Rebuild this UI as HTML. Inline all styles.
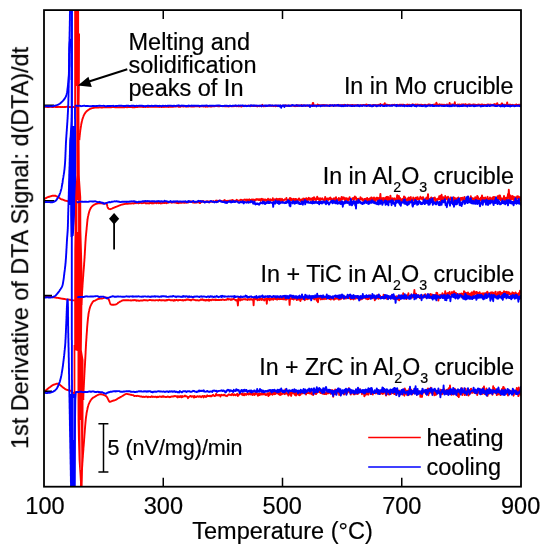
<!DOCTYPE html>
<html><head><meta charset="utf-8"><style>
html,body{margin:0;padding:0;background:#fff;}
svg{display:block;font-family:"Liberation Sans",sans-serif;}
</style></head><body>
<svg width="547" height="550" viewBox="0 0 547 550">
<rect width="547" height="550" fill="#fff"/>
<defs><clipPath id="c"><rect x="44" y="10" width="477" height="476.7"/></clipPath></defs>
<g clip-path="url(#c)" stroke-linejoin="round" stroke-linecap="butt"><path d="M43.0,107.1 L43.6,107.0 L44.2,107.0 L44.8,106.9 L45.4,106.9 L46.0,106.8 L46.6,106.9 L47.2,107.1 L47.8,107.0 L48.4,107.0 L49.0,107.0 L49.6,106.9 L50.2,106.9 L50.8,106.8 L51.4,106.9 L52.0,107.0 L52.6,107.0 L53.2,107.1 L53.8,106.9 L54.4,106.9 L55.0,106.9 L55.6,107.0 L56.2,107.0 L56.8,107.0 L57.4,107.0 L58.0,107.0 L58.6,106.8 L59.2,106.9 L59.8,107.0 L60.4,107.0 L61.0,107.0 L61.6,107.1 L62.2,107.0 L62.8,107.0 L63.4,107.1 L64.0,107.0 L64.6,107.0 L65.2,107.1 L65.8,106.9 L66.4,106.9 L67.0,106.8 L67.6,106.8 L68.2,106.8 L68.8,106.9 L69.4,107.1 L70.0,107.0 L70.6,107.1 L71.2,107.0 L71.8,107.0 L72.4,107.1 L73.0,107.1 L73.6,107.0 L74.2,107.0 L74.8,107.0" stroke="#ff0000" stroke-width="1.9" fill="none"/>
<path d="M43.0,199.4 L43.6,199.1 L44.2,198.9 L44.8,198.6 L45.4,198.4 L46.0,198.0 L46.6,197.8 L47.2,197.4 L47.8,197.2 L48.4,197.0 L49.0,196.7 L49.6,196.7 L50.2,196.4 L50.8,196.3 L51.4,196.0 L52.0,195.9 L52.6,195.7 L53.2,195.6 L53.8,195.7 L54.4,195.7 L55.0,195.6 L55.6,195.7 L56.2,196.1 L56.8,196.4 L57.4,196.8 L58.0,197.1 L58.6,197.5 L59.2,197.9 L59.8,198.3 L60.4,198.7 L61.0,199.1 L61.6,199.3 L62.2,199.5 L62.8,199.7 L63.4,199.9 L64.0,200.2 L64.6,200.5 L65.2,200.6 L65.8,200.7 L66.4,200.9 L67.0,201.0 L67.6,201.2 L68.2,201.4 L68.8,201.4 L69.4,201.3 L70.0,201.4 L70.6,201.4 L71.2,201.3 L71.8,201.4 L72.4,201.4 L73.0,201.4 L73.6,201.5 L74.2,201.4 L74.8,201.4" stroke="#ff0000" stroke-width="1.9" fill="none"/>
<path d="M43.0,295.8 L43.6,295.9 L44.2,296.0 L44.8,296.0 L45.4,296.1 L46.0,296.2 L46.6,296.2 L47.2,296.2 L47.8,296.4 L48.4,296.6 L49.0,296.7 L49.6,296.8 L50.2,296.8 L50.8,296.9 L51.4,297.0 L52.0,297.1 L52.6,297.2 L53.2,297.2 L53.8,297.2 L54.4,297.4 L55.0,297.6 L55.6,297.6 L56.2,297.7 L56.8,297.8 L57.4,297.9 L58.0,297.9 L58.6,298.0 L59.2,298.1 L59.8,298.2 L60.4,298.4 L61.0,298.5 L61.6,298.6 L62.2,298.7 L62.8,298.8 L63.4,298.8 L64.0,299.0 L64.6,299.0 L65.2,299.1 L65.8,299.3 L66.4,299.4 L67.0,299.5 L67.6,299.6 L68.2,299.5 L68.8,299.6 L69.4,299.7 L70.0,299.7 L70.6,300.0 L71.2,300.1 L71.8,300.3 L72.4,300.3 L73.0,300.4 L73.6,300.4 L74.2,300.4 L74.8,300.3" stroke="#ff0000" stroke-width="1.9" fill="none"/>
<path d="M43.0,392.9 L43.6,392.3 L44.2,391.8 L44.8,391.3 L45.4,390.8 L46.0,390.3 L46.6,389.8 L47.2,389.2 L47.8,388.7 L48.4,388.2 L49.0,387.8 L49.6,387.4 L50.2,387.0 L50.8,386.5 L51.4,386.0 L52.0,385.6 L52.6,385.2 L53.2,385.0 L53.8,384.7 L54.4,384.5 L55.0,384.3 L55.6,384.1 L56.2,383.9 L56.8,383.7 L57.4,383.7 L58.0,383.6 L58.6,383.7 L59.2,384.3 L59.8,384.7 L60.4,385.2 L61.0,385.8 L61.6,386.3 L62.2,386.8 L62.8,387.2 L63.4,387.7 L64.0,388.1 L64.6,388.6 L65.2,389.0 L65.8,389.4 L66.4,389.6 L67.0,389.9 L67.6,390.0 L68.2,390.2 L68.8,390.4 L69.4,390.5 L70.0,390.6 L70.6,390.7 L71.2,391.0 L71.8,392.0 L72.4,393.1 L73.0,393.2 L73.6,392.9 L74.2,392.6 L74.8,392.4" stroke="#ff0000" stroke-width="1.9" fill="none"/>
<path d="M44,105.3 L54,105.3 M44,200.9 L54.3,200.9 M44,295.6 L52,295.6 M44,391.3 L52,391.3" stroke="#000" stroke-width="1.6" fill="none"/>
<path d="M43.0,106.5 L43.6,106.3 L44.2,106.4 L44.8,106.4 L45.4,106.4 L46.0,106.3 L46.6,106.1 L47.2,106.1 L47.8,106.3 L48.4,106.3 L49.0,106.4 L49.6,106.2 L50.0,106.4 L50.7,106.4 L51.5,106.4 L52.2,106.3 L52.9,106.2 L53.5,106.0 L54.2,105.8 L54.8,105.6 L55.5,105.5 L56.1,105.3 L56.8,105.1 L57.4,104.9 L58.0,104.7 L58.6,104.4 L59.3,104.0 L59.8,103.7 L60.3,103.3 L60.8,102.8 L61.4,102.4 L61.9,101.9 L62.4,101.4 L62.9,100.9 L63.3,100.4 L63.8,99.9 L64.1,99.4 L64.5,98.8 L64.9,98.3 L65.2,97.7 L65.5,97.2 L65.8,96.6 L66.1,96.0 L66.3,95.3 L66.5,94.7 L66.7,94.0 L66.9,93.3 L67.0,92.7 L67.1,92.2 L67.2,91.6 L67.3,91.0 L67.4,90.3 L67.4,89.7 L67.5,89.0 L67.6,88.2 L67.7,87.7 L67.7,87.2 L67.8,86.6 L67.9,86.1 L67.9,85.5 L68.0,84.9 L68.1,84.3 L68.1,83.7 L68.2,83.0 L68.3,82.4 L68.3,81.6 L68.4,80.9 L68.4,80.4 L68.5,79.9 L68.5,79.4 L68.6,78.9 L68.6,78.4 L68.7,77.9 L68.7,77.3 L68.7,76.8 L68.8,76.2 L68.8,75.7 L68.9,75.1 L68.9,74.4 L68.9,73.8 L69.0,73.1 L69.0,72.4 L69.0,71.6 L69.1,70.8 L69.1,70.0 L69.1,69.5 L69.1,69.0 L69.1,68.5 L69.1,67.9 L69.2,67.3 L69.2,66.8 L69.2,66.1 L69.2,65.5 L69.2,64.9 L69.2,64.2 L69.2,63.6 L69.2,62.9 L69.2,62.2 L69.2,61.5 L69.2,60.8 L69.2,60.2 L69.2,59.5 L69.2,58.8 L69.2,58.1 L69.2,57.4 L69.2,56.8 L69.2,56.1 L69.2,55.5 L69.2,54.8 L69.2,54.2 L69.2,53.6 L69.3,53.0 L69.3,52.5 L69.3,51.9 L69.3,51.4 L69.3,50.9 L69.3,50.4 L69.3,50.0 L69.3,49.0 L69.4,48.0 L69.4,47.2 L69.4,46.5 L69.5,45.8 L69.5,45.2 L69.5,44.6 L69.6,44.1 L69.6,43.6 L69.7,43.2 L69.7,42.8 L69.8,42.4 L69.8,42.0 L70.0,40.5 L70.3,39.7 L70.6,40.0 L70.7,40.2 L70.7,40.4 L70.8,40.7 L70.9,40.9 L70.9,41.3 L71.0,41.6 L71.1,42.1 L71.1,42.7 L71.2,43.4 L71.3,44.3 L71.3,45.3 L71.4,46.6 L71.4,48.0 L71.4,48.4 L71.4,48.8 L71.4,49.2 L71.4,49.6 L71.4,50.1 L71.4,50.6 L71.5,51.0 L71.5,51.5 L71.5,52.0 L71.5,52.5 L71.5,53.1 L71.5,53.6 L71.5,54.2 L71.5,54.7 L71.5,55.3 L71.5,55.9 L71.5,56.5 L71.5,57.1 L71.5,57.7 L71.5,58.3 L71.5,58.9 L71.5,59.6 L71.5,60.2 L71.5,60.9 L71.5,61.5 L71.5,62.2 L71.5,62.8 L71.5,63.5 L71.5,64.2 L71.5,64.8 L71.5,65.5 L71.5,66.2 L71.6,66.9 L71.6,67.5 L71.6,68.2 L71.6,68.9 L71.6,69.6 L71.6,70.3 L71.6,70.9 L71.6,71.6 L71.6,72.3 L71.6,72.9 L71.6,73.6 L71.6,74.3 L71.6,74.9 L71.6,75.6 L71.6,76.2 L71.6,76.9 L71.6,77.5 L71.6,78.2 L71.6,78.8 L71.6,79.4 L71.6,80.0" stroke="#0000ff" stroke-width="1.9" fill="none"/>
<path d="M43.0,202.3 L43.6,202.3 L44.2,202.5 L44.8,202.2 L45.4,202.1 L46.0,202.0 L46.6,202.0 L47.2,202.1 L47.8,202.1 L48.4,202.1 L49.0,202.1 L49.6,202.1 L50.2,202.2 L50.8,202.1 L51.0,202.2 L51.7,202.2 L52.4,202.2 L53.0,202.1 L53.8,201.9 L54.6,201.5 L55.0,201.2 L55.5,200.9 L56.0,200.5 L56.5,199.9 L56.9,199.4 L57.2,198.8 L57.6,198.1 L58.0,197.5 L58.3,196.9 L58.6,196.4 L59.0,195.9 L59.4,195.0 L59.5,194.6 L59.7,194.1 L59.9,193.6 L60.1,193.1 L60.3,192.5 L60.5,191.8 L60.7,191.2 L60.9,190.4 L61.1,189.7 L61.3,189.0 L61.5,188.2 L61.6,187.7 L61.7,187.1 L61.8,186.6 L61.9,186.0 L62.0,185.4 L62.1,184.8 L62.3,184.1 L62.4,183.5 L62.5,182.9 L62.6,182.2 L62.7,181.6 L62.7,180.9 L62.8,180.3 L62.9,179.7 L63.0,179.1 L63.1,178.5 L63.2,178.0 L63.3,177.3 L63.4,176.7 L63.5,176.0 L63.6,175.4 L63.7,174.9 L63.8,174.3 L63.9,173.7 L64.0,173.1 L64.1,172.5 L64.2,171.9 L64.2,171.3 L64.3,170.7 L64.4,170.0 L64.5,169.4 L64.5,168.9 L64.6,168.4 L64.6,167.8 L64.7,167.3 L64.7,166.7 L64.8,166.2 L64.8,165.6 L64.9,165.0 L64.9,164.4 L65.0,163.8 L65.0,163.1 L65.1,162.4 L65.1,161.6 L65.2,160.8 L65.2,160.0 L65.2,159.5 L65.3,159.0 L65.3,158.5 L65.3,158.0 L65.3,157.4 L65.4,156.8 L65.4,156.2 L65.4,155.6 L65.4,155.0 L65.5,154.4 L65.5,153.7 L65.5,153.1 L65.5,152.4 L65.6,151.8 L65.6,151.1 L65.6,150.5 L65.7,149.8 L65.7,149.2 L65.7,148.5 L65.7,147.9 L65.8,147.2 L65.8,146.6 L65.8,146.0 L65.8,145.3 L65.9,144.7 L65.9,144.2 L65.9,143.6 L65.9,143.0 L66.0,142.5 L66.0,142.0 L66.0,141.3 L66.1,140.6 L66.1,139.9 L66.2,139.2 L66.2,138.6 L66.2,138.0 L66.3,137.4 L66.3,136.8 L66.4,136.2 L66.4,135.6 L66.4,135.1 L66.5,134.5 L66.5,134.0 L66.6,133.4 L66.6,132.9 L66.6,132.3 L66.7,131.7 L66.7,131.2 L66.8,130.6 L66.8,130.0 L66.8,129.4 L66.9,128.8 L66.9,128.2 L67.0,127.6 L67.0,127.1 L67.0,126.5 L67.1,125.9 L67.1,125.3 L67.2,124.8 L67.2,124.2 L67.2,123.6 L67.3,123.0 L67.3,122.4 L67.4,121.8 L67.4,121.2 L67.4,120.6 L67.5,120.0 L67.5,119.3 L67.6,118.7 L67.6,118.0 L67.6,117.5 L67.7,116.9 L67.7,116.4 L67.7,115.9 L67.7,115.3 L67.8,114.8 L67.8,114.2 L67.8,113.7 L67.9,113.2 L67.9,112.6 L67.9,112.0 L68.0,111.5 L68.0,110.9 L68.0,110.3 L68.0,109.7 L68.1,109.1 L68.1,108.5 L68.1,107.9 L68.1,107.2 L68.2,106.6 L68.2,105.9 L68.2,105.2 L68.3,104.5 L68.3,103.7 L68.3,103.0 L68.3,102.5 L68.3,102.0 L68.3,101.5 L68.4,101.0 L68.4,100.4 L68.4,99.9 L68.4,99.4 L68.4,98.8 L68.4,98.3 L68.4,97.7 L68.5,97.1 L68.5,96.6 L68.5,96.0 L68.5,95.4 L68.5,94.8 L68.5,94.2 L68.5,93.6 L68.5,93.0 L68.6,92.4 L68.6,91.8 L68.6,91.2 L68.6,90.6 L68.6,90.0 L68.6,89.3 L68.6,88.7 L68.6,88.1 L68.7,87.4 L68.7,86.8 L68.7,86.1 L68.7,85.4 L68.7,84.8 L68.7,84.1 L68.7,83.4 L68.7,82.8 L68.8,82.1 L68.8,81.4 L68.8,80.7 L68.8,80.0 L68.8,79.5 L68.8,78.9 L68.8,78.4 L68.8,77.9 L68.8,77.3 L68.9,76.8 L68.9,76.2 L68.9,75.7 L68.9,75.2 L68.9,74.6 L68.9,74.1 L68.9,73.5 L68.9,72.9 L68.9,72.4 L68.9,71.8 L69.0,71.3 L69.0,70.7 L69.0,70.1 L69.0,69.6 L69.0,69.0 L69.0,68.4 L69.0,67.8 L69.0,67.2 L69.0,66.7 L69.0,66.1 L69.0,65.5 L69.1,64.9 L69.1,64.3 L69.1,63.7 L69.1,63.1 L69.1,62.4 L69.1,61.8 L69.1,61.2 L69.1,60.6 L69.1,60.0 L69.1,59.3 L69.2,58.7 L69.2,58.0 L69.2,57.4 L69.2,56.8 L69.2,56.1 L69.2,55.4 L69.2,54.8 L69.2,54.1 L69.2,53.4 L69.3,52.8 L69.3,52.1 L69.3,51.4 L69.3,50.7 L69.3,50.0 L69.3,49.5 L69.3,48.9 L69.3,48.4 L69.3,47.8 L69.3,47.3 L69.4,46.7 L69.4,46.1 L69.4,45.6 L69.4,45.0 L69.4,44.4 L69.4,43.8 L69.4,43.2 L69.4,42.6 L69.4,42.0 L69.5,41.4 L69.5,40.8 L69.5,40.2 L69.5,39.5 L69.5,38.9 L69.5,38.3 L69.5,37.7 L69.5,37.0 L69.6,36.4 L69.6,35.8 L69.6,35.1 L69.6,34.5 L69.6,33.9 L69.6,33.2 L69.6,32.6 L69.6,31.9 L69.7,31.3 L69.7,30.6 L69.7,30.0 L69.7,29.4 L69.7,28.7 L69.7,28.1 L69.7,27.4 L69.7,26.8 L69.8,26.1 L69.8,25.5 L69.8,24.9 L69.8,24.2 L69.8,23.6 L69.8,23.0 L69.8,22.3 L69.8,21.7 L69.8,21.1 L69.9,20.5 L69.9,19.8 L69.9,19.2 L69.9,18.6 L69.9,18.0 L69.9,17.4 L69.9,16.8 L69.9,16.2 L69.9,15.6 L69.9,15.0 L69.9,14.4 L70.0,13.9 L70.0,13.3 L70.0,12.7 L70.0,12.2 L70.0,11.6 L70.0,11.1 L70.0,10.5 L70.0,10.0 L70.0,9.3 L70.0,8.6 L70.0,7.9 L70.0,7.3 L70.0,6.6 L70.0,5.9 L70.0,5.3 L70.0,4.6 L70.0,4.0 L70.0,3.4 L70.0,2.7 L70.0,2.1 L70.0,1.5 L70.1,0.9 L70.1,0.3 L70.1,-0.3 L70.1,-0.9 L70.1,-1.5 L70.1,-2.1 L70.1,-2.7 L70.0,-3.3 L70.0,-3.9 L70.0,-4.5 L70.0,-5.0 L70.0,-5.6 L70.0,-6.2 L70.0,-6.8 L70.0,-7.3 L70.0,-7.9 L70.0,-8.5 L70.0,-9.0 L70.0,-9.6 L70.0,-10.2 L70.0,-10.7 L70.0,-11.3 L70.0,-11.9 L70.0,-12.5 L70.0,-13.0 L70.0,-13.6 L70.0,-14.2 L70.0,-14.7 L70.0,-15.3 L70.0,-15.9 L70.0,-16.5 L70.0,-17.0 L70.0,-17.6 L70.0,-18.2 L70.0,-18.8 L70.0,-19.4 L70.0,-20.0" stroke="#0000ff" stroke-width="1.9" fill="none"/>
<path d="M43.0,297.4 L43.6,297.4 L44.2,297.3 L44.8,297.5 L45.4,297.4 L46.0,297.5 L46.6,297.4 L47.2,297.3 L47.8,297.4 L48.4,297.5 L49.0,297.5 L49.5,297.5 L50.2,297.5 L50.9,297.5 L51.5,297.4 L52.4,297.2 L53.2,296.9 L53.8,296.7 L54.3,296.4 L55.0,296.0 L55.4,295.7 L55.8,295.3 L56.2,294.9 L56.6,294.4 L57.1,293.9 L57.5,293.4 L57.9,292.9 L58.3,292.4 L58.7,291.8 L59.1,291.3 L59.5,290.7 L59.9,290.0 L60.2,289.6 L60.5,289.2 L60.8,288.7 L61.1,288.3 L61.4,287.9 L61.7,287.3 L62.0,286.7 L62.3,285.9 L62.6,285.0 L62.7,284.6 L62.8,284.1 L62.9,283.6 L63.0,283.0 L63.1,282.4 L63.2,281.8 L63.3,281.2 L63.4,280.6 L63.5,279.9 L63.6,279.3 L63.7,278.6 L63.8,277.9 L63.9,277.2 L63.9,276.6 L64.0,275.9 L64.1,275.2 L64.2,274.5 L64.3,273.9 L64.3,273.2 L64.4,272.6 L64.5,272.0 L64.6,271.4 L64.7,270.8 L64.7,270.2 L64.8,269.7 L64.9,269.1 L64.9,268.6 L65.0,268.0 L65.1,267.5 L65.1,267.0 L65.2,266.4 L65.3,265.9 L65.3,265.3 L65.4,264.8 L65.4,264.2 L65.5,263.5 L65.6,262.9 L65.6,262.2 L65.7,261.5 L65.7,260.8 L65.8,260.0 L65.8,259.5 L65.9,259.0 L65.9,258.5 L66.0,257.9 L66.0,257.3 L66.0,256.7 L66.1,256.1 L66.1,255.5 L66.1,254.9 L66.2,254.3 L66.2,253.6 L66.3,253.0 L66.3,252.3 L66.3,251.7 L66.4,251.0 L66.4,250.3 L66.4,249.7 L66.5,249.0 L66.5,248.3 L66.6,247.7 L66.6,247.0 L66.6,246.4 L66.7,245.7 L66.7,245.1 L66.7,244.5 L66.8,243.9 L66.8,243.3 L66.8,242.7 L66.9,242.1 L66.9,241.5 L66.9,241.0 L67.0,240.5 L67.0,240.0 L67.0,239.2 L67.1,238.5 L67.1,237.8 L67.2,237.2 L67.2,236.6 L67.3,236.0 L67.3,235.4 L67.4,234.9 L67.4,234.4 L67.4,233.9 L67.5,233.4 L67.5,232.8 L67.6,232.3 L67.6,231.8 L67.6,231.2 L67.7,230.7 L67.7,230.0 L67.7,229.4 L67.8,228.7 L67.8,228.0 L67.8,227.5 L67.8,227.0 L67.9,226.5 L67.9,226.0 L67.9,225.5 L67.9,225.0 L67.9,224.5 L67.9,223.9 L68.0,223.4 L68.0,222.9 L68.0,222.4 L68.0,221.8 L68.0,221.3 L68.0,220.7 L68.0,220.1 L68.1,219.5 L68.1,219.0 L68.1,218.4 L68.1,217.7 L68.1,217.1 L68.1,216.5 L68.1,215.8 L68.2,215.1 L68.2,214.5 L68.2,213.8 L68.2,213.0 L68.2,212.3 L68.3,211.6 L68.3,210.8 L68.3,210.0 L68.3,209.5 L68.3,209.0 L68.3,208.5 L68.4,208.0 L68.4,207.5 L68.4,207.0 L68.4,206.4 L68.4,205.9 L68.4,205.3 L68.5,204.8 L68.5,204.2 L68.5,203.6 L68.5,203.1 L68.5,202.5 L68.5,201.9 L68.6,201.3 L68.6,200.7 L68.6,200.1 L68.6,199.5 L68.6,198.9 L68.7,198.2 L68.7,197.6 L68.7,197.0 L68.7,196.4 L68.7,195.8 L68.8,195.1 L68.8,194.5 L68.8,193.9 L68.8,193.2 L68.8,192.6 L68.8,191.9 L68.9,191.3 L68.9,190.7 L68.9,190.0 L68.9,189.4 L68.9,188.7 L69.0,188.1 L69.0,187.5 L69.0,186.8 L69.0,186.2 L69.0,185.6 L69.1,184.9 L69.1,184.3 L69.1,183.7 L69.1,183.1 L69.1,182.4 L69.1,181.8 L69.2,181.2 L69.2,180.6 L69.2,180.0 L69.2,179.4 L69.2,178.8 L69.3,178.2 L69.3,177.6 L69.3,176.9 L69.3,176.3 L69.3,175.7 L69.3,175.1 L69.3,174.4 L69.4,173.8 L69.4,173.2 L69.4,172.5 L69.4,171.9 L69.4,171.3 L69.4,170.6 L69.5,170.0 L69.5,169.3 L69.5,168.7 L69.5,168.1 L69.5,167.4 L69.5,166.8 L69.6,166.1 L69.6,165.5 L69.6,164.9 L69.6,164.2 L69.6,163.6 L69.6,163.0 L69.6,162.4 L69.7,161.8 L69.7,161.1 L69.7,160.5 L69.7,159.9 L69.7,159.3 L69.7,158.7 L69.8,158.1 L69.8,157.5 L69.8,156.9 L69.8,156.4 L69.8,155.8 L69.8,155.2 L69.9,154.7 L69.9,154.1 L69.9,153.6 L69.9,153.0 L69.9,152.5 L69.9,152.0 L69.9,151.5 L70.0,151.0 L70.0,150.5 L70.0,150.0 L70.0,149.2 L70.1,148.4 L70.1,147.7 L70.1,147.0 L70.1,146.2 L70.2,145.5 L70.2,144.9 L70.2,144.2 L70.3,143.5 L70.3,142.9 L70.3,142.3 L70.4,141.6 L70.4,141.0 L70.4,140.5 L70.5,139.9 L70.5,139.3 L70.5,138.7 L70.5,138.2 L70.6,137.6 L70.6,137.1 L70.6,136.6 L70.7,136.1 L70.7,135.5 L70.7,135.0 L70.8,134.5 L70.8,134.0 L70.8,133.5 L70.8,133.0 L70.9,132.5 L70.9,132.0 L70.9,131.3 L71.0,130.6 L71.0,130.0 L71.1,129.3 L71.1,128.8 L71.1,128.2 L71.2,127.7 L71.2,127.2 L71.3,126.6 L71.3,126.1 L71.3,125.6 L71.4,125.1 L71.4,124.6 L71.4,124.0 L71.5,123.4 L71.5,122.8 L71.5,122.2 L71.6,121.5 L71.6,120.8 L71.6,120.0 L71.6,119.5 L71.6,119.1 L71.6,118.7 L71.6,118.4 L71.7,118.1 L71.7,117.8 L71.7,117.5 L71.7,117.3 L71.7,117.0 L71.7,116.8 L71.7,116.5 L71.7,116.3 L71.7,116.0 L71.7,115.7 L71.7,115.4 L71.7,115.1 L71.7,114.7 L71.8,114.3 L71.8,113.8 L71.8,113.3 L71.8,112.8 L71.8,112.1 L71.8,111.5 L71.8,110.7 L71.8,109.9 L71.8,109.0 L71.8,108.0 L71.8,106.9 L71.8,105.8 L71.8,104.5 L71.8,103.1 L71.8,101.6 L71.8,100.0 L71.8,99.6 L71.8,99.2 L71.8,98.9 L71.8,98.5 L71.8,98.1 L71.8,97.6 L71.8,97.2 L71.8,96.8 L71.8,96.4 L71.8,95.9 L71.8,95.5 L71.8,95.0 L71.8,94.5 L71.8,94.0 L71.8,93.6 L71.8,93.1 L71.8,92.6 L71.8,92.1 L71.8,91.6 L71.8,91.0 L71.8,90.5 L71.8,90.0 L71.8,89.4 L71.8,88.9 L71.8,88.4 L71.8,87.8 L71.8,87.2 L71.8,86.7 L71.8,86.1 L71.8,85.5 L71.8,84.9 L71.8,84.3 L71.8,83.8 L71.8,83.2 L71.8,82.5 L71.8,81.9 L71.8,81.3 L71.8,80.7 L71.8,80.1 L71.8,79.5 L71.8,78.8 L71.8,78.2 L71.8,77.5 L71.8,76.9 L71.8,76.3 L71.8,75.6 L71.8,74.9 L71.8,74.3 L71.8,73.6 L71.8,73.0 L71.8,72.3 L71.8,71.6 L71.8,70.9 L71.8,70.3 L71.8,69.6 L71.8,68.9 L71.8,68.2 L71.8,67.5 L71.8,66.9 L71.8,66.2 L71.8,65.5 L71.8,64.8 L71.8,64.1 L71.8,63.4 L71.8,62.7 L71.8,62.0 L71.8,61.3 L71.8,60.6 L71.8,59.9 L71.8,59.2 L71.8,58.5 L71.8,57.7 L71.8,57.0 L71.8,56.3 L71.8,55.6 L71.8,54.9 L71.8,54.2 L71.8,53.5 L71.8,52.8 L71.8,52.1 L71.8,51.4 L71.8,50.7 L71.8,50.0 L71.8,49.3 L71.8,48.5 L71.8,47.8 L71.8,47.1 L71.8,46.4 L71.8,45.7 L71.8,45.0 L71.8,44.3 L71.8,43.6 L71.8,43.0 L71.8,42.3 L71.8,41.6 L71.8,40.9 L71.8,40.2 L71.8,39.5 L71.8,38.8 L71.8,38.1 L71.8,37.5 L71.8,36.8 L71.8,36.1 L71.8,35.5 L71.8,34.8 L71.8,34.1 L71.8,33.5 L71.8,32.8 L71.8,32.2 L71.8,31.5 L71.8,30.9 L71.8,30.2 L71.8,29.6 L71.8,29.0 L71.8,28.3 L71.8,27.7 L71.8,27.1 L71.8,26.5 L71.8,25.9 L71.8,25.3 L71.8,24.7 L71.8,24.1 L71.8,23.5 L71.8,22.9 L71.8,22.3 L71.8,21.8 L71.8,21.2 L71.8,20.6 L71.8,20.1 L71.8,19.5 L71.8,19.0 L71.8,18.5 L71.8,17.9 L71.8,17.4 L71.8,16.9 L71.8,16.4 L71.8,15.9 L71.8,15.4 L71.8,14.9 L71.8,14.4 L71.8,13.9 L71.8,13.5 L71.8,13.0 L71.8,12.5 L71.8,12.1 L71.8,11.7 L71.8,11.2 L71.8,10.8 L71.8,10.4 L71.8,10.0 L71.8,8.8 L71.8,7.7 L71.8,6.6 L71.8,5.6 L71.8,4.6 L71.8,3.6 L71.8,2.7 L71.8,1.8 L71.8,1.0 L71.8,0.2 L71.8,-0.6 L71.8,-1.4 L71.8,-2.1 L71.8,-2.8 L71.8,-3.4 L71.8,-4.0 L71.8,-4.6 L71.8,-5.2 L71.8,-5.8 L71.8,-6.3 L71.8,-6.8 L71.8,-7.3 L71.8,-7.8 L71.8,-8.3 L71.8,-8.8 L71.8,-9.2 L71.8,-9.6 L71.8,-10.1 L71.8,-10.5 L71.8,-10.9 L71.8,-11.3 L71.8,-11.7 L71.8,-12.1 L71.8,-12.5 L71.8,-12.9 L71.8,-13.3 L71.8,-13.7 L71.8,-14.1 L71.8,-14.5 L71.8,-15.0 L71.8,-15.4 L71.8,-15.8 L71.8,-16.3 L71.8,-16.8 L71.8,-17.3 L71.8,-17.8 L71.8,-18.3 L71.8,-18.8 L71.8,-19.4 L71.8,-20.0" stroke="#0000ff" stroke-width="1.9" fill="none"/>
<path d="M43.0,392.6 L43.6,392.6 L44.2,392.7 L44.8,392.7 L45.4,392.9 L46.0,393.0 L46.6,393.1 L47.2,393.0 L47.8,392.8 L48.0,392.8 L48.6,392.8 L49.2,392.8 L49.9,392.7 L50.5,392.6 L51.2,392.4 L51.9,392.2 L52.5,391.9 L53.2,391.6 L53.8,391.2 L54.4,390.9 L55.0,390.4 L55.5,389.9 L55.9,389.5 L56.3,389.1 L56.7,388.6 L57.1,388.0 L57.5,387.3 L57.7,386.8 L58.0,386.3 L58.2,385.8 L58.5,385.2 L58.7,384.6 L59.0,384.0 L59.2,383.3 L59.5,382.7 L59.7,382.0 L59.9,381.5 L60.0,381.0 L60.2,380.4 L60.3,379.9 L60.4,379.4 L60.6,378.8 L60.7,378.2 L60.9,377.6 L61.0,377.0 L61.1,376.4 L61.3,375.7 L61.4,375.0 L61.5,374.5 L61.6,373.9 L61.7,373.4 L61.8,372.8 L61.9,372.3 L62.0,371.7 L62.1,371.1 L62.2,370.5 L62.3,369.9 L62.4,369.2 L62.5,368.6 L62.6,367.9 L62.7,367.2 L62.8,366.5 L62.9,365.8 L63.0,365.0 L63.1,364.5 L63.1,364.0 L63.2,363.4 L63.3,362.8 L63.3,362.2 L63.4,361.6 L63.5,361.0 L63.6,360.4 L63.6,359.8 L63.7,359.1 L63.8,358.5 L63.9,357.8 L63.9,357.2 L64.0,356.5 L64.1,355.9 L64.2,355.2 L64.2,354.6 L64.3,354.0 L64.4,353.4 L64.4,352.8 L64.5,352.2 L64.5,351.6 L64.6,351.0 L64.6,350.5 L64.7,350.0 L64.8,349.3 L64.8,348.6 L64.9,348.0 L65.0,347.4 L65.0,346.8 L65.1,346.3 L65.1,345.8 L65.2,345.3 L65.2,344.8 L65.2,344.3 L65.3,343.7 L65.3,343.1 L65.4,342.4 L65.4,341.7 L65.4,340.9 L65.5,340.0 L65.5,339.5 L65.6,339.0 L65.6,338.5 L65.6,338.0 L65.6,337.5 L65.7,336.9 L65.7,336.3 L65.7,335.7 L65.7,335.1 L65.8,334.5 L65.8,333.9 L65.8,333.3 L65.9,332.6 L65.9,332.0 L65.9,331.3 L65.9,330.6 L66.0,330.0 L66.0,329.3 L66.0,328.7 L66.1,328.0 L66.1,327.3 L66.1,326.7 L66.1,326.0 L66.2,325.4 L66.2,324.7 L66.2,324.1 L66.3,323.5 L66.3,322.9 L66.3,322.3 L66.3,321.7 L66.4,321.1 L66.4,320.5 L66.4,320.0 L66.4,319.3 L66.5,318.6 L66.5,317.9 L66.5,317.2 L66.5,316.5 L66.6,315.8 L66.6,315.2 L66.6,314.5 L66.6,313.8 L66.7,313.2 L66.7,312.5 L66.7,311.9 L66.7,311.3 L66.8,310.7 L66.8,310.1 L66.8,309.5 L66.8,308.9 L66.8,308.4 L66.9,307.8 L66.9,307.3 L66.9,306.8 L66.9,306.3 L67.0,305.9 L67.0,305.4 L67.0,305.0 L67.1,303.9 L67.1,302.9 L67.2,302.1 L67.2,301.4 L67.3,300.7 L67.3,300.2 L67.4,299.9 L67.4,299.6 L67.5,299.5 L67.6,299.4 L67.6,299.4 L67.7,299.6 L67.7,300.0 L67.8,300.9 L67.8,302.1 L67.9,304.0 L67.9,304.4 L67.9,304.8 L67.9,305.2 L67.9,305.6 L67.9,306.0 L67.9,306.5 L68.0,307.0 L68.0,307.5 L68.0,308.0 L68.0,308.5 L68.0,309.0 L68.0,309.6 L68.0,310.2 L68.0,310.7 L68.0,311.3 L68.0,311.9 L68.0,312.5 L68.0,313.2 L68.0,313.8 L68.0,314.4 L68.0,315.1 L68.0,315.7 L68.0,316.4 L68.1,317.1 L68.1,317.7 L68.1,318.4 L68.1,319.1 L68.1,319.8 L68.1,320.5 L68.1,321.2 L68.1,321.9 L68.1,322.5 L68.1,323.2 L68.1,323.9 L68.1,324.6 L68.1,325.3 L68.1,326.0 L68.2,326.7 L68.2,327.3 L68.2,328.0 L68.2,328.7 L68.2,329.3 L68.2,330.0 L68.2,330.6 L68.2,331.1 L68.2,331.7 L68.2,332.2 L68.2,332.8 L68.3,333.4 L68.3,333.9 L68.3,334.5 L68.3,335.0 L68.3,335.6 L68.3,336.1 L68.3,336.7 L68.3,337.3 L68.3,337.8 L68.4,338.4 L68.4,339.0 L68.4,339.5 L68.4,340.1 L68.4,340.7 L68.4,341.2 L68.4,341.8 L68.4,342.4 L68.5,343.0 L68.5,343.5 L68.5,344.1 L68.5,344.7 L68.5,345.3 L68.5,345.9 L68.5,346.5 L68.5,347.1 L68.6,347.7 L68.6,348.3 L68.6,348.9 L68.6,349.5 L68.6,350.1 L68.6,350.8 L68.6,351.4 L68.6,352.0 L68.7,352.7 L68.7,353.3 L68.7,353.9 L68.7,354.6 L68.7,355.2 L68.7,355.9 L68.7,356.6 L68.7,357.2 L68.8,357.9 L68.8,358.6 L68.8,359.3 L68.8,360.0 L68.8,360.5 L68.8,361.1 L68.8,361.6 L68.8,362.2 L68.8,362.7 L68.9,363.3 L68.9,363.8 L68.9,364.4 L68.9,364.9 L68.9,365.5 L68.9,366.1 L68.9,366.7 L68.9,367.2 L68.9,367.8 L69.0,368.4 L69.0,369.0 L69.0,369.6 L69.0,370.2 L69.0,370.8 L69.0,371.4 L69.0,372.0 L69.0,372.6 L69.0,373.2 L69.0,373.8 L69.1,374.4 L69.1,375.0 L69.1,375.6 L69.1,376.3 L69.1,376.9 L69.1,377.5 L69.1,378.1 L69.1,378.8 L69.1,379.4 L69.2,380.0 L69.2,380.6 L69.2,381.3 L69.2,381.9 L69.2,382.5 L69.2,383.1 L69.2,383.8 L69.2,384.4 L69.2,385.0 L69.3,385.7 L69.3,386.3 L69.3,386.9 L69.3,387.6 L69.3,388.2 L69.3,388.8 L69.3,389.5 L69.3,390.1 L69.3,390.7 L69.3,391.3 L69.4,392.0 L69.4,392.6 L69.4,393.2 L69.4,393.8 L69.4,394.5 L69.4,395.1 L69.4,395.7 L69.4,396.3 L69.4,396.9 L69.5,397.6 L69.5,398.2 L69.5,398.8 L69.5,399.4 L69.5,400.0 L69.5,400.6 L69.5,401.2 L69.5,401.8 L69.5,402.4 L69.6,403.0 L69.6,403.6 L69.6,404.2 L69.6,404.8 L69.6,405.4 L69.6,406.0 L69.6,406.6 L69.6,407.2 L69.6,407.8 L69.6,408.4 L69.7,409.0 L69.7,409.6 L69.7,410.2 L69.7,410.7 L69.7,411.3 L69.7,411.9 L69.7,412.5 L69.7,413.1 L69.7,413.7 L69.8,414.3 L69.8,414.9 L69.8,415.5 L69.8,416.1 L69.8,416.7 L69.8,417.3 L69.8,417.8 L69.8,418.4 L69.8,419.0 L69.8,419.6 L69.9,420.2 L69.9,420.8 L69.9,421.4 L69.9,422.0 L69.9,422.6 L69.9,423.2 L69.9,423.8 L69.9,424.4 L69.9,425.0 L69.9,425.6 L70.0,426.2 L70.0,426.8 L70.0,427.4 L70.0,428.0 L70.0,428.7 L70.0,429.3 L70.0,429.9 L70.0,430.5 L70.0,431.1 L70.1,431.7 L70.1,432.4 L70.1,433.0 L70.1,433.6 L70.1,434.2 L70.1,434.9 L70.1,435.5 L70.1,436.1 L70.1,436.8 L70.2,437.4 L70.2,438.1 L70.2,438.7 L70.2,439.3 L70.2,440.0 L70.2,440.6 L70.2,441.1 L70.2,441.7 L70.2,442.3 L70.3,442.9 L70.3,443.5 L70.3,444.1 L70.3,444.6 L70.3,445.2 L70.3,445.8 L70.3,446.4 L70.3,447.1 L70.3,447.7 L70.3,448.3 L70.4,448.9 L70.4,449.5 L70.4,450.1 L70.4,450.7 L70.4,451.4 L70.4,452.0 L70.4,452.6 L70.4,453.2 L70.5,453.9 L70.5,454.5 L70.5,455.1 L70.5,455.8 L70.5,456.4 L70.5,457.0 L70.5,457.7 L70.5,458.3 L70.5,458.9 L70.6,459.6 L70.6,460.2 L70.6,460.8 L70.6,461.5 L70.6,462.1 L70.6,462.7 L70.6,463.4 L70.6,464.0 L70.7,464.6 L70.7,465.3 L70.7,465.9 L70.7,466.5 L70.7,467.2 L70.7,467.8 L70.7,468.4 L70.7,469.1 L70.7,469.7 L70.8,470.3 L70.8,470.9 L70.8,471.5 L70.8,472.2 L70.8,472.8 L70.8,473.4 L70.8,474.0 L70.8,474.6 L70.8,475.2 L70.8,475.8 L70.9,476.4 L70.9,477.0 L70.9,477.6 L70.9,478.2 L70.9,478.8 L70.9,479.3 L70.9,479.9 L70.9,480.5 L70.9,481.1 L70.9,481.6 L70.9,482.2 L71.0,482.8 L71.0,483.3 L71.0,483.9 L71.0,484.4 L71.0,484.9 L71.0,485.5 L71.0,486.0 L71.0,486.7 L71.0,487.4 L71.0,488.1 L71.0,488.8 L71.0,489.5 L71.0,490.2 L71.1,490.8 L71.1,491.5 L71.1,492.1 L71.1,492.8 L71.1,493.4 L71.1,494.1 L71.1,494.7 L71.1,495.3 L71.1,496.0 L71.1,496.6 L71.1,497.2 L71.1,497.8 L71.1,498.4 L71.1,499.0 L71.1,499.6 L71.1,500.2 L71.1,500.8 L71.1,501.4 L71.1,502.0 L71.1,502.6 L71.1,503.2 L71.1,503.8 L71.1,504.3 L71.1,504.9 L71.1,505.5 L71.1,506.1 L71.1,506.6 L71.1,507.2 L71.2,507.8 L71.2,508.3 L71.2,508.9 L71.2,509.5 L71.2,510.1 L71.2,510.6 L71.2,511.2 L71.2,511.8 L71.2,512.4 L71.2,512.9 L71.2,513.5 L71.2,514.1 L71.2,514.7 L71.2,515.2 L71.2,515.8 L71.2,516.4 L71.2,517.0 L71.2,517.6 L71.2,518.2 L71.2,518.8 L71.2,519.4 L71.2,520.0" stroke="#0000ff" stroke-width="1.9" fill="none"/>
<path d="M71.8,-20.0 L71.8,-19.4 L71.8,-18.8 L71.8,-18.2 L71.8,-17.6 L71.8,-17.0 L71.8,-16.4 L71.8,-15.8 L71.8,-15.3 L71.8,-14.7 L71.8,-14.1 L71.8,-13.5 L71.8,-12.9 L71.8,-12.4 L71.8,-11.8 L71.8,-11.2 L71.8,-10.6 L71.8,-10.1 L71.8,-9.5 L71.8,-8.9 L71.8,-8.4 L71.8,-7.8 L71.8,-7.2 L71.8,-6.7 L71.8,-6.1 L71.8,-5.5 L71.8,-5.0 L71.8,-4.4 L71.8,-3.9 L71.8,-3.3 L71.8,-2.8 L71.8,-2.2 L71.8,-1.7 L71.8,-1.1 L71.8,-0.6 L71.8,-0.0 L71.8,0.5 L71.8,1.1 L71.8,1.6 L71.8,2.2 L71.8,2.7 L71.8,3.3 L71.8,3.8 L71.8,4.3 L71.8,4.9 L71.8,5.4 L71.8,6.0 L71.8,6.5 L71.8,7.0 L71.8,7.6 L71.8,8.1 L71.8,8.7 L71.8,9.2 L71.8,9.7 L71.8,10.3 L71.8,10.8 L71.8,11.3 L71.8,11.9 L71.8,12.4 L71.8,12.9 L71.8,13.5 L71.8,14.0 L71.8,14.5 L71.8,15.1 L71.8,15.6 L71.8,16.1 L71.8,16.7 L71.8,17.2 L71.8,17.7 L71.8,18.3 L71.8,18.8 L71.8,19.3 L71.8,19.9 L71.8,20.4 L71.8,21.0 L71.8,21.5 L71.8,22.0 L71.8,22.6 L71.8,23.1 L71.8,23.6 L71.8,24.2 L71.8,24.7 L71.8,25.2 L71.8,25.8 L71.8,26.3 L71.8,26.8 L71.8,27.4 L71.8,27.9 L71.8,28.5 L71.8,29.0 L71.8,29.5 L71.8,30.1 L71.8,30.6 L71.8,31.2 L71.8,31.7 L71.8,32.3 L71.8,32.8 L71.8,33.4 L71.8,33.9 L71.8,34.5 L71.8,35.0 L71.8,35.6 L71.8,36.1 L71.8,36.7 L71.8,37.2 L71.8,37.8 L71.8,38.3 L71.8,38.9 L71.8,39.4 L71.8,40.0 L71.8,40.6 L71.8,41.1 L71.8,41.7 L71.8,42.2 L71.8,42.8 L71.8,43.4 L71.8,43.9 L71.8,44.5 L71.8,45.1 L71.8,45.7 L71.8,46.2 L71.8,46.8 L71.8,47.4 L71.8,48.0 L71.8,48.6 L71.8,49.1 L71.8,49.7 L71.8,50.3 L71.8,50.9 L71.8,51.5 L71.8,52.1 L71.8,52.7 L71.8,53.3 L71.8,53.9 L71.8,54.5 L71.8,55.1 L71.8,55.7 L71.8,56.3 L71.8,56.9 L71.8,57.5 L71.8,58.1 L71.8,58.7 L71.8,59.4 L71.8,60.0 L71.8,60.6 L71.8,61.2 L71.8,61.8 L71.8,62.5 L71.8,63.1 L71.8,63.7 L71.8,64.4 L71.8,65.0 L71.8,65.7 L71.8,66.3 L71.8,66.9 L71.8,67.6 L71.8,68.2 L71.8,68.9 L71.8,69.6 L71.8,70.2 L71.8,70.9 L71.8,71.5 L71.8,72.2 L71.8,72.9 L71.8,73.6 L71.8,74.2 L71.8,74.9 L71.8,75.6 L71.8,76.3 L71.8,77.0 L71.8,77.7 L71.8,78.4 L71.8,79.1 L71.8,79.8 L71.8,80.5 L71.8,81.2 L71.8,81.9 L71.8,82.6 L71.8,83.3 L71.8,84.0 L71.8,84.8 L71.8,85.5 L71.8,86.2 L71.8,87.0 L71.8,87.7 L71.8,88.4 L71.8,89.2 L71.8,89.9 L71.8,90.7 L71.8,91.4 L71.8,92.2 L71.8,93.0 L71.8,93.7 L71.8,94.5 L71.8,95.3 L71.8,96.0 L71.8,96.8 L71.8,97.6 L71.8,98.4 L71.8,99.2 L71.8,100.0 L71.8,100.5 L71.8,101.0 L71.8,101.5 L71.8,101.9 L71.8,102.4 L71.8,102.9 L71.8,103.4 L71.8,103.9 L71.8,104.4 L71.8,104.9 L71.8,105.4 L71.8,105.9 L71.8,106.4 L71.8,106.9 L71.8,107.5 L71.8,108.0 L71.8,108.5 L71.8,109.0 L71.8,109.5 L71.8,110.1 L71.8,110.6 L71.8,111.1 L71.8,111.6 L71.8,112.2 L71.8,112.7 L71.8,113.2 L71.8,113.8 L71.8,114.3 L71.8,114.9 L71.8,115.4 L71.8,115.9 L71.8,116.5 L71.8,117.0 L71.8,117.6 L71.8,118.1 L71.8,118.7 L71.8,119.3 L71.8,119.8 L71.8,120.4 L71.8,120.9 L71.8,121.5 L71.8,122.1 L71.8,122.6 L71.8,123.2 L71.8,123.8 L71.8,124.3 L71.8,124.9 L71.8,125.5 L71.8,126.1 L71.8,126.7 L71.8,127.2 L71.8,127.8 L71.8,128.4 L71.8,129.0 L71.8,129.6 L71.8,130.2 L71.8,130.7 L71.8,131.3 L71.8,131.9 L71.8,132.5 L71.8,133.1 L71.8,133.7 L71.8,134.3 L71.8,134.9 L71.8,135.5 L71.8,136.1 L71.8,136.7 L71.8,137.3 L71.8,137.9 L71.8,138.5 L71.8,139.2 L71.8,139.8 L71.8,140.4 L71.8,141.0 L71.8,141.6 L71.8,142.2 L71.8,142.8 L71.8,143.5 L71.8,144.1 L71.8,144.7 L71.8,145.3 L71.8,145.9 L71.8,146.6 L71.8,147.2 L71.8,147.8 L71.8,148.4 L71.8,149.1 L71.8,149.7 L71.8,150.3 L71.8,151.0 L71.8,151.6 L71.8,152.2 L71.8,152.9 L71.8,153.5 L71.8,154.1 L71.8,154.8 L71.8,155.4 L71.8,156.1 L71.8,156.7 L71.8,157.3 L71.8,158.0 L71.8,158.6 L71.8,159.3 L71.8,159.9 L71.8,160.6 L71.8,161.2 L71.8,161.8 L71.8,162.5 L71.8,163.1 L71.8,163.8 L71.8,164.4 L71.8,165.1 L71.8,165.7 L71.8,166.4 L71.8,167.1 L71.8,167.7 L71.8,168.4 L71.8,169.0 L71.8,169.7 L71.8,170.3 L71.8,171.0 L71.8,171.6 L71.8,172.3 L71.8,173.0 L71.8,173.6 L71.8,174.3 L71.8,174.9 L71.8,175.6 L71.8,176.3 L71.8,176.9 L71.8,177.6 L71.8,178.2 L71.8,178.9 L71.8,179.6 L71.8,180.2 L71.8,180.9 L71.8,181.6 L71.8,182.2 L71.8,182.9 L71.8,183.6 L71.8,184.2 L71.8,184.9 L71.8,185.6 L71.8,186.2 L71.8,186.9 L71.8,187.6 L71.8,188.2 L71.8,188.9 L71.8,189.6 L71.8,190.2 L71.8,190.9 L71.8,191.6 L71.8,192.2 L71.8,192.9 L71.8,193.6 L71.8,194.2 L71.8,194.9 L71.8,195.6 L71.8,196.2 L71.8,196.9 L71.8,197.6 L71.8,198.2 L71.8,198.9 L71.8,199.6 L71.8,200.2 L71.8,200.9 L71.8,201.6 L71.8,202.3 L71.8,202.9 L71.8,203.6 L71.8,204.3 L71.8,204.9 L71.8,205.6 L71.8,206.3 L71.8,206.9 L71.8,207.6 L71.8,208.3 L71.8,208.9 L71.8,209.6 L71.8,210.3 L71.8,210.9 L71.8,211.6 L71.8,212.3 L71.8,212.9 L71.8,213.6 L71.8,214.2 L71.8,214.9 L71.8,215.6 L71.8,216.2 L71.8,216.9 L71.8,217.6 L71.8,218.2 L71.8,218.9 L71.8,219.5 L71.8,220.2 L71.8,220.9 L71.8,221.5 L71.8,222.2 L71.8,222.8 L71.8,223.5 L71.8,224.1 L71.8,224.8 L71.8,225.5 L71.8,226.1 L71.8,226.8 L71.8,227.4 L71.8,228.1 L71.8,228.7 L71.8,229.4 L71.8,230.0 L71.8,230.7 L71.8,231.3 L71.8,232.0 L71.8,232.6 L71.8,233.3 L71.8,233.9 L71.8,234.6 L71.8,235.2 L71.8,235.9 L71.8,236.5 L71.8,237.1 L71.8,237.8 L71.8,238.4 L71.8,239.1 L71.8,239.7 L71.8,240.3 L71.8,241.0 L71.8,241.6 L71.8,242.2 L71.8,242.9 L71.8,243.5 L71.8,244.1 L71.8,244.8 L71.8,245.4 L71.8,246.0 L71.8,246.7 L71.8,247.3 L71.8,247.9 L71.8,248.5 L71.8,249.1 L71.8,249.8 L71.8,250.4 L71.8,251.0 L71.8,251.6 L71.8,252.2 L71.8,252.9 L71.8,253.5 L71.8,254.1 L71.8,254.7 L71.8,255.3 L71.8,255.9 L71.8,256.5 L71.8,257.1 L71.8,257.7 L71.8,258.3 L71.8,258.9 L71.8,259.5 L71.8,260.1 L71.8,260.7 L71.8,261.3 L71.8,261.9 L71.8,262.5 L71.8,263.1 L71.8,263.7 L71.8,264.3 L71.8,264.9 L71.8,265.5 L71.8,266.1 L71.8,266.6 L71.8,267.2 L71.8,267.8 L71.8,268.4 L71.8,269.0 L71.8,269.5 L71.8,270.1 L71.8,270.7 L71.8,271.2 L71.8,271.8 L71.8,272.4 L71.8,272.9 L71.8,273.5 L71.8,274.1 L71.8,274.6 L71.8,275.2 L71.8,275.7 L71.8,276.3 L71.8,276.8 L71.8,277.4 L71.8,277.9 L71.8,278.5 L71.8,279.0 L71.8,279.6 L71.8,280.1 L71.8,280.7 L71.8,281.2 L71.8,281.7 L71.8,282.3 L71.8,282.8 L71.8,283.3 L71.8,283.8 L71.8,284.4 L71.8,284.9 L71.8,285.4 L71.8,285.9 L71.8,286.5 L71.8,287.0 L71.8,287.5 L71.8,288.0 L71.8,288.5 L71.8,289.0 L71.8,289.5 L71.8,290.0 L71.8,290.5 L71.8,291.0 L71.8,291.5 L71.8,292.0 L71.8,292.5 L71.8,293.0 L71.8,293.5 L71.8,293.9 L71.8,294.4 L71.8,294.9 L71.8,295.4 L71.8,295.8 L71.8,296.3 L71.8,296.8 L71.8,297.3 L71.8,297.7 L71.8,298.2 L71.8,298.6 L71.8,299.1 L71.8,299.5 L71.8,300.0 L71.8,300.9 L71.8,301.8 L71.8,302.7 L71.8,303.6 L71.8,304.4 L71.8,305.3 L71.8,306.2 L71.8,307.0 L71.8,307.9 L71.8,308.7 L71.8,309.5 L71.8,310.4 L71.8,311.2 L71.8,312.0 L71.8,312.8 L71.8,313.6 L71.8,314.4 L71.8,315.2 L71.8,316.0 L71.8,316.8 L71.8,317.6 L71.8,318.3 L71.8,319.1 L71.8,319.9 L71.8,320.6 L71.8,321.4 L71.8,322.1 L71.8,322.9 L71.8,323.6 L71.8,324.3 L71.8,325.0 L71.8,325.8 L71.8,326.5 L71.8,327.2 L71.8,327.9 L71.8,328.6 L71.8,329.3 L71.8,330.0 L71.8,330.7 L71.8,331.3 L71.8,332.0 L71.8,332.7 L71.8,333.4 L71.8,334.0 L71.8,334.7 L71.8,335.3 L71.8,336.0 L71.8,336.6 L71.8,337.3 L71.8,337.9 L71.8,338.6 L71.8,339.2 L71.8,339.8 L71.9,340.4 L71.9,341.1 L71.9,341.7 L71.9,342.3 L71.9,342.9 L71.9,343.5 L71.9,344.1 L71.9,344.7 L71.9,345.3 L71.9,345.9 L71.9,346.5 L71.9,347.1 L71.9,347.6 L71.9,348.2 L71.9,348.8 L71.9,349.4 L71.9,349.9 L71.9,350.5 L71.9,351.1 L71.9,351.6 L71.9,352.2 L71.9,352.8 L71.9,353.3 L71.9,353.9 L71.9,354.4 L71.9,355.0 L71.9,355.5 L71.9,356.0 L71.9,356.6 L71.9,357.1 L71.9,357.7 L71.9,358.2 L71.9,358.7 L71.9,359.3 L71.9,359.8 L71.9,360.3 L71.9,360.8 L71.9,361.4 L71.9,361.9 L71.9,362.4 L71.9,362.9 L71.9,363.4 L71.9,364.0 L71.9,364.5 L71.9,365.0 L71.9,365.5 L71.9,366.0 L71.9,366.5 L71.9,367.0 L71.9,367.5 L71.9,368.0 L71.9,368.6 L71.9,369.1 L71.9,369.6 L71.9,370.1 L71.9,370.6 L71.9,371.1 L71.9,371.6 L71.9,372.1 L71.9,372.6 L71.9,373.1 L71.9,373.6 L71.9,374.1 L71.9,374.6 L71.9,375.1 L71.9,375.6 L71.9,376.1 L71.9,376.6 L71.9,377.1 L71.9,377.6 L71.9,378.1 L71.9,378.6 L71.9,379.1 L71.9,379.6 L72.0,380.1 L72.0,380.6 L72.0,381.1 L72.0,381.6 L72.0,382.1 L72.0,382.6 L72.0,383.1 L72.0,383.6 L72.0,384.1 L72.0,384.6 L72.0,385.1 L72.0,385.6 L72.0,386.2 L72.0,386.7 L72.0,387.2 L72.0,387.7 L72.0,388.2 L72.0,388.7 L72.0,389.2 L72.0,389.8 L72.0,390.3 L72.0,390.8 L72.0,391.3 L72.0,391.9 L72.0,392.4 L72.0,392.9 L72.0,393.4 L72.0,394.0 L72.0,394.5 L72.0,395.1 L72.0,395.6 L72.0,396.1 L72.0,396.7 L72.0,397.2 L72.0,397.8 L72.0,398.3 L72.0,398.9 L72.0,399.4 L72.0,400.0 L72.0,400.7 L72.0,401.3 L72.0,402.0 L72.0,402.6 L72.0,403.3 L72.0,403.9 L72.0,404.6 L72.0,405.2 L72.0,405.9 L72.0,406.6 L72.0,407.2 L72.0,407.9 L72.0,408.5 L72.0,409.2 L72.0,409.9 L72.0,410.5 L72.0,411.2 L72.0,411.9 L72.0,412.5 L72.0,413.2 L72.0,413.9 L72.0,414.5 L72.0,415.2 L72.0,415.9 L72.0,416.5 L72.0,417.2 L72.0,417.9 L72.0,418.5 L72.0,419.2 L72.0,419.9 L72.0,420.5 L72.0,421.2 L72.0,421.9 L72.0,422.5 L72.1,423.2 L72.1,423.9 L72.1,424.5 L72.1,425.2 L72.1,425.9 L72.1,426.5 L72.1,427.2 L72.1,427.9 L72.1,428.5 L72.1,429.2 L72.1,429.9 L72.1,430.5 L72.1,431.2 L72.1,431.9 L72.1,432.5 L72.1,433.2 L72.1,433.8 L72.1,434.5 L72.1,435.1 L72.1,435.8 L72.1,436.5 L72.1,437.1 L72.1,437.8 L72.1,438.4 L72.1,439.1 L72.1,439.7 L72.1,440.4 L72.1,441.0 L72.1,441.7 L72.1,442.3 L72.1,443.0 L72.1,443.6 L72.1,444.3 L72.1,444.9 L72.1,445.5 L72.1,446.2 L72.1,446.8 L72.1,447.4 L72.1,448.1 L72.1,448.7 L72.1,449.3 L72.1,450.0 L72.1,450.6 L72.1,451.2 L72.1,451.8 L72.1,452.5 L72.1,453.1 L72.1,453.7 L72.1,454.3 L72.1,454.9 L72.1,455.5 L72.1,456.1 L72.1,456.7 L72.1,457.3 L72.1,457.9 L72.1,458.5 L72.1,459.1 L72.1,459.7 L72.1,460.3 L72.1,460.9 L72.1,461.5 L72.1,462.1 L72.1,462.7 L72.1,463.3 L72.1,463.8 L72.1,464.4 L72.1,465.0 L72.1,465.5 L72.2,466.1 L72.2,466.7 L72.2,467.2 L72.2,467.8 L72.2,468.3 L72.2,468.9 L72.2,469.4 L72.2,470.0 L72.2,470.5 L72.2,471.1 L72.2,471.6 L72.2,472.1 L72.2,472.7 L72.2,473.2 L72.2,473.7 L72.2,474.2 L72.2,474.8 L72.2,475.3 L72.2,475.8 L72.2,476.3 L72.2,476.8 L72.2,477.3 L72.2,477.8 L72.2,478.3 L72.2,478.7 L72.2,479.2 L72.2,479.7 L72.2,480.2 L72.2,480.7 L72.2,481.1 L72.2,481.6 L72.2,482.1 L72.2,482.5 L72.2,483.0 L72.2,483.4 L72.2,483.8 L72.2,484.3 L72.2,484.7 L72.2,485.2 L72.2,485.6 L72.2,486.0 L72.2,487.1 L72.2,488.1 L72.2,489.1 L72.2,490.0 L72.2,491.0 L72.2,491.9 L72.2,492.7 L72.2,493.6 L72.2,494.4 L72.2,495.2 L72.2,496.0 L72.2,496.7 L72.2,497.5 L72.2,498.2 L72.2,498.8 L72.2,499.5 L72.2,500.1 L72.2,500.8 L72.2,501.4 L72.2,502.0 L72.2,502.6 L72.2,503.1 L72.2,503.7 L72.2,504.2 L72.3,504.7 L72.3,505.3 L72.3,505.8 L72.3,506.2 L72.3,506.7 L72.3,507.2 L72.3,507.7 L72.3,508.2 L72.3,508.6 L72.3,509.1 L72.3,509.5 L72.3,510.0 L72.3,510.4 L72.3,510.9 L72.3,511.3 L72.3,511.8 L72.3,512.3 L72.3,512.7 L72.3,513.2 L72.3,513.7 L72.3,514.1 L72.3,514.6 L72.3,515.1 L72.3,515.6 L72.3,516.1 L72.3,516.6 L72.3,517.2 L72.3,517.7 L72.3,518.2 L72.3,518.8 L72.3,519.4 L72.3,520.0" stroke="#0000ff" stroke-width="1.9" fill="none"/>
<path d="M72.7,236.0 L72.7,235.4 L72.8,234.8 L72.8,234.3 L72.9,233.7 L72.9,233.2 L73.0,232.6 L73.0,232.0 L73.1,231.4 L73.1,230.8 L73.2,230.2 L73.2,229.5 L73.3,228.8 L73.3,228.0 L73.3,227.5 L73.4,226.9 L73.4,226.4 L73.4,225.8 L73.5,225.2 L73.5,224.6 L73.5,223.9 L73.6,223.3 L73.6,222.6 L73.6,222.0 L73.7,221.3 L73.7,220.6 L73.7,220.0 L73.8,219.3 L73.8,218.6 L73.8,218.0 L73.9,217.4 L73.9,216.7 L73.9,216.1 L74.0,215.6 L74.0,215.0 L74.0,214.3 L74.1,213.7 L74.2,213.2 L74.2,212.6 L74.3,212.2 L74.3,211.7 L74.4,211.2 L74.4,210.8 L74.5,210.3 L74.5,209.7 L74.6,209.1 L74.6,208.5 L74.7,207.8 L74.7,206.9 L74.8,206.0 L74.8,205.0 L74.8,204.6 L74.8,204.1 L74.8,203.7 L74.9,203.3 L74.9,202.8 L74.9,202.4 L74.9,201.9 L74.9,201.5 L74.9,201.0 L74.9,200.5 L74.9,200.0 L74.9,199.5 L74.9,199.0 L75.0,198.5 L75.0,198.0 L75.0,197.5 L75.0,197.0 L75.0,196.4 L75.0,195.9 L75.0,195.3 L75.0,194.7 L75.0,194.1 L75.0,193.5 L75.0,192.9 L75.0,192.3 L75.0,191.6 L75.0,191.0 L75.0,190.3 L75.0,189.6 L75.1,188.9 L75.1,188.2 L75.1,187.4 L75.1,186.7 L75.1,185.9 L75.1,185.1 L75.1,184.3 L75.1,183.5 L75.1,182.7 L75.1,181.8 L75.1,180.9 L75.1,180.0 L75.1,179.5 L75.1,179.1 L75.1,178.6 L75.1,178.1 L75.1,177.6 L75.1,177.1 L75.1,176.6 L75.1,176.0 L75.1,175.5 L75.1,174.9 L75.1,174.4 L75.1,173.8 L75.1,173.3 L75.1,172.7 L75.1,172.1 L75.1,171.5 L75.1,170.9 L75.1,170.3 L75.1,169.6 L75.1,169.0 L75.1,168.4 L75.1,167.8 L75.1,167.1 L75.1,166.5 L75.1,165.8 L75.1,165.2 L75.1,164.5 L75.1,163.9 L75.1,163.2 L75.1,162.5 L75.1,161.8 L75.1,161.2 L75.1,160.5 L75.1,159.8 L75.1,159.1 L75.1,158.5 L75.1,157.8 L75.1,157.1 L75.1,156.4 L75.1,155.7 L75.1,155.0 L75.1,154.3 L75.1,153.7 L75.1,153.0 L75.1,152.3 L75.1,151.6 L75.1,150.9 L75.1,150.3 L75.1,149.6 L75.1,148.9 L75.1,148.2 L75.1,147.6 L75.1,146.9 L75.1,146.2 L75.1,145.6 L75.1,144.9 L75.1,144.3 L75.1,143.6 L75.1,143.0 L75.1,142.4 L75.1,141.8 L75.1,141.1 L75.1,140.5 L75.1,139.9 L75.1,139.3 L75.1,138.7 L75.1,138.1 L75.1,137.6 L75.1,137.0 L75.1,136.4 L75.1,135.9 L75.1,135.3 L75.1,134.8 L75.1,134.3 L75.1,133.7 L75.1,133.2 L75.1,132.7 L75.1,132.3 L75.1,131.8 L75.1,131.3 L75.1,130.9 L75.1,130.4 L75.1,130.0 L75.1,129.0 L75.1,128.0 L75.1,127.0 L75.1,126.1 L75.1,125.2 L75.1,124.3 L75.1,123.5 L75.1,122.7 L75.1,121.9 L75.1,121.2 L75.1,120.5 L75.1,119.8 L75.1,119.2 L75.0,118.6 L75.0,118.0 L75.0,117.4 L75.0,116.8 L75.0,116.3 L75.0,115.8 L75.0,115.3 L75.0,114.8 L75.0,114.3 L75.0,113.9 L75.0,113.5 L75.0,113.0 L75.0,112.6 L75.0,112.2 L75.0,111.8 L75.0,111.5 L75.0,111.1 L75.0,110.7 L75.0,110.4 L75.0,110.0 L75.0,108.2 L75.1,107.4 L75.1,107.1 L75.2,106.9 L75.2,106.5" stroke="#0000ff" stroke-width="1.9" fill="none"/>
<path d="M72.0,126.0 L70.7,132.0 L69.5,140.0 L69.1,160.0 L68.9,170.0 L68.4,190.0 L68.0,200.0 L68.0,205.0 L70.2,205.0 L70.2,215.0 L70.6,237.0 L72.6,237.0 L73.8,230.0 L74.7,215.0 L75.6,205.0 L75.7,200.0 L76.0,180.0 L76.2,150.0 L76.2,132.0 L75.8,126.0Z" fill="#0000ff" stroke="none"/>
<path d="M74.0,520.0 L74.0,486.0 L74.3,440.0 L74.8,400.0 L75.0,393.0" stroke="#0000ff" stroke-width="1.9" fill="none"/>
<path d="M69.6,394.0 L69.8,420.0 L70.2,455.0 L70.9,487.0 L75.3,487.0 L75.4,455.0 L75.6,420.0 L75.8,394.0Z" fill="#0000ff" stroke="none"/>
<path d="M73.7,398 L73.9,440" stroke="#fff" stroke-width="0.7" fill="none" opacity="0.7"/>
<path d="M74.2,5.0 L74.2,106.0 L76.2,108.0 L76.4,175.0 L75.8,185.0 L75.2,197.0 L74.6,230.0 L74.3,250.0 L74.2,290.0 L74.2,300.0 L74.2,350.0 L77.5,351.0 L77.5,393.0 L77.6,420.0 L78.0,440.0 L78.6,460.0 L79.6,475.0 L80.3,487.0 L80.3,495.0 L82.6,495.0 L82.6,487.0 L82.7,470.0 L83.2,440.0 L83.5,420.0 L83.5,393.0 L83.5,360.0 L81.8,350.0 L82.4,300.0 L82.9,290.0 L81.9,250.0 L81.3,230.0 L81.2,197.0 L80.0,180.0 L79.8,175.0 L79.4,110.0 L79.5,106.0 L79.8,85.0 L80.0,34.0 L79.1,33.0 L79.1,5.0Z" fill="#ff0000" stroke="none"/>
<path d="M74.5,394.0 L74.5,345.0" stroke="#ff0000" stroke-width="1.75" fill="none"/>
<path d="M76.5,86 L76.5,105 M77.6,200 L77.6,232 M80.4,420 L81.2,470" stroke="#fff" stroke-width="0.8" fill="none" opacity="0.8"/>
<path d="M79.3,140.0 L79.4,139.4 L79.4,138.7 L79.5,138.1 L79.5,137.5 L79.6,136.8 L79.7,136.2 L79.7,135.5 L79.8,134.9 L79.9,134.3 L79.9,133.6 L80.0,133.0 L80.1,132.4 L80.2,131.7 L80.2,131.1 L80.3,130.4 L80.4,129.8 L80.5,129.1 L80.6,128.5 L80.7,127.8 L80.8,127.2 L80.9,126.6 L81.0,126.0 L81.1,125.4 L81.2,124.7 L81.3,124.1 L81.4,123.5 L81.6,122.9 L81.7,122.3 L81.8,121.7 L81.9,121.1 L82.1,120.5 L82.2,120.0 L82.4,119.3 L82.6,118.7 L82.8,118.1 L83.0,117.5 L83.2,117.0 L83.4,116.4 L83.6,115.9 L83.8,115.4 L84.1,114.8 L84.4,114.2 L84.7,113.7 L85.1,113.1 L85.4,112.7 L85.8,112.2 L86.3,111.7 L86.7,111.2 L87.2,110.8 L87.7,110.4 L88.2,110.0 L88.8,109.6 L89.5,109.2 L90.1,108.9 L90.8,108.6 L91.4,108.3 L92.1,108.1 L92.8,108.0 L93.5,107.8 L94.1,107.7 L94.8,107.6 L95.6,107.5 L96.3,107.5 L97.0,107.4 L97.5,107.6 L98.1,107.4 L98.7,107.5 L99.3,107.3 L99.9,107.4 L100.5,107.4 L101.1,107.5 L101.7,107.6 L102.3,107.5 L102.9,107.4 L103.5,107.4 L104.1,107.3 L104.7,107.3 L105.3,107.4 L105.9,107.4 L106.5,107.4 L107.1,107.2 L107.7,107.3 L108.3,107.2 L108.9,107.2 L109.5,107.2 L110.1,107.3 L110.7,107.3 L111.3,107.2 L111.9,107.1 L112.5,107.1 L113.1,107.1 L113.7,106.8 L114.3,107.1 L114.9,107.2 L115.5,107.3 L116.1,107.3 L116.7,107.3 L117.3,107.3 L117.9,107.4 L118.5,107.4 L119.1,107.2 L119.7,107.2 L120.3,107.3 L120.9,107.4 L121.5,107.3 L122.1,107.2 L122.7,107.2 L123.3,107.3 L123.9,107.2 L124.5,107.3 L125.1,107.1 L125.7,107.1 L126.3,107.1 L126.9,107.2 L127.5,107.2 L128.1,107.0 L128.7,106.9 L129.3,107.0 L129.9,106.8 L130.5,106.8 L131.1,107.1 L131.7,107.1 L132.3,107.2 L132.9,107.2 L133.5,107.3 L134.1,107.2 L134.7,107.3 L135.3,107.1 L135.9,107.1 L136.5,107.1 L137.1,107.0 L137.7,107.0 L138.3,106.9 L138.9,106.8 L139.5,106.8 L140.1,106.8 L140.7,106.9 L141.3,106.8 L141.9,106.7 L142.5,106.9 L143.1,107.1 L143.7,107.1 L144.3,106.9 L144.9,106.9 L145.5,107.0 L146.1,106.9 L146.7,106.8 L147.3,106.9 L147.9,107.0 L148.5,106.8 L149.1,106.7 L149.7,106.8 L150.3,106.9 L150.9,106.7 L151.5,106.7 L152.1,106.7 L152.7,106.7 L153.3,106.6 L153.9,106.7 L154.5,106.6 L155.1,106.7 L155.7,106.7 L156.3,106.9 L156.9,106.8 L157.5,106.7 L158.1,106.8 L158.7,106.9 L159.3,107.0 L159.9,106.6 L160.5,106.6 L161.1,106.7 L161.7,107.1 L162.3,106.9 L162.9,106.8 L163.5,106.8 L164.1,107.0 L164.7,106.7 L165.3,106.6 L165.9,106.8 L166.5,106.7 L167.1,106.8 L167.7,106.7 L168.3,107.0 L168.9,106.9 L169.5,106.7 L170.1,106.8 L170.7,106.5 L171.3,106.9 L171.9,106.9 L172.5,106.9 L173.1,106.9 L173.7,106.7 L174.3,106.4 L174.9,106.6 L175.5,106.5 L176.1,106.5 L176.7,106.4 L177.3,106.4 L177.9,106.2 L178.5,106.7 L179.1,106.6 L179.7,106.7 L180.3,106.8 L180.9,106.5 L181.5,106.2 L182.1,106.3 L182.7,106.3 L183.3,106.5 L183.9,106.5 L184.5,106.2 L185.1,106.5 L185.7,106.3 L186.3,106.6 L186.9,106.6 L187.5,106.6 L188.1,106.6 L188.7,106.5 L189.3,106.4 L189.9,106.1 L190.5,106.3 L191.1,106.6 L191.7,106.6 L192.3,106.6 L192.9,106.5 L193.5,106.3 L194.1,106.5 L194.7,106.3 L195.3,106.3 L195.9,106.3 L196.5,106.3 L197.1,106.2 L197.7,106.2 L198.3,106.1 L198.9,106.3 L199.5,106.8 L200.1,106.4 L200.7,106.3 L201.3,106.4 L201.9,106.4 L202.5,106.1 L203.1,106.3 L203.7,106.5 L204.3,106.4 L204.9,106.4 L205.5,106.7 L206.1,106.3 L206.7,106.5 L207.3,106.4 L207.9,106.7 L208.5,106.1 L209.1,106.4 L209.7,106.4 L210.3,106.6 L210.9,106.5 L211.5,106.6 L212.1,106.0 L212.7,106.4 L213.3,106.2 L213.9,106.2 L214.5,106.4 L215.1,106.1 L215.7,105.9 L216.3,106.1 L216.9,105.9 L217.5,106.1 L218.1,106.3 L218.7,106.2 L219.3,106.4 L219.9,106.1 L220.5,105.9 L221.1,106.1 L221.7,106.0 L222.3,106.0 L222.9,106.3 L223.5,106.1 L224.1,105.8 L224.7,106.3 L225.3,106.2 L225.9,106.3 L226.5,106.1 L227.1,106.2 L227.7,106.2 L228.3,106.5 L228.9,106.3 L229.5,106.2 L230.1,106.2 L230.7,105.9 L231.3,106.2 L231.9,106.2 L232.5,106.3 L233.1,105.9 L233.7,106.3 L234.3,106.0 L234.9,105.8 L235.5,105.8 L236.1,106.1 L236.7,106.2 L237.3,106.0 L237.9,106.2 L238.5,106.1 L239.1,106.3 L239.7,106.0 L240.3,106.1 L240.9,106.3 L241.5,106.6 L242.1,105.9 L242.7,106.0 L243.3,105.9 L243.9,106.2 L244.5,105.8 L245.1,105.9 L245.7,106.0 L246.3,105.8 L246.9,105.9 L247.5,106.0 L248.1,105.6 L248.7,105.7 L249.3,105.9 L249.9,106.1 L250.0,106.1 L250.4,105.7 L250.8,105.9 L251.2,106.1 L251.6,106.0 L252.0,105.9 L252.4,105.7 L252.8,106.0 L253.2,105.8 L253.6,105.6 L254.0,105.6 L254.4,106.1 L254.8,105.9 L255.2,106.1 L255.6,105.8 L256.0,106.0 L256.4,105.7 L256.8,105.8 L257.2,106.4 L257.6,106.0 L258.0,105.8 L258.4,105.9 L258.8,106.0 L259.2,106.2 L259.6,105.9 L260.0,105.6 L260.4,105.9 L260.8,106.0 L261.2,106.0 L261.6,106.2 L262.0,106.0 L262.4,104.8 L262.8,105.7 L263.2,106.2 L263.6,106.4 L264.0,106.2 L264.4,106.1 L264.8,106.0 L265.2,106.3 L265.6,105.7 L266.0,105.9 L266.4,106.0 L266.8,106.1 L267.2,105.8 L267.6,105.9 L268.0,105.8 L268.4,105.8 L268.8,105.8 L269.2,105.5 L269.6,105.7 L270.0,105.9 L270.4,105.6 L270.8,105.7 L271.2,105.9 L271.6,105.6 L272.0,105.8 L272.4,105.5 L272.8,106.0 L273.2,106.2 L273.6,106.1 L274.0,105.7 L274.4,105.9 L274.8,105.9 L275.2,105.9 L275.6,106.3 L276.0,105.6 L276.4,106.0 L276.8,105.8 L277.2,106.1 L277.6,105.9 L278.0,105.7 L278.4,105.9 L278.8,106.0 L279.2,105.9 L279.6,106.0 L280.0,105.7 L280.4,105.4 L280.8,106.0 L281.2,105.9 L281.6,105.9 L282.0,105.8 L282.4,106.1 L282.8,105.7 L283.2,105.7 L283.6,105.7 L284.0,106.0 L284.4,105.5 L284.8,106.0 L285.2,105.5 L285.6,105.4 L286.0,106.0 L286.4,105.8 L286.8,105.5 L287.2,105.7 L287.6,105.9 L288.0,106.0 L288.4,105.7 L288.8,105.9 L289.2,105.9 L289.6,105.6 L290.0,105.7 L290.4,105.6 L290.8,105.5 L291.2,105.5 L291.6,105.6 L292.0,105.6 L292.4,105.5 L292.8,105.6 L293.2,105.9 L293.6,105.7 L294.0,105.9 L294.4,106.0 L294.8,105.9 L295.2,106.2 L295.6,105.5 L296.0,105.8 L296.4,105.6 L296.8,106.0 L297.2,106.0 L297.6,105.2 L298.0,105.4 L298.4,105.8 L298.8,105.8 L299.2,105.7 L299.6,105.5 L300.0,105.6 L300.4,105.7 L300.8,105.5 L301.2,105.8 L301.6,105.1 L302.0,105.9 L302.4,105.5 L302.8,105.9 L303.2,105.6 L303.6,105.5 L304.0,105.7 L304.4,105.4 L304.8,105.4 L305.2,105.3 L305.6,105.7 L306.0,105.8 L306.4,105.9 L306.8,105.6 L307.2,105.8 L307.6,105.6 L308.0,105.6 L308.4,105.7 L308.8,105.9 L309.2,105.5 L309.6,105.5 L310.0,105.5 L310.4,105.5 L310.8,105.2 L311.2,105.7 L311.6,105.4 L312.0,105.6 L312.4,105.3 L312.8,103.0 L313.2,103.0 L313.6,105.4 L314.0,106.0 L314.4,105.6 L314.8,105.9 L315.2,105.7 L315.6,105.3 L316.0,105.4 L316.4,105.6 L316.8,105.5 L317.2,105.5 L317.6,104.4 L318.0,105.1 L318.4,105.4 L318.8,104.9 L319.2,105.5 L319.6,105.3 L320.0,105.3 L320.4,105.5 L320.8,105.6 L321.2,105.2 L321.6,105.1 L322.0,105.2 L322.4,105.0 L322.8,105.3 L323.2,105.8 L323.6,105.1 L324.0,105.5 L324.4,105.0 L324.8,105.4 L325.2,105.3 L325.6,105.3 L326.0,105.5 L326.4,105.8 L326.8,105.5 L327.2,105.5 L327.6,105.2 L328.0,105.6 L328.4,105.4 L328.8,105.6 L329.2,105.4 L329.6,105.9 L330.0,105.0 L330.4,105.4 L330.8,105.6 L331.2,105.4 L331.6,105.3 L332.0,105.5 L332.4,105.2 L332.8,105.5 L333.2,106.0 L333.6,105.6 L334.0,105.1 L334.4,105.3 L334.8,105.4 L335.2,105.7 L335.6,105.1 L336.0,105.1 L336.4,105.5 L336.8,105.5 L337.2,105.2 L337.6,105.1 L338.0,105.0 L338.4,105.2 L338.8,104.8 L339.2,105.5 L339.6,105.2 L340.0,105.4 L340.4,105.7 L340.8,105.6 L341.2,105.0 L341.6,105.5 L342.0,105.6 L342.4,105.2 L342.8,105.1 L343.2,105.3 L343.6,105.0 L344.0,105.8 L344.4,104.8 L344.8,105.1 L345.2,105.2 L345.6,105.2 L346.0,105.4 L346.4,105.5 L346.8,105.4 L347.2,105.7 L347.6,104.8 L348.0,105.3 L348.4,105.1 L348.8,105.3 L349.2,105.4 L349.6,105.1 L350.0,105.2 L350.4,105.5 L350.8,105.3 L351.2,105.0 L351.6,105.7 L352.0,105.8 L352.4,104.9 L352.8,105.4 L353.2,106.0 L353.6,105.6 L354.0,105.4 L354.4,105.2 L354.8,105.1 L355.2,105.2 L355.6,105.1 L356.0,105.4 L356.4,105.2 L356.8,105.2 L357.2,105.0 L357.6,105.4 L358.0,105.1 L358.4,105.3 L358.8,105.6 L359.2,105.5 L359.6,105.5 L360.0,105.4 L360.4,105.2 L360.8,105.2 L361.2,105.1 L361.6,105.4 L362.0,105.0 L362.4,105.6 L362.8,105.3 L363.2,105.0 L363.6,105.0 L364.0,105.0 L364.4,105.2 L364.8,105.0 L365.2,105.4 L365.6,105.0 L366.0,104.6 L366.4,105.0 L366.8,104.6 L367.2,105.1 L367.6,105.5 L368.0,105.4 L368.4,104.9 L368.8,105.0 L369.2,105.7 L369.6,105.3 L370.0,105.2 L370.4,105.5 L370.8,105.8 L371.2,105.5 L371.6,105.3 L372.0,105.4 L372.4,105.4 L372.8,105.1 L373.2,104.9 L373.6,105.2 L374.0,104.9 L374.4,105.1 L374.8,105.1 L375.2,105.7 L375.6,105.0 L376.0,105.2 L376.4,105.2 L376.8,105.3 L377.2,105.5 L377.6,105.1 L378.0,105.0 L378.4,104.8 L378.8,104.9 L379.2,105.3 L379.6,105.1 L380.0,104.9 L380.4,103.9 L380.8,105.1 L381.2,105.3 L381.6,105.0 L382.0,105.1 L382.4,104.7 L382.8,104.8 L383.2,105.5 L383.6,104.6 L384.0,105.1 L384.4,105.2 L384.8,103.2 L385.2,104.9 L385.6,105.1 L386.0,105.1 L386.4,105.1 L386.8,104.6 L387.2,105.1 L387.6,104.9 L388.0,104.9 L388.4,105.0 L388.8,105.2 L389.2,105.3 L389.6,105.0 L390.0,105.4 L390.4,105.4 L390.8,105.4 L391.2,105.4 L391.6,105.1 L392.0,105.1 L392.4,105.3 L392.8,104.7 L393.2,105.1 L393.6,104.9 L394.0,105.0 L394.4,104.6 L394.8,104.8 L395.2,105.0 L395.6,105.2 L396.0,105.3 L396.4,105.0 L396.8,105.0 L397.2,104.8 L397.6,105.2 L398.0,105.0 L398.4,105.3 L398.8,105.6 L399.2,105.1 L399.6,104.7 L400.0,104.9 L400.4,104.7 L400.8,104.8 L401.2,105.4 L401.6,105.1 L402.0,104.6 L402.4,105.1 L402.8,105.2 L403.2,104.8 L403.6,104.7 L404.0,104.8 L404.4,105.0 L404.8,105.1 L405.2,105.3 L405.6,105.3 L406.0,105.3 L406.4,105.3 L406.8,105.1 L407.2,104.5 L407.6,104.9 L408.0,105.0 L408.4,104.8 L408.8,105.1 L409.2,104.8 L409.6,104.7 L410.0,105.4 L410.4,105.2 L410.8,105.1 L411.2,105.2 L411.6,105.1 L412.0,104.9 L412.4,104.2 L412.8,104.7 L413.2,104.8 L413.6,104.7 L414.0,105.0 L414.4,105.3 L414.8,104.8 L415.2,104.6 L415.6,105.4 L416.0,104.8 L416.4,104.6 L416.8,104.9 L417.2,104.9 L417.6,104.6 L418.0,105.1 L418.4,104.8 L418.8,104.7 L419.2,105.0 L419.6,105.1 L420.0,104.7 L420.4,105.0 L420.8,104.8 L421.2,105.6 L421.6,104.7 L422.0,105.3 L422.4,104.9 L422.8,104.9 L423.2,105.1 L423.6,105.1 L424.0,105.3 L424.4,105.0 L424.8,104.8 L425.2,104.8 L425.6,105.0 L426.0,105.1 L426.4,105.4 L426.8,105.2 L427.2,105.3 L427.6,105.4 L428.0,104.9 L428.4,104.4 L428.8,104.5 L429.2,104.5 L429.6,105.3 L430.0,104.6 L430.4,105.2 L430.8,105.0 L431.2,105.3 L431.6,105.1 L432.0,104.9 L432.4,104.8 L432.8,104.9 L433.2,104.9 L433.6,104.7 L434.0,104.9 L434.4,105.4 L434.8,104.5 L435.2,105.0 L435.6,104.7 L436.0,104.9 L436.4,102.8 L436.8,104.9 L437.2,105.2 L437.6,104.6 L438.0,105.3 L438.4,104.8 L438.8,105.1 L439.2,105.0 L439.6,104.2 L440.0,104.7 L440.4,104.9 L440.8,105.3 L441.2,104.9 L441.6,104.9 L442.0,104.4 L442.4,105.2 L442.8,105.4 L443.2,105.0 L443.6,105.0 L444.0,104.6 L444.4,105.2 L444.8,105.7 L445.2,105.1 L445.6,105.2 L446.0,105.0 L446.4,104.6 L446.8,105.2 L447.2,104.5 L447.6,104.8 L448.0,105.0 L448.4,105.2 L448.8,105.0 L449.2,105.0 L449.6,103.0 L450.0,104.5 L450.4,104.9 L450.8,104.7 L451.2,104.5 L451.6,104.6 L452.0,104.8 L452.4,104.4 L452.8,104.5 L453.2,104.4 L453.6,104.9 L454.0,105.0 L454.4,105.4 L454.8,102.3 L455.2,104.7 L455.6,105.2 L456.0,104.9 L456.4,104.9 L456.8,105.4 L457.2,104.8 L457.6,104.6 L458.0,104.5 L458.4,105.0 L458.8,105.0 L459.2,104.5 L459.6,104.6 L460.0,105.0 L460.4,105.1 L460.8,104.7 L461.2,105.0 L461.6,104.9 L462.0,104.2 L462.4,104.7 L462.8,104.9 L463.2,104.7 L463.6,104.3 L464.0,104.9 L464.4,105.1 L464.8,105.3 L465.2,104.2 L465.6,105.6 L466.0,104.5 L466.4,105.1 L466.8,105.3 L467.2,105.2 L467.6,105.0 L468.0,104.6 L468.4,105.1 L468.8,104.7 L469.2,104.2 L469.6,105.7 L470.0,105.1 L470.4,105.4 L470.8,104.6 L471.2,105.3 L471.6,105.4 L472.0,105.4 L472.4,105.0 L472.8,104.6 L473.2,104.9 L473.6,104.4 L474.0,104.5 L474.4,105.0 L474.8,104.7 L475.2,104.8 L475.6,104.8 L476.0,105.4 L476.4,105.2 L476.8,104.9 L477.2,105.2 L477.6,104.6 L478.0,104.7 L478.4,105.1 L478.8,104.5 L479.2,104.9 L479.6,104.7 L480.0,105.1 L480.4,105.5 L480.8,104.7 L481.2,104.8 L481.6,104.5 L482.0,104.5 L482.4,104.5 L482.8,105.4 L483.2,105.6 L483.6,105.1 L484.0,104.8 L484.4,105.2 L484.8,104.8 L485.2,105.1 L485.6,104.9 L486.0,105.0 L486.4,105.1 L486.8,104.8 L487.2,104.8 L487.6,104.4 L488.0,104.8 L488.4,104.5 L488.8,104.9 L489.2,104.6 L489.6,104.9 L490.0,105.1 L490.4,104.5 L490.8,104.7 L491.2,104.6 L491.6,105.1 L492.0,105.4 L492.4,105.2 L492.8,104.8 L493.2,105.3 L493.6,104.4 L494.0,105.3 L494.4,104.7 L494.8,104.1 L495.2,105.7 L495.6,105.3 L496.0,104.5 L496.4,104.8 L496.8,104.7 L497.2,103.1 L497.6,104.4 L498.0,104.7 L498.4,105.0 L498.8,105.0 L499.2,105.2 L499.6,104.9 L500.0,105.6 L500.4,104.7 L500.8,105.0 L501.2,104.3 L501.6,104.5 L502.0,103.3 L502.4,104.6 L502.8,105.0 L503.2,104.9 L503.6,104.6 L504.0,104.9 L504.4,104.8 L504.8,104.8 L505.2,105.1 L505.6,105.0 L506.0,104.6 L506.4,104.6 L506.8,105.0 L507.2,102.5 L507.6,105.2 L508.0,105.7 L508.4,105.1 L508.8,104.9 L509.2,104.8 L509.6,104.6 L510.0,104.6 L510.4,104.6 L510.8,104.9 L511.2,104.9 L511.6,105.2 L512.0,104.9 L512.4,105.0 L512.8,104.7 L513.2,105.5 L513.6,105.2 L514.0,105.5 L514.4,105.2 L514.8,105.4 L515.2,104.8 L515.6,105.1 L516.0,105.6 L516.4,104.4 L516.8,105.1 L517.2,105.3 L517.6,104.9 L518.0,105.1 L518.4,105.2 L518.8,104.7 L519.2,105.1 L519.6,104.7 L520.0,104.8 L520.4,104.8 L520.8,104.9 L521.2,105.0" stroke="#ff0000" stroke-width="1.9" fill="none"/>
<path d="M81.4,305.0 L81.4,304.5 L81.4,304.1 L81.4,303.8 L81.4,303.4 L81.4,303.0 L81.5,302.3 L81.5,301.3 L81.6,300.0 L81.6,299.6 L81.6,299.2 L81.7,298.7 L81.7,298.3 L81.7,297.8 L81.8,297.3 L81.8,296.7 L81.8,296.2 L81.9,295.6 L81.9,295.0 L81.9,294.4 L82.0,293.8 L82.0,293.2 L82.1,292.6 L82.1,291.9 L82.1,291.3 L82.2,290.6 L82.2,289.9 L82.3,289.3 L82.3,288.6 L82.4,287.9 L82.4,287.2 L82.5,286.5 L82.5,285.9 L82.5,285.2 L82.6,284.5 L82.6,283.8 L82.7,283.2 L82.7,282.5 L82.8,281.9 L82.8,281.2 L82.9,280.6 L82.9,280.0 L82.9,279.4 L83.0,278.8 L83.0,278.2 L83.1,277.6 L83.1,277.0 L83.2,276.4 L83.2,275.8 L83.3,275.2 L83.3,274.5 L83.3,273.9 L83.4,273.3 L83.4,272.7 L83.5,272.1 L83.5,271.5 L83.6,270.9 L83.6,270.3 L83.7,269.7 L83.7,269.1 L83.8,268.5 L83.8,267.9 L83.9,267.3 L83.9,266.7 L84.0,266.1 L84.0,265.5 L84.1,264.8 L84.1,264.2 L84.1,263.6 L84.2,263.0 L84.2,262.4 L84.3,261.8 L84.3,261.2 L84.4,260.6 L84.4,260.0 L84.4,259.4 L84.5,258.8 L84.5,258.1 L84.6,257.5 L84.6,256.9 L84.6,256.2 L84.7,255.6 L84.7,254.9 L84.8,254.3 L84.8,253.6 L84.8,253.0 L84.9,252.3 L84.9,251.7 L84.9,251.0 L85.0,250.3 L85.0,249.7 L85.1,249.1 L85.1,248.4 L85.1,247.8 L85.2,247.2 L85.2,246.5 L85.2,245.9 L85.3,245.3 L85.3,244.7 L85.3,244.2 L85.4,243.6 L85.4,243.0 L85.4,242.5 L85.5,242.0 L85.5,241.4 L85.5,240.9 L85.6,240.5 L85.6,240.0 L85.7,239.1 L85.7,238.3 L85.8,237.5 L85.8,236.8 L85.9,236.1 L86.0,235.5 L86.0,234.9 L86.1,234.4 L86.1,233.8 L86.2,233.3 L86.2,232.8 L86.3,232.3 L86.3,231.7 L86.4,231.2 L86.4,230.6 L86.5,230.0 L86.6,229.4 L86.6,228.7 L86.7,228.1 L86.7,227.4 L86.8,226.7 L86.9,226.1 L86.9,225.4 L87.0,224.8 L87.1,224.1 L87.1,223.5 L87.2,222.8 L87.2,222.2 L87.3,221.6 L87.4,221.1 L87.4,220.5 L87.5,220.0 L87.6,219.2 L87.7,218.5 L87.8,217.8 L87.9,217.2 L88.0,216.6 L88.1,216.1 L88.3,215.5 L88.4,215.0 L88.5,214.5 L88.6,214.0 L88.8,213.2 L89.0,212.5 L89.2,211.8 L89.4,211.2 L89.6,210.6 L89.8,210.0 L90.1,209.3 L90.4,208.7 L90.8,208.1 L91.1,207.5 L91.5,207.0 L92.0,206.4 L92.5,206.0 L93.0,205.6 L93.5,205.2 L94.2,204.7 L95.0,204.3 L95.6,204.0 L96.3,203.8 L97.0,203.6 L97.6,203.5 L98.2,203.4 L98.9,203.3 L99.6,203.3 L100.2,203.3 L100.9,203.3 L101.6,203.4 L102.3,203.5 L103.0,203.5 L103.7,203.5 L104.5,203.4 L105.2,203.4 L105.8,203.4 L106.4,203.7 L106.8,204.2 L107.0,204.8 L107.2,205.6 L107.4,206.4 L107.6,207.1 L107.8,207.6 L108.4,208.5 L109.0,208.9 L110.0,209.2 L110.5,209.1 L111.1,208.8 L111.7,208.6 L112.4,208.3 L113.0,208.0 L113.6,207.8 L114.2,207.5 L114.8,207.3 L115.4,207.0 L116.0,206.8 L116.6,206.6 L117.2,206.3 L117.8,206.1 L118.4,205.8 L119.0,205.6 L119.7,205.4 L120.3,205.1 L121.0,204.9 L121.7,204.7 L122.4,204.5 L123.0,204.4 L123.6,204.2 L124.2,204.1 L124.8,204.0 L125.4,203.9 L126.0,203.8 L126.6,203.7 L127.3,203.7 L128.0,203.7 L128.7,203.6 L129.3,203.6 L130.0,203.6 L130.5,203.4 L131.1,203.6 L131.7,203.4 L132.3,203.3 L132.9,203.3 L133.5,203.5 L134.1,203.1 L134.7,203.3 L135.3,202.9 L135.9,203.2 L136.5,202.7 L137.1,202.9 L137.7,202.8 L138.3,203.4 L138.9,202.8 L139.5,203.0 L140.1,202.9 L140.7,202.7 L141.3,203.1 L141.9,203.2 L142.5,203.1 L143.1,203.1 L143.7,202.9 L144.3,202.8 L144.9,202.8 L145.5,203.1 L146.1,203.5 L146.7,203.2 L147.3,203.2 L147.9,203.1 L148.5,203.1 L149.1,203.5 L149.7,203.0 L150.3,202.9 L150.9,203.0 L151.5,202.9 L152.1,203.4 L152.7,202.7 L153.3,203.3 L153.9,203.2 L154.5,202.7 L155.1,202.7 L155.7,202.9 L156.3,203.3 L156.9,202.8 L157.5,202.6 L158.1,203.1 L158.7,203.2 L159.3,202.9 L159.9,202.6 L160.5,203.5 L161.1,203.2 L161.7,203.4 L162.3,202.9 L162.9,202.7 L163.5,202.7 L164.1,203.1 L164.7,203.1 L165.3,202.2 L165.9,202.5 L166.5,203.2 L167.1,202.8 L167.7,202.6 L168.3,202.7 L168.9,202.4 L169.5,202.2 L170.1,202.2 L170.7,202.4 L171.3,202.5 L171.9,202.8 L172.5,202.4 L173.1,202.4 L173.7,202.3 L174.3,202.6 L174.9,202.3 L175.5,202.3 L176.1,202.7 L176.7,202.8 L177.3,203.1 L177.9,202.9 L178.5,203.2 L179.1,202.9 L179.7,202.4 L180.3,202.4 L180.9,202.9 L181.5,202.8 L182.1,202.7 L182.7,202.3 L183.3,202.2 L183.9,202.7 L184.5,202.7 L185.1,202.7 L185.7,202.0 L186.3,202.7 L186.9,202.3 L187.5,202.6 L188.1,202.6 L188.7,202.1 L189.3,202.0 L189.9,201.4 L190.5,201.6 L191.1,201.3 L191.7,202.0 L192.3,202.0 L192.9,202.5 L193.5,202.5 L194.1,202.4 L194.7,202.7 L195.3,202.4 L195.9,202.7 L196.5,202.5 L197.1,201.9 L197.7,202.2 L198.3,202.3 L198.9,202.3 L199.5,202.8 L200.1,203.1 L200.7,202.2 L201.3,202.1 L201.9,201.1 L202.5,201.8 L203.1,201.6 L203.7,201.1 L204.3,202.1 L204.9,202.3 L205.5,201.7 L206.1,201.7 L206.7,201.3 L207.3,201.9 L207.9,201.2 L208.5,201.6 L209.1,202.4 L209.7,201.5 L210.3,201.7 L210.9,201.6 L211.5,201.3 L212.1,201.7 L212.7,201.7 L213.3,201.1 L213.9,201.6 L214.5,202.0 L215.1,201.9 L215.7,200.8 L216.3,200.9 L216.9,200.5 L217.5,201.5 L218.1,201.3 L218.7,201.3 L219.3,200.6 L219.9,200.4 L220.5,201.0 L221.1,201.2 L221.7,201.0 L222.3,201.4 L222.9,201.4 L223.5,201.0 L224.1,200.4 L224.7,200.1 L225.3,200.9 L225.9,201.1 L226.5,201.0 L227.1,201.0 L227.7,200.8 L228.3,201.3 L228.9,200.8 L229.5,200.9 L230.1,200.5 L230.7,200.7 L231.3,201.0 L231.9,200.2 L232.5,200.0 L233.1,200.4 L233.7,201.2 L234.3,200.8 L234.9,201.5 L235.5,200.7 L236.1,200.5 L236.7,199.8 L237.3,200.2 L237.9,201.1 L238.5,200.6 L239.1,200.6 L239.7,200.4 L240.3,199.9 L240.9,199.8 L241.5,199.9 L242.1,200.3 L242.7,200.2 L243.3,200.2 L243.9,199.9 L244.5,199.5 L245.1,199.9 L245.7,199.8 L246.3,201.0 L246.9,199.4 L247.5,200.1 L248.1,201.1 L248.7,199.7 L249.3,199.3 L249.9,200.0 L250.0,200.7 L250.4,200.0 L250.8,200.2 L251.2,199.9 L251.6,199.6 L252.0,201.4 L252.4,199.7 L252.8,199.4 L253.2,199.5 L253.6,200.1 L254.0,200.3 L254.4,200.6 L254.8,200.2 L255.2,199.4 L255.6,200.3 L256.0,199.8 L256.4,199.6 L256.8,199.0 L257.2,199.4 L257.6,199.3 L258.0,199.8 L258.4,199.2 L258.8,200.0 L259.2,200.0 L259.6,199.2 L260.0,199.7 L260.4,199.8 L260.8,200.9 L261.2,198.9 L261.6,199.7 L262.0,198.8 L262.4,199.5 L262.8,200.4 L263.2,199.6 L263.6,200.0 L264.0,199.3 L264.4,200.8 L264.8,200.2 L265.2,200.6 L265.6,199.5 L266.0,199.8 L266.4,201.0 L266.8,200.0 L267.2,199.6 L267.6,199.8 L268.0,198.7 L268.4,200.3 L268.8,200.0 L269.2,200.5 L269.6,199.6 L270.0,200.2 L270.4,199.3 L270.8,200.4 L271.2,200.4 L271.6,200.2 L272.0,199.9 L272.4,200.2 L272.8,198.2 L273.2,200.4 L273.6,199.7 L274.0,200.0 L274.4,199.9 L274.8,199.2 L275.2,199.7 L275.6,200.3 L276.0,200.5 L276.4,198.9 L276.8,198.7 L277.2,200.4 L277.6,199.1 L278.0,201.1 L278.4,199.7 L278.8,198.9 L279.2,200.1 L279.6,200.7 L280.0,198.8 L280.4,200.9 L280.8,199.7 L281.2,201.0 L281.6,199.8 L282.0,198.8 L282.4,199.9 L282.8,200.0 L283.2,200.7 L283.6,200.7 L284.0,200.1 L284.4,199.5 L284.8,199.3 L285.2,199.5 L285.6,199.3 L286.0,199.7 L286.4,198.0 L286.8,199.8 L287.2,199.7 L287.6,201.7 L288.0,200.6 L288.4,199.7 L288.8,200.5 L289.2,199.0 L289.6,199.2 L290.0,197.9 L290.4,200.3 L290.8,199.8 L291.2,198.6 L291.6,199.6 L292.0,200.3 L292.4,200.0 L292.8,199.8 L293.2,198.8 L293.6,198.9 L294.0,199.5 L294.4,200.3 L294.8,199.1 L295.2,199.0 L295.6,200.7 L296.0,199.0 L296.4,200.3 L296.8,199.4 L297.2,199.8 L297.6,200.5 L298.0,199.8 L298.4,199.9 L298.8,198.6 L299.2,198.4 L299.6,199.5 L300.0,200.3 L300.4,200.5 L300.8,201.1 L301.2,199.6 L301.6,199.5 L302.0,200.2 L302.4,199.4 L302.8,199.3 L303.2,198.5 L303.6,200.3 L304.0,198.8 L304.4,200.2 L304.8,198.6 L305.2,200.5 L305.6,198.7 L306.0,200.2 L306.4,198.3 L306.8,199.1 L307.2,200.4 L307.6,198.8 L308.0,199.6 L308.4,199.3 L308.8,197.8 L309.2,199.8 L309.6,199.8 L310.0,198.5 L310.4,199.9 L310.8,198.7 L311.2,198.5 L311.6,199.4 L312.0,198.9 L312.4,201.3 L312.8,197.9 L313.2,199.7 L313.6,199.9 L314.0,197.3 L314.4,197.6 L314.8,199.5 L315.2,198.6 L315.6,199.4 L316.0,200.2 L316.4,199.0 L316.8,198.4 L317.2,196.7 L317.6,199.1 L318.0,198.2 L318.4,199.5 L318.8,199.7 L319.2,198.3 L319.6,200.9 L320.0,200.3 L320.4,200.0 L320.8,198.3 L321.2,199.0 L321.6,199.0 L322.0,199.0 L322.4,198.3 L322.8,199.6 L323.2,199.4 L323.6,199.8 L324.0,199.4 L324.4,201.3 L324.8,200.0 L325.2,197.0 L325.6,198.5 L326.0,199.0 L326.4,199.8 L326.8,198.7 L327.2,198.8 L327.6,198.6 L328.0,200.1 L328.4,199.0 L328.8,198.6 L329.2,198.2 L329.6,199.3 L330.0,198.3 L330.4,197.5 L330.8,199.9 L331.2,198.7 L331.6,199.6 L332.0,199.4 L332.4,200.2 L332.8,200.0 L333.2,198.7 L333.6,199.3 L334.0,198.2 L334.4,201.0 L334.8,199.8 L335.2,200.8 L335.6,199.1 L336.0,197.1 L336.4,200.6 L336.8,199.2 L337.2,199.4 L337.6,199.3 L338.0,200.0 L338.4,200.0 L338.8,198.0 L339.2,200.6 L339.6,198.8 L340.0,198.8 L340.4,201.1 L340.8,200.2 L341.2,198.7 L341.6,197.0 L342.0,198.9 L342.4,199.2 L342.8,198.5 L343.2,197.3 L343.6,197.9 L344.0,197.6 L344.4,199.4 L344.8,200.1 L345.2,200.2 L345.6,198.2 L346.0,199.0 L346.4,199.2 L346.8,198.2 L347.2,198.9 L347.6,201.6 L348.0,199.5 L348.4,200.0 L348.8,198.4 L349.2,198.9 L349.6,197.1 L350.0,198.8 L350.4,200.0 L350.8,201.0 L351.2,200.1 L351.6,199.8 L352.0,199.1 L352.4,198.2 L352.8,198.6 L353.2,199.5 L353.6,198.0 L354.0,199.8 L354.4,197.5 L354.8,196.5 L355.2,197.6 L355.6,197.1 L356.0,197.5 L356.4,200.3 L356.8,198.7 L357.2,199.3 L357.6,200.4 L358.0,200.5 L358.4,198.6 L358.8,200.9 L359.2,199.9 L359.6,199.3 L360.0,199.7 L360.4,197.3 L360.8,197.9 L361.2,198.6 L361.6,199.5 L362.0,198.5 L362.4,198.8 L362.8,200.3 L363.2,200.9 L363.6,200.2 L364.0,200.8 L364.4,198.9 L364.8,199.0 L365.2,199.5 L365.6,198.8 L366.0,198.7 L366.4,201.5 L366.8,199.1 L367.2,197.9 L367.6,199.5 L368.0,201.1 L368.4,199.2 L368.8,200.8 L369.2,198.8 L369.6,198.6 L370.0,198.3 L370.4,198.9 L370.8,201.3 L371.2,197.5 L371.6,201.0 L372.0,197.8 L372.4,198.8 L372.8,200.1 L373.2,200.0 L373.6,199.7 L374.0,197.5 L374.4,200.0 L374.8,198.3 L375.2,202.8 L375.6,199.1 L376.0,199.4 L376.4,197.6 L376.8,198.7 L377.2,197.7 L377.6,200.6 L378.0,198.7 L378.4,199.7 L378.8,198.0 L379.2,198.4 L379.6,201.0 L380.0,198.2 L380.4,193.9 L380.8,200.0 L381.2,198.0 L381.6,199.0 L382.0,200.7 L382.4,198.2 L382.8,200.2 L383.2,198.0 L383.6,200.9 L384.0,201.0 L384.4,198.7 L384.8,199.0 L385.2,197.8 L385.6,198.9 L386.0,200.2 L386.4,197.0 L386.8,200.3 L387.2,197.3 L387.6,197.9 L388.0,196.8 L388.4,202.0 L388.8,199.2 L389.2,199.3 L389.6,197.9 L390.0,200.2 L390.4,195.6 L390.8,198.7 L391.2,201.9 L391.6,198.5 L392.0,199.1 L392.4,200.1 L392.8,198.1 L393.2,199.4 L393.6,200.5 L394.0,199.2 L394.4,199.2 L394.8,198.3 L395.2,199.5 L395.6,199.2 L396.0,201.2 L396.4,199.9 L396.8,198.4 L397.2,195.1 L397.6,199.7 L398.0,199.8 L398.4,197.4 L398.8,195.9 L399.2,197.2 L399.6,200.4 L400.0,197.9 L400.4,198.9 L400.8,199.9 L401.2,201.2 L401.6,199.5 L402.0,199.5 L402.4,199.0 L402.8,202.1 L403.2,201.0 L403.6,198.8 L404.0,196.4 L404.4,196.9 L404.8,199.1 L405.2,197.5 L405.6,200.4 L406.0,199.8 L406.4,199.8 L406.8,200.4 L407.2,200.3 L407.6,198.4 L408.0,199.1 L408.4,202.9 L408.8,197.4 L409.2,198.5 L409.6,200.6 L410.0,198.7 L410.4,197.7 L410.8,197.1 L411.2,200.2 L411.6,201.0 L412.0,201.6 L412.4,199.3 L412.8,200.6 L413.2,197.4 L413.6,199.5 L414.0,198.4 L414.4,199.8 L414.8,200.5 L415.2,200.9 L415.6,197.8 L416.0,201.2 L416.4,198.5 L416.8,197.6 L417.2,199.0 L417.6,197.1 L418.0,199.3 L418.4,199.7 L418.8,199.0 L419.2,199.9 L419.6,198.3 L420.0,198.4 L420.4,196.6 L420.8,198.6 L421.2,197.8 L421.6,198.5 L422.0,199.1 L422.4,199.4 L422.8,197.2 L423.2,197.2 L423.6,198.8 L424.0,199.8 L424.4,199.7 L424.8,200.3 L425.2,200.6 L425.6,199.4 L426.0,198.7 L426.4,197.6 L426.8,197.9 L427.2,198.6 L427.6,199.5 L428.0,194.1 L428.4,199.2 L428.8,199.0 L429.2,199.9 L429.6,199.3 L430.0,199.3 L430.4,199.3 L430.8,198.1 L431.2,197.4 L431.6,199.3 L432.0,199.3 L432.4,198.7 L432.8,198.4 L433.2,201.8 L433.6,197.9 L434.0,198.7 L434.4,199.2 L434.8,197.5 L435.2,199.0 L435.6,201.3 L436.0,200.1 L436.4,199.6 L436.8,199.4 L437.2,198.8 L437.6,200.0 L438.0,198.7 L438.4,198.3 L438.8,198.9 L439.2,196.3 L439.6,199.0 L440.0,199.2 L440.4,195.9 L440.8,200.3 L441.2,202.0 L441.6,194.8 L442.0,198.7 L442.4,197.9 L442.8,198.9 L443.2,197.1 L443.6,199.3 L444.0,198.1 L444.4,200.1 L444.8,200.5 L445.2,196.0 L445.6,199.1 L446.0,198.2 L446.4,197.4 L446.8,198.3 L447.2,198.6 L447.6,200.0 L448.0,196.7 L448.4,200.2 L448.8,201.7 L449.2,200.0 L449.6,199.9 L450.0,199.1 L450.4,197.4 L450.8,199.6 L451.2,199.4 L451.6,200.0 L452.0,202.6 L452.4,200.2 L452.8,199.8 L453.2,201.2 L453.6,197.3 L454.0,197.5 L454.4,198.6 L454.8,198.1 L455.2,199.8 L455.6,198.4 L456.0,201.1 L456.4,200.8 L456.8,199.7 L457.2,198.2 L457.6,199.5 L458.0,199.9 L458.4,197.5 L458.8,199.6 L459.2,200.0 L459.6,199.2 L460.0,200.9 L460.4,200.4 L460.8,197.9 L461.2,199.3 L461.6,198.1 L462.0,199.9 L462.4,197.8 L462.8,200.1 L463.2,199.2 L463.6,200.1 L464.0,198.7 L464.4,197.0 L464.8,201.3 L465.2,198.7 L465.6,200.7 L466.0,199.2 L466.4,199.4 L466.8,200.9 L467.2,198.9 L467.6,200.5 L468.0,196.6 L468.4,199.9 L468.8,198.4 L469.2,198.6 L469.6,198.7 L470.0,199.0 L470.4,200.9 L470.8,196.1 L471.2,199.0 L471.6,197.8 L472.0,200.4 L472.4,198.1 L472.8,199.5 L473.2,198.4 L473.6,200.1 L474.0,200.6 L474.4,198.6 L474.8,199.2 L475.2,197.1 L475.6,199.6 L476.0,200.3 L476.4,198.3 L476.8,200.5 L477.2,196.0 L477.6,196.4 L478.0,197.2 L478.4,198.6 L478.8,199.2 L479.2,198.9 L479.6,198.9 L480.0,200.2 L480.4,198.6 L480.8,197.6 L481.2,197.5 L481.6,202.0 L482.0,195.4 L482.4,198.3 L482.8,200.6 L483.2,199.5 L483.6,197.8 L484.0,198.9 L484.4,200.0 L484.8,200.4 L485.2,197.5 L485.6,199.9 L486.0,199.0 L486.4,200.2 L486.8,200.5 L487.2,198.3 L487.6,196.8 L488.0,199.3 L488.4,201.0 L488.8,199.4 L489.2,198.8 L489.6,202.1 L490.0,197.4 L490.4,200.4 L490.8,198.4 L491.2,199.2 L491.6,199.0 L492.0,201.0 L492.4,197.6 L492.8,198.4 L493.2,197.0 L493.6,199.8 L494.0,198.2 L494.4,199.3 L494.8,196.9 L495.2,197.9 L495.6,199.9 L496.0,198.3 L496.4,199.6 L496.8,199.4 L497.2,198.0 L497.6,196.2 L498.0,199.8 L498.4,198.7 L498.8,199.7 L499.2,195.4 L499.6,196.0 L500.0,195.5 L500.4,197.5 L500.8,200.4 L501.2,199.5 L501.6,198.5 L502.0,198.7 L502.4,199.8 L502.8,198.4 L503.2,199.6 L503.6,199.4 L504.0,196.0 L504.4,198.5 L504.8,200.9 L505.2,198.1 L505.6,198.4 L506.0,197.7 L506.4,197.9 L506.8,200.5 L507.2,198.4 L507.6,197.2 L508.0,194.0 L508.4,197.8 L508.8,189.7 L509.2,195.8 L509.6,199.6 L510.0,199.4 L510.4,195.5 L510.8,199.4 L511.2,198.6 L511.6,196.8 L512.0,199.3 L512.4,196.0 L512.8,196.6 L513.2,196.5 L513.6,197.1 L514.0,200.5 L514.4,197.2 L514.8,197.4 L515.2,197.3 L515.6,199.0 L516.0,198.1 L516.4,199.9 L516.8,197.4 L517.2,196.2 L517.6,197.2 L518.0,197.9 L518.4,196.5 L518.8,198.4 L519.2,200.8 L519.6,197.3 L520.0,198.4 L520.4,200.5 L520.8,197.3 L521.2,197.0" stroke="#ff0000" stroke-width="1.9" fill="none"/>
<path d="M83.3,400.0 L83.3,399.4 L83.3,399.0 L83.3,398.6 L83.3,398.1 L83.3,397.6 L83.3,397.0 L83.4,396.1 L83.4,395.0 L83.4,394.6 L83.4,394.2 L83.5,393.7 L83.5,393.2 L83.5,392.7 L83.5,392.2 L83.5,391.7 L83.6,391.1 L83.6,390.5 L83.6,390.0 L83.6,389.4 L83.7,388.7 L83.7,388.1 L83.7,387.5 L83.8,386.8 L83.8,386.2 L83.8,385.5 L83.9,384.8 L83.9,384.2 L83.9,383.5 L84.0,382.8 L84.0,382.1 L84.0,381.4 L84.1,380.7 L84.1,380.0 L84.1,379.5 L84.2,378.9 L84.2,378.4 L84.2,377.8 L84.2,377.2 L84.3,376.7 L84.3,376.1 L84.3,375.5 L84.4,374.9 L84.4,374.3 L84.4,373.7 L84.5,373.1 L84.5,372.5 L84.5,371.9 L84.6,371.2 L84.6,370.6 L84.6,370.0 L84.7,369.4 L84.7,368.7 L84.7,368.1 L84.8,367.5 L84.8,366.9 L84.9,366.2 L84.9,365.6 L84.9,365.0 L85.0,364.3 L85.0,363.7 L85.0,363.1 L85.1,362.5 L85.1,361.8 L85.1,361.2 L85.2,360.6 L85.2,360.0 L85.2,359.4 L85.3,358.8 L85.3,358.2 L85.3,357.6 L85.4,357.0 L85.4,356.4 L85.4,355.8 L85.5,355.2 L85.5,354.5 L85.5,353.9 L85.6,353.3 L85.6,352.7 L85.6,352.1 L85.6,351.5 L85.7,350.9 L85.7,350.3 L85.7,349.7 L85.8,349.1 L85.8,348.5 L85.8,347.9 L85.9,347.3 L85.9,346.7 L85.9,346.1 L86.0,345.5 L86.0,344.8 L86.0,344.2 L86.1,343.6 L86.1,343.0 L86.1,342.4 L86.2,341.8 L86.2,341.2 L86.3,340.6 L86.3,340.0 L86.3,339.4 L86.4,338.8 L86.4,338.1 L86.5,337.5 L86.5,336.9 L86.5,336.2 L86.6,335.6 L86.6,334.9 L86.7,334.3 L86.7,333.6 L86.8,333.0 L86.8,332.3 L86.9,331.7 L86.9,331.0 L87.0,330.3 L87.0,329.7 L87.0,329.1 L87.1,328.4 L87.1,327.8 L87.2,327.2 L87.2,326.5 L87.3,325.9 L87.3,325.3 L87.4,324.7 L87.4,324.2 L87.5,323.6 L87.5,323.0 L87.6,322.5 L87.6,322.0 L87.7,321.4 L87.7,320.9 L87.8,320.5 L87.8,320.0 L87.9,319.1 L88.0,318.2 L88.1,317.4 L88.2,316.7 L88.3,316.0 L88.4,315.3 L88.4,314.7 L88.5,314.1 L88.6,313.5 L88.7,312.9 L88.8,312.4 L88.9,311.9 L89.0,311.4 L89.1,310.9 L89.2,310.5 L89.3,310.0 L89.5,309.1 L89.7,308.4 L89.9,307.7 L90.1,307.1 L90.3,306.5 L90.5,306.0 L90.8,305.5 L91.0,305.0 L91.3,304.3 L91.7,303.6 L92.1,303.0 L92.4,302.4 L92.8,301.9 L93.2,301.5 L93.7,301.0 L94.3,300.8 L94.9,300.6 L95.5,300.3 L96.1,300.0 L96.7,299.7 L97.4,299.3 L98.0,299.0 L98.7,298.8 L99.3,298.7 L100.0,298.6 L100.6,298.6 L101.3,298.6 L102.0,298.5 L102.6,298.3 L103.3,298.1 L104.1,297.8 L104.8,297.6 L105.4,297.4 L106.0,297.4 L106.7,297.6 L107.4,298.0 L107.9,298.5 L108.4,299.0 L108.8,299.6 L109.0,300.2 L109.3,300.8 L109.5,301.5 L109.8,302.2 L110.0,303.0 L110.3,303.7 L110.6,304.2 L111.1,304.6 L112.0,304.7 L112.5,304.7 L113.2,304.7 L113.9,304.7 L114.7,304.6 L115.4,304.5 L116.0,304.4 L116.6,304.1 L117.0,303.8 L117.5,303.4 L117.9,303.0 L118.5,302.6 L119.0,302.3 L119.5,302.0 L120.1,301.6 L120.7,301.3 L121.3,301.0 L121.8,300.7 L122.4,300.5 L123.0,300.3 L123.6,300.2 L124.2,300.2 L124.8,300.2 L125.4,300.2 L126.0,300.2 L126.6,300.2 L127.3,300.2 L128.0,300.3 L128.7,300.3 L129.3,300.4 L130.0,300.4 L130.5,300.3 L131.1,300.6 L131.7,300.4 L132.3,300.3 L132.9,300.1 L133.5,300.3 L134.1,300.0 L134.7,300.1 L135.3,300.4 L135.9,300.2 L136.5,300.7 L137.1,300.4 L137.7,300.5 L138.3,300.5 L138.9,300.8 L139.5,300.7 L140.1,300.6 L140.7,300.4 L141.3,300.5 L141.9,300.5 L142.5,300.5 L143.1,300.3 L143.7,300.2 L144.3,300.0 L144.9,300.3 L145.5,300.3 L146.1,300.1 L146.7,300.4 L147.3,300.5 L147.9,300.3 L148.5,300.4 L149.1,300.2 L149.7,299.9 L150.3,300.0 L150.9,300.1 L151.5,300.3 L152.1,300.2 L152.7,300.2 L153.3,300.1 L153.9,300.3 L154.5,300.4 L155.1,300.5 L155.7,300.2 L156.3,300.1 L156.9,300.1 L157.5,300.3 L158.1,300.3 L158.7,300.5 L159.3,299.7 L159.9,300.1 L160.5,300.2 L161.1,300.5 L161.7,300.1 L162.3,300.3 L162.9,300.3 L163.5,300.3 L164.1,300.2 L164.7,300.6 L165.3,300.3 L165.9,300.5 L166.5,299.9 L167.1,300.4 L167.7,300.0 L168.3,299.8 L168.9,299.9 L169.5,299.8 L170.1,300.2 L170.7,300.4 L171.3,300.1 L171.9,300.4 L172.5,300.1 L173.1,300.4 L173.7,300.8 L174.3,299.9 L174.9,300.5 L175.5,300.4 L176.1,299.8 L176.7,299.9 L177.3,300.1 L177.9,300.6 L178.5,300.2 L179.1,300.0 L179.7,300.1 L180.3,300.0 L180.9,300.1 L181.5,300.1 L182.1,300.4 L182.7,300.0 L183.3,300.6 L183.9,300.1 L184.5,300.0 L185.1,300.3 L185.7,300.1 L186.3,299.5 L186.9,299.9 L187.5,299.4 L188.1,299.5 L188.7,299.9 L189.3,299.7 L189.9,300.1 L190.5,299.9 L191.1,300.4 L191.7,299.8 L192.3,299.5 L192.9,299.4 L193.5,299.5 L194.1,299.9 L194.7,299.9 L195.3,300.2 L195.9,300.1 L196.5,300.2 L197.1,300.3 L197.7,300.1 L198.3,300.3 L198.9,300.5 L199.5,300.4 L200.1,299.9 L200.7,299.4 L201.3,299.7 L201.9,300.0 L202.5,299.2 L203.1,299.9 L203.7,300.3 L204.3,300.1 L204.9,299.8 L205.5,300.6 L206.1,300.3 L206.7,299.8 L207.3,300.3 L207.9,300.3 L208.5,299.6 L209.1,300.8 L209.7,299.8 L210.3,300.2 L210.9,300.0 L211.5,300.3 L212.1,299.5 L212.7,299.7 L213.3,300.0 L213.9,299.7 L214.5,299.6 L215.1,300.2 L215.7,299.4 L216.3,300.1 L216.9,299.8 L217.5,300.0 L218.1,299.9 L218.7,300.0 L219.3,300.0 L219.9,299.8 L220.5,299.8 L221.1,300.0 L221.7,299.8 L222.3,299.5 L222.9,299.7 L223.5,299.7 L224.1,299.9 L224.7,300.0 L225.3,299.9 L225.9,299.7 L226.5,299.8 L227.1,299.2 L227.7,298.6 L228.3,299.6 L228.9,299.1 L229.5,299.4 L230.1,299.3 L230.7,299.9 L231.3,299.2 L231.9,299.7 L232.5,299.3 L233.1,299.0 L233.7,298.8 L234.3,299.5 L234.9,299.6 L235.5,299.9 L236.1,300.5 L236.7,300.0 L237.3,300.1 L237.9,305.5 L238.5,297.6 L239.1,299.8 L239.7,299.4 L240.3,300.5 L240.9,299.0 L241.5,299.8 L242.1,299.8 L242.7,299.6 L243.3,299.1 L243.9,299.4 L244.5,299.3 L245.1,299.0 L245.7,299.5 L246.3,299.4 L246.9,299.4 L247.5,299.9 L248.1,299.1 L248.7,299.6 L249.3,299.2 L249.9,299.7 L250.0,299.6 L250.4,299.6 L250.8,299.0 L251.2,299.1 L251.6,299.2 L252.0,299.8 L252.4,299.9 L252.8,299.8 L253.2,299.1 L253.6,305.2 L254.0,298.6 L254.4,298.4 L254.8,299.1 L255.2,299.2 L255.6,298.6 L256.0,298.3 L256.4,299.3 L256.8,298.8 L257.2,298.4 L257.6,300.3 L258.0,299.4 L258.4,299.3 L258.8,299.7 L259.2,299.0 L259.6,300.0 L260.0,298.5 L260.4,298.6 L260.8,299.3 L261.2,298.9 L261.6,299.9 L262.0,298.4 L262.4,298.9 L262.8,299.4 L263.2,299.7 L263.6,299.9 L264.0,299.6 L264.4,300.5 L264.8,299.0 L265.2,299.3 L265.6,299.5 L266.0,298.8 L266.4,298.7 L266.8,303.7 L267.2,298.6 L267.6,298.3 L268.0,298.6 L268.4,298.2 L268.8,299.4 L269.2,298.5 L269.6,300.4 L270.0,299.9 L270.4,299.4 L270.8,298.7 L271.2,298.5 L271.6,299.5 L272.0,298.9 L272.4,299.2 L272.8,298.7 L273.2,299.8 L273.6,298.8 L274.0,299.2 L274.4,298.0 L274.8,298.5 L275.2,299.0 L275.6,298.5 L276.0,298.4 L276.4,299.3 L276.8,298.8 L277.2,299.6 L277.6,297.4 L278.0,299.1 L278.4,299.1 L278.8,298.0 L279.2,298.0 L279.6,299.2 L280.0,298.0 L280.4,298.3 L280.8,299.1 L281.2,298.7 L281.6,299.1 L282.0,298.2 L282.4,298.7 L282.8,299.2 L283.2,298.9 L283.6,297.5 L284.0,299.4 L284.4,299.0 L284.8,298.2 L285.2,299.5 L285.6,297.5 L286.0,299.7 L286.4,298.0 L286.8,299.4 L287.2,298.4 L287.6,297.5 L288.0,298.5 L288.4,298.5 L288.8,298.7 L289.2,299.1 L289.6,304.9 L290.0,298.9 L290.4,299.1 L290.8,298.4 L291.2,297.9 L291.6,297.8 L292.0,299.0 L292.4,299.1 L292.8,298.1 L293.2,297.8 L293.6,299.6 L294.0,297.6 L294.4,298.8 L294.8,298.1 L295.2,297.3 L295.6,298.6 L296.0,298.3 L296.4,299.4 L296.8,300.1 L297.2,298.4 L297.6,299.4 L298.0,299.5 L298.4,298.3 L298.8,297.9 L299.2,299.5 L299.6,298.0 L300.0,298.1 L300.4,301.0 L300.8,298.2 L301.2,297.9 L301.6,298.8 L302.0,299.3 L302.4,298.1 L302.8,297.4 L303.2,298.4 L303.6,297.3 L304.0,297.9 L304.4,299.4 L304.8,300.2 L305.2,298.6 L305.6,297.5 L306.0,298.9 L306.4,296.6 L306.8,297.6 L307.2,299.3 L307.6,298.7 L308.0,297.1 L308.4,296.9 L308.8,298.8 L309.2,298.0 L309.6,297.6 L310.0,298.5 L310.4,297.8 L310.8,296.7 L311.2,298.6 L311.6,297.3 L312.0,297.0 L312.4,297.0 L312.8,298.4 L313.2,297.5 L313.6,298.6 L314.0,298.0 L314.4,299.4 L314.8,298.2 L315.2,298.0 L315.6,296.8 L316.0,297.4 L316.4,298.9 L316.8,300.9 L317.2,297.4 L317.6,297.5 L318.0,302.2 L318.4,298.7 L318.8,297.6 L319.2,298.0 L319.6,296.4 L320.0,297.3 L320.4,298.5 L320.8,299.4 L321.2,297.8 L321.6,297.8 L322.0,298.4 L322.4,299.2 L322.8,298.7 L323.2,297.6 L323.6,298.6 L324.0,299.2 L324.4,297.6 L324.8,296.9 L325.2,298.4 L325.6,298.4 L326.0,299.1 L326.4,298.3 L326.8,297.6 L327.2,297.7 L327.6,297.1 L328.0,297.1 L328.4,297.2 L328.8,297.3 L329.2,299.0 L329.6,297.0 L330.0,298.2 L330.4,297.7 L330.8,299.6 L331.2,298.2 L331.6,297.5 L332.0,298.5 L332.4,297.6 L332.8,297.1 L333.2,299.1 L333.6,298.6 L334.0,299.7 L334.4,299.3 L334.8,298.9 L335.2,298.3 L335.6,297.0 L336.0,298.7 L336.4,298.0 L336.8,298.6 L337.2,298.0 L337.6,297.5 L338.0,297.4 L338.4,299.0 L338.8,299.6 L339.2,297.8 L339.6,298.5 L340.0,299.3 L340.4,297.0 L340.8,297.4 L341.2,296.5 L341.6,298.7 L342.0,297.8 L342.4,297.1 L342.8,296.0 L343.2,297.4 L343.6,298.5 L344.0,297.2 L344.4,297.2 L344.8,298.4 L345.2,296.7 L345.6,298.0 L346.0,298.6 L346.4,296.9 L346.8,296.7 L347.2,297.8 L347.6,297.5 L348.0,297.5 L348.4,297.9 L348.8,298.0 L349.2,296.8 L349.6,297.0 L350.0,298.0 L350.4,298.9 L350.8,299.2 L351.2,297.0 L351.6,298.8 L352.0,298.3 L352.4,297.5 L352.8,298.0 L353.2,298.4 L353.6,299.4 L354.0,296.5 L354.4,298.2 L354.8,297.4 L355.2,297.3 L355.6,298.7 L356.0,298.4 L356.4,296.5 L356.8,297.2 L357.2,297.6 L357.6,295.9 L358.0,298.5 L358.4,297.8 L358.8,298.1 L359.2,298.3 L359.6,299.6 L360.0,297.6 L360.4,297.2 L360.8,299.6 L361.2,297.4 L361.6,297.4 L362.0,296.4 L362.4,298.9 L362.8,298.0 L363.2,298.2 L363.6,297.8 L364.0,297.4 L364.4,296.6 L364.8,296.6 L365.2,297.9 L365.6,297.4 L366.0,298.8 L366.4,296.4 L366.8,296.8 L367.2,296.7 L367.6,299.3 L368.0,296.4 L368.4,298.3 L368.8,298.9 L369.2,297.2 L369.6,298.2 L370.0,295.2 L370.4,297.2 L370.8,295.9 L371.2,297.7 L371.6,297.2 L372.0,296.2 L372.4,298.2 L372.8,297.8 L373.2,297.2 L373.6,297.5 L374.0,296.5 L374.4,297.9 L374.8,300.3 L375.2,297.2 L375.6,298.3 L376.0,297.1 L376.4,298.5 L376.8,298.0 L377.2,297.1 L377.6,295.3 L378.0,296.8 L378.4,298.7 L378.8,297.3 L379.2,298.4 L379.6,297.2 L380.0,295.6 L380.4,298.0 L380.8,297.9 L381.2,297.0 L381.6,297.3 L382.0,298.0 L382.4,296.9 L382.8,297.9 L383.2,297.2 L383.6,294.8 L384.0,297.3 L384.4,296.8 L384.8,296.4 L385.2,297.7 L385.6,296.7 L386.0,297.9 L386.4,298.7 L386.8,297.7 L387.2,295.9 L387.6,296.9 L388.0,298.9 L388.4,297.3 L388.8,296.6 L389.2,297.3 L389.6,298.1 L390.0,297.7 L390.4,298.2 L390.8,296.3 L391.2,297.0 L391.6,297.1 L392.0,297.4 L392.4,294.9 L392.8,296.9 L393.2,295.5 L393.6,298.7 L394.0,298.8 L394.4,299.1 L394.8,298.0 L395.2,296.6 L395.6,298.2 L396.0,297.0 L396.4,298.0 L396.8,296.2 L397.2,296.6 L397.6,297.9 L398.0,299.5 L398.4,297.4 L398.8,299.9 L399.2,300.3 L399.6,295.5 L400.0,297.1 L400.4,296.2 L400.8,297.3 L401.2,296.9 L401.6,297.4 L402.0,298.4 L402.4,298.3 L402.8,297.4 L403.2,293.3 L403.6,297.1 L404.0,297.2 L404.4,297.9 L404.8,297.5 L405.2,298.3 L405.6,295.9 L406.0,298.3 L406.4,299.1 L406.8,297.2 L407.2,295.2 L407.6,296.4 L408.0,296.5 L408.4,293.3 L408.8,296.9 L409.2,298.1 L409.6,297.6 L410.0,298.4 L410.4,297.5 L410.8,297.0 L411.2,294.5 L411.6,295.5 L412.0,296.9 L412.4,297.6 L412.8,295.4 L413.2,295.8 L413.6,297.0 L414.0,293.9 L414.4,290.0 L414.8,296.0 L415.2,296.7 L415.6,295.9 L416.0,293.6 L416.4,296.6 L416.8,294.9 L417.2,297.4 L417.6,296.3 L418.0,296.6 L418.4,296.9 L418.8,295.2 L419.2,297.1 L419.6,297.9 L420.0,297.1 L420.4,298.3 L420.8,295.6 L421.2,297.5 L421.6,296.7 L422.0,295.1 L422.4,296.3 L422.8,295.7 L423.2,295.5 L423.6,296.2 L424.0,297.4 L424.4,295.6 L424.8,296.2 L425.2,294.1 L425.6,296.1 L426.0,297.5 L426.4,297.2 L426.8,296.8 L427.2,295.5 L427.6,294.8 L428.0,296.0 L428.4,294.5 L428.8,294.6 L429.2,297.4 L429.6,294.7 L430.0,298.1 L430.4,293.9 L430.8,296.5 L431.2,294.5 L431.6,296.3 L432.0,294.4 L432.4,295.8 L432.8,295.6 L433.2,295.3 L433.6,296.6 L434.0,297.9 L434.4,295.0 L434.8,297.0 L435.2,295.8 L435.6,295.6 L436.0,298.6 L436.4,292.6 L436.8,294.5 L437.2,293.0 L437.6,295.1 L438.0,295.2 L438.4,300.6 L438.8,295.7 L439.2,297.7 L439.6,297.0 L440.0,294.8 L440.4,296.1 L440.8,297.7 L441.2,295.5 L441.6,295.5 L442.0,295.9 L442.4,293.1 L442.8,294.2 L443.2,295.9 L443.6,296.4 L444.0,294.5 L444.4,295.3 L444.8,295.3 L445.2,291.3 L445.6,296.2 L446.0,295.6 L446.4,295.8 L446.8,293.4 L447.2,293.8 L447.6,295.6 L448.0,292.9 L448.4,295.3 L448.8,293.7 L449.2,293.4 L449.6,291.9 L450.0,293.9 L450.4,293.7 L450.8,293.6 L451.2,294.7 L451.6,296.1 L452.0,292.0 L452.4,295.0 L452.8,294.5 L453.2,296.2 L453.6,294.3 L454.0,291.3 L454.4,296.7 L454.8,293.1 L455.2,294.6 L455.6,292.7 L456.0,293.2 L456.4,293.9 L456.8,295.7 L457.2,295.7 L457.6,293.9 L458.0,295.7 L458.4,294.4 L458.8,295.0 L459.2,295.0 L459.6,295.5 L460.0,293.7 L460.4,294.5 L460.8,295.0 L461.2,294.8 L461.6,293.4 L462.0,297.3 L462.4,294.0 L462.8,295.6 L463.2,294.6 L463.6,296.1 L464.0,291.2 L464.4,297.6 L464.8,294.1 L465.2,292.5 L465.6,294.6 L466.0,298.0 L466.4,295.5 L466.8,293.0 L467.2,294.0 L467.6,296.6 L468.0,292.4 L468.4,294.3 L468.8,294.1 L469.2,297.7 L469.6,293.9 L470.0,296.3 L470.4,293.4 L470.8,293.3 L471.2,296.2 L471.6,295.6 L472.0,292.2 L472.4,295.9 L472.8,296.0 L473.2,294.0 L473.6,295.3 L474.0,291.2 L474.4,294.0 L474.8,293.6 L475.2,293.2 L475.6,293.6 L476.0,292.0 L476.4,294.0 L476.8,292.0 L477.2,294.6 L477.6,294.4 L478.0,292.9 L478.4,295.7 L478.8,297.3 L479.2,296.3 L479.6,292.2 L480.0,296.3 L480.4,294.8 L480.8,294.4 L481.2,293.6 L481.6,294.2 L482.0,296.3 L482.4,294.7 L482.8,293.4 L483.2,293.2 L483.6,293.9 L484.0,295.6 L484.4,297.8 L484.8,293.3 L485.2,294.8 L485.6,293.9 L486.0,292.9 L486.4,294.5 L486.8,294.7 L487.2,291.7 L487.6,292.2 L488.0,295.8 L488.4,294.4 L488.8,294.9 L489.2,293.2 L489.6,293.3 L490.0,294.7 L490.4,293.2 L490.8,292.5 L491.2,294.2 L491.6,295.5 L492.0,292.1 L492.4,295.4 L492.8,294.9 L493.2,292.7 L493.6,294.0 L494.0,293.9 L494.4,295.0 L494.8,295.2 L495.2,292.1 L495.6,291.7 L496.0,295.3 L496.4,293.8 L496.8,294.8 L497.2,294.9 L497.6,297.1 L498.0,292.3 L498.4,295.8 L498.8,292.5 L499.2,295.1 L499.6,296.1 L500.0,291.7 L500.4,294.6 L500.8,293.5 L501.2,293.6 L501.6,294.4 L502.0,292.7 L502.4,292.8 L502.8,295.5 L503.2,295.7 L503.6,293.1 L504.0,291.3 L504.4,297.4 L504.8,295.5 L505.2,294.3 L505.6,291.9 L506.0,292.4 L506.4,293.6 L506.8,291.6 L507.2,296.1 L507.6,293.9 L508.0,294.4 L508.4,292.1 L508.8,292.4 L509.2,292.6 L509.6,294.3 L510.0,293.4 L510.4,293.4 L510.8,294.4 L511.2,294.2 L511.6,296.4 L512.0,293.6 L512.4,292.3 L512.8,294.0 L513.2,296.5 L513.6,293.0 L514.0,294.0 L514.4,293.4 L514.8,294.8 L515.2,294.4 L515.6,292.5 L516.0,293.2 L516.4,295.2 L516.8,295.5 L517.2,295.5 L517.6,295.6 L518.0,293.6 L518.4,293.7 L518.8,296.1 L519.2,292.7 L519.6,294.4 L520.0,290.7 L520.4,292.6 L520.8,291.9 L521.2,291.2" stroke="#ff0000" stroke-width="1.9" fill="none"/>
<path d="M80.8,492.0 L80.8,491.4 L80.8,490.8 L80.9,490.3 L80.9,489.7 L80.9,489.2 L80.9,488.7 L80.9,488.1 L81.0,487.6 L81.0,487.0 L81.0,486.5 L81.0,485.9 L81.0,485.4 L81.1,484.8 L81.1,484.2 L81.1,483.6 L81.1,482.9 L81.2,482.2 L81.2,481.5 L81.3,480.8 L81.3,480.0 L81.3,479.5 L81.4,479.0 L81.4,478.5 L81.4,478.0 L81.5,477.4 L81.5,476.9 L81.5,476.3 L81.6,475.7 L81.6,475.1 L81.6,474.5 L81.7,473.9 L81.7,473.3 L81.7,472.7 L81.8,472.1 L81.8,471.5 L81.9,470.8 L81.9,470.2 L82.0,469.5 L82.0,468.9 L82.0,468.3 L82.1,467.6 L82.1,467.0 L82.2,466.3 L82.2,465.7 L82.3,465.0 L82.3,464.4 L82.3,463.7 L82.4,463.1 L82.4,462.5 L82.5,461.8 L82.5,461.2 L82.6,460.6 L82.6,460.0 L82.6,459.4 L82.7,458.8 L82.7,458.2 L82.8,457.6 L82.8,457.0 L82.9,456.4 L82.9,455.8 L82.9,455.2 L83.0,454.5 L83.0,453.9 L83.1,453.3 L83.1,452.7 L83.2,452.1 L83.2,451.5 L83.3,450.9 L83.3,450.3 L83.4,449.7 L83.4,449.1 L83.4,448.5 L83.5,447.9 L83.5,447.3 L83.6,446.7 L83.6,446.1 L83.7,445.5 L83.7,444.8 L83.8,444.2 L83.8,443.6 L83.9,443.0 L83.9,442.4 L84.0,441.8 L84.0,441.2 L84.1,440.6 L84.1,440.0 L84.1,439.4 L84.2,438.8 L84.2,438.1 L84.3,437.5 L84.3,436.9 L84.4,436.2 L84.4,435.6 L84.5,434.9 L84.5,434.3 L84.6,433.6 L84.6,433.0 L84.7,432.3 L84.7,431.7 L84.8,431.0 L84.8,430.3 L84.9,429.7 L84.9,429.1 L85.0,428.4 L85.0,427.8 L85.1,427.2 L85.1,426.5 L85.2,425.9 L85.2,425.3 L85.3,424.7 L85.3,424.2 L85.4,423.6 L85.4,423.0 L85.5,422.5 L85.5,422.0 L85.6,421.4 L85.6,420.9 L85.7,420.5 L85.7,420.0 L85.8,419.1 L85.9,418.2 L86.0,417.4 L86.1,416.7 L86.2,416.0 L86.3,415.3 L86.4,414.7 L86.5,414.1 L86.5,413.6 L86.6,413.0 L86.7,412.5 L86.8,412.0 L86.9,411.5 L87.0,411.0 L87.1,410.5 L87.2,410.0 L87.4,409.2 L87.5,408.5 L87.7,407.8 L87.8,407.2 L88.0,406.6 L88.1,406.1 L88.3,405.5 L88.4,405.0 L88.6,404.5 L88.8,404.0 L89.1,403.3 L89.4,402.7 L89.7,402.0 L90.0,401.5 L90.3,400.9 L90.6,400.4 L90.9,400.0 L91.4,399.3 L91.8,398.8 L92.2,398.4 L92.7,398.0 L93.2,397.6 L93.8,397.3 L94.4,397.0 L95.0,396.7 L95.6,396.3 L96.2,395.9 L96.8,395.5 L97.5,395.2 L98.1,394.9 L98.6,394.7 L99.2,394.4 L99.9,394.3 L100.5,394.2 L101.1,394.2 L101.7,394.3 L102.3,394.5 L103.0,394.7 L103.6,394.9 L104.1,395.1 L104.8,395.4 L105.4,395.7 L106.0,396.1 L106.5,396.5 L106.9,397.0 L107.2,397.5 L107.5,398.1 L107.8,398.7 L108.1,399.3 L108.5,400.1 L108.8,400.8 L109.2,401.4 L109.6,401.8 L110.1,401.9 L110.7,401.7 L111.3,401.3 L112.0,401.0 L112.6,400.8 L113.2,400.7 L113.8,400.5 L114.4,400.3 L115.1,400.1 L115.6,399.8 L116.2,399.6 L116.8,399.2 L117.3,398.9 L117.9,398.5 L118.5,398.2 L119.0,397.9 L119.6,397.6 L120.2,397.2 L120.8,396.9 L121.4,396.6 L121.9,396.3 L122.4,396.0 L123.0,395.6 L123.6,395.3 L124.1,394.9 L124.5,394.6 L125.0,394.4 L125.7,394.1 L126.3,393.9 L127.0,393.9 L127.5,394.0 L128.1,394.1 L128.7,394.3 L129.4,394.4 L130.0,394.6 L130.7,394.7 L131.3,394.8 L132.0,395.0 L132.7,395.1 L133.4,395.2 L134.0,395.8 L134.6,396.0 L135.2,395.9 L135.8,395.9 L136.4,396.0 L137.0,395.8 L137.6,395.9 L138.2,396.0 L138.8,396.1 L139.4,396.2 L140.0,396.4 L140.6,396.5 L141.2,396.5 L141.8,396.4 L142.4,396.9 L143.0,397.0 L143.6,396.7 L144.2,397.0 L144.8,396.9 L145.4,396.8 L146.0,396.5 L146.6,396.7 L147.2,396.8 L147.8,397.2 L148.4,396.7 L149.0,396.9 L149.6,396.9 L150.2,397.0 L150.8,397.1 L151.4,396.4 L152.0,396.3 L152.6,397.0 L153.2,396.9 L153.8,396.6 L154.4,396.9 L155.0,397.0 L155.6,396.6 L156.2,397.0 L156.8,397.3 L157.4,396.8 L158.0,396.8 L158.6,397.0 L159.2,396.7 L159.8,396.5 L160.4,396.7 L161.0,396.6 L161.6,397.0 L162.2,396.3 L162.8,396.8 L163.4,396.3 L164.0,396.8 L164.6,396.6 L165.2,396.8 L165.8,397.0 L166.4,397.0 L167.0,396.9 L167.6,396.5 L168.2,396.6 L168.8,396.9 L169.4,397.2 L170.0,396.9 L170.6,397.0 L171.2,396.5 L171.8,396.6 L172.4,396.5 L173.0,396.7 L173.6,396.3 L174.2,396.4 L174.8,395.9 L175.4,396.1 L176.0,396.2 L176.6,396.8 L177.2,396.2 L177.8,397.4 L178.4,396.3 L179.0,396.9 L179.6,397.1 L180.2,396.1 L180.8,396.8 L181.4,397.3 L182.0,395.9 L182.6,397.0 L183.2,396.4 L183.8,396.4 L184.4,396.4 L185.0,395.5 L185.6,396.3 L186.2,396.1 L186.8,396.3 L187.4,396.9 L188.0,398.2 L188.6,397.0 L189.2,396.9 L189.8,396.3 L190.4,395.9 L191.0,396.2 L191.6,396.7 L192.2,396.2 L192.8,396.6 L193.4,396.3 L194.0,397.6 L194.6,395.9 L195.2,397.1 L195.8,397.1 L196.4,397.0 L197.0,396.2 L197.6,396.3 L198.2,396.7 L198.8,396.9 L199.4,396.1 L200.0,396.1 L200.6,396.8 L201.2,397.2 L201.8,396.4 L202.4,396.2 L203.0,396.0 L203.6,397.4 L204.2,396.3 L204.8,395.9 L205.4,396.5 L206.0,397.1 L206.6,396.6 L207.2,395.3 L207.8,396.1 L208.4,396.0 L209.0,396.2 L209.6,395.8 L210.2,396.2 L210.8,395.7 L211.4,396.3 L212.0,396.0 L212.6,395.1 L213.2,394.8 L213.8,395.5 L214.4,396.1 L215.0,396.0 L215.6,395.7 L216.2,393.8 L216.8,395.4 L217.4,395.2 L218.0,395.5 L218.6,394.9 L219.2,395.3 L219.8,394.9 L220.4,396.5 L221.0,395.2 L221.6,394.8 L222.2,395.1 L222.8,395.2 L223.4,395.3 L224.0,394.6 L224.6,394.9 L225.2,395.7 L225.8,395.9 L226.4,395.6 L227.0,396.2 L227.6,395.5 L228.2,394.9 L228.8,394.3 L229.4,394.7 L230.0,394.8 L230.6,394.9 L231.2,395.3 L231.8,394.2 L232.4,394.0 L233.0,395.0 L233.6,395.3 L234.2,394.3 L234.8,394.7 L235.4,395.2 L236.0,394.7 L236.6,394.7 L237.2,393.7 L237.8,396.0 L238.4,395.3 L239.0,394.6 L239.6,393.9 L240.2,393.2 L240.8,393.8 L241.4,393.9 L242.0,394.8 L242.6,393.4 L243.2,395.2 L243.8,394.4 L244.4,395.2 L245.0,393.6 L245.6,394.3 L246.2,394.9 L246.8,394.1 L247.4,393.2 L248.0,394.0 L248.6,394.6 L249.2,393.2 L249.8,393.1 L250.0,394.2 L250.4,393.2 L250.8,394.4 L251.2,392.9 L251.6,392.4 L252.0,393.1 L252.4,395.0 L252.8,393.5 L253.2,394.4 L253.6,394.6 L254.0,393.6 L254.4,395.0 L254.8,394.2 L255.2,394.4 L255.6,392.7 L256.0,392.9 L256.4,392.0 L256.8,394.0 L257.2,394.0 L257.6,395.0 L258.0,395.7 L258.4,394.1 L258.8,393.7 L259.2,394.2 L259.6,395.1 L260.0,393.4 L260.4,394.5 L260.8,393.8 L261.2,393.6 L261.6,394.5 L262.0,393.2 L262.4,393.1 L262.8,394.6 L263.2,394.0 L263.6,393.7 L264.0,393.6 L264.4,394.2 L264.8,393.5 L265.2,394.7 L265.6,394.3 L266.0,395.1 L266.4,394.8 L266.8,394.6 L267.2,393.7 L267.6,393.9 L268.0,393.1 L268.4,396.0 L268.8,393.4 L269.2,394.1 L269.6,394.9 L270.0,392.6 L270.4,393.4 L270.8,394.2 L271.2,393.6 L271.6,393.0 L272.0,393.2 L272.4,394.8 L272.8,394.4 L273.2,393.8 L273.6,393.8 L274.0,392.0 L274.4,394.2 L274.8,394.0 L275.2,392.7 L275.6,393.9 L276.0,393.4 L276.4,392.9 L276.8,392.1 L277.2,392.1 L277.6,391.9 L278.0,393.6 L278.4,394.0 L278.8,394.3 L279.2,393.6 L279.6,393.0 L280.0,395.1 L280.4,391.4 L280.8,394.7 L281.2,394.5 L281.6,394.4 L282.0,394.0 L282.4,393.9 L282.8,392.6 L283.2,391.9 L283.6,393.1 L284.0,391.4 L284.4,394.1 L284.8,394.2 L285.2,389.5 L285.6,391.4 L286.0,393.4 L286.4,393.5 L286.8,393.3 L287.2,393.8 L287.6,394.1 L288.0,394.4 L288.4,395.6 L288.8,393.8 L289.2,394.4 L289.6,391.2 L290.0,392.8 L290.4,391.7 L290.8,394.9 L291.2,395.9 L291.6,393.9 L292.0,391.7 L292.4,393.0 L292.8,392.9 L293.2,392.9 L293.6,393.6 L294.0,393.7 L294.4,390.1 L294.8,394.9 L295.2,393.0 L295.6,393.2 L296.0,395.5 L296.4,393.5 L296.8,391.9 L297.2,391.8 L297.6,393.2 L298.0,394.0 L298.4,394.8 L298.8,393.1 L299.2,393.1 L299.6,395.3 L300.0,392.6 L300.4,394.7 L300.8,393.3 L301.2,393.4 L301.6,392.8 L302.0,393.5 L302.4,392.7 L302.8,392.6 L303.2,393.2 L303.6,392.2 L304.0,393.0 L304.4,392.6 L304.8,392.4 L305.2,392.5 L305.6,392.4 L306.0,394.6 L306.4,392.2 L306.8,391.3 L307.2,391.5 L307.6,393.1 L308.0,392.5 L308.4,393.0 L308.8,392.9 L309.2,393.3 L309.6,393.4 L310.0,393.5 L310.4,390.6 L310.8,391.5 L311.2,389.7 L311.6,394.2 L312.0,394.4 L312.4,394.5 L312.8,393.2 L313.2,395.0 L313.6,393.6 L314.0,393.6 L314.4,391.4 L314.8,392.1 L315.2,391.8 L315.6,393.5 L316.0,394.1 L316.4,391.3 L316.8,392.4 L317.2,392.7 L317.6,391.5 L318.0,390.4 L318.4,391.6 L318.8,390.6 L319.2,392.1 L319.6,392.3 L320.0,392.2 L320.4,392.2 L320.8,393.0 L321.2,390.8 L321.6,393.2 L322.0,389.9 L322.4,392.8 L322.8,393.7 L323.2,392.3 L323.6,391.0 L324.0,394.0 L324.4,392.1 L324.8,394.1 L325.2,393.9 L325.6,392.7 L326.0,392.7 L326.4,394.2 L326.8,393.4 L327.2,391.2 L327.6,392.7 L328.0,393.4 L328.4,393.3 L328.8,393.1 L329.2,392.2 L329.6,391.9 L330.0,390.8 L330.4,390.2 L330.8,393.9 L331.2,391.1 L331.6,392.3 L332.0,389.9 L332.4,392.6 L332.8,391.3 L333.2,396.8 L333.6,390.7 L334.0,390.7 L334.4,393.5 L334.8,394.1 L335.2,389.5 L335.6,393.0 L336.0,393.8 L336.4,390.7 L336.8,393.6 L337.2,391.8 L337.6,390.9 L338.0,391.6 L338.4,391.1 L338.8,389.7 L339.2,395.0 L339.6,391.5 L340.0,391.6 L340.4,394.1 L340.8,392.5 L341.2,394.4 L341.6,392.1 L342.0,393.2 L342.4,392.8 L342.8,392.8 L343.2,392.0 L343.6,392.2 L344.0,394.6 L344.4,391.2 L344.8,391.2 L345.2,391.6 L345.6,393.1 L346.0,393.2 L346.4,394.2 L346.8,390.9 L347.2,393.2 L347.6,392.3 L348.0,391.6 L348.4,391.6 L348.8,388.2 L349.2,391.7 L349.6,392.0 L350.0,390.0 L350.4,392.2 L350.8,394.6 L351.2,391.5 L351.6,392.6 L352.0,391.3 L352.4,390.7 L352.8,390.9 L353.2,391.8 L353.6,394.3 L354.0,393.6 L354.4,391.5 L354.8,394.3 L355.2,392.5 L355.6,391.5 L356.0,393.0 L356.4,390.7 L356.8,389.6 L357.2,394.1 L357.6,389.8 L358.0,393.8 L358.4,390.6 L358.8,392.6 L359.2,392.2 L359.6,391.9 L360.0,389.2 L360.4,392.1 L360.8,391.9 L361.2,390.6 L361.6,392.2 L362.0,394.2 L362.4,391.9 L362.8,393.3 L363.2,390.9 L363.6,393.0 L364.0,393.4 L364.4,396.3 L364.8,393.9 L365.2,393.2 L365.6,394.8 L366.0,391.2 L366.4,394.3 L366.8,391.7 L367.2,391.6 L367.6,394.4 L368.0,393.1 L368.4,394.7 L368.8,390.1 L369.2,392.5 L369.6,391.2 L370.0,391.8 L370.4,389.4 L370.8,394.1 L371.2,393.2 L371.6,391.6 L372.0,390.9 L372.4,391.3 L372.8,394.5 L373.2,392.1 L373.6,391.8 L374.0,393.1 L374.4,392.3 L374.8,392.6 L375.2,393.1 L375.6,392.3 L376.0,393.4 L376.4,390.5 L376.8,392.6 L377.2,391.8 L377.6,392.4 L378.0,392.3 L378.4,391.3 L378.8,391.9 L379.2,394.0 L379.6,391.6 L380.0,390.4 L380.4,393.1 L380.8,393.8 L381.2,391.9 L381.6,392.8 L382.0,391.4 L382.4,392.3 L382.8,394.0 L383.2,393.2 L383.6,392.0 L384.0,391.3 L384.4,389.3 L384.8,392.7 L385.2,393.2 L385.6,394.2 L386.0,395.6 L386.4,392.9 L386.8,393.7 L387.2,390.3 L387.6,393.9 L388.0,393.5 L388.4,394.4 L388.8,393.2 L389.2,392.8 L389.6,394.5 L390.0,391.3 L390.4,393.3 L390.8,394.0 L391.2,391.0 L391.6,390.6 L392.0,392.9 L392.4,392.2 L392.8,392.9 L393.2,393.2 L393.6,391.1 L394.0,393.0 L394.4,394.1 L394.8,391.8 L395.2,391.7 L395.6,390.2 L396.0,393.2 L396.4,395.0 L396.8,389.7 L397.2,393.1 L397.6,393.3 L398.0,390.9 L398.4,391.1 L398.8,390.4 L399.2,391.0 L399.6,392.9 L400.0,393.7 L400.4,392.9 L400.8,394.0 L401.2,392.8 L401.6,390.4 L402.0,394.2 L402.4,389.7 L402.8,390.3 L403.2,394.6 L403.6,392.8 L404.0,392.6 L404.4,395.7 L404.8,388.5 L405.2,389.9 L405.6,393.5 L406.0,391.9 L406.4,390.6 L406.8,394.7 L407.2,393.3 L407.6,390.7 L408.0,391.6 L408.4,393.7 L408.8,395.0 L409.2,389.0 L409.6,393.0 L410.0,392.2 L410.4,390.1 L410.8,392.5 L411.2,389.6 L411.6,391.1 L412.0,394.5 L412.4,393.1 L412.8,393.6 L413.2,393.2 L413.6,392.4 L414.0,393.0 L414.4,389.3 L414.8,390.5 L415.2,392.6 L415.6,390.2 L416.0,391.1 L416.4,390.6 L416.8,394.9 L417.2,391.2 L417.6,390.7 L418.0,393.1 L418.4,392.7 L418.8,391.1 L419.2,393.1 L419.6,392.9 L420.0,392.0 L420.4,396.9 L420.8,394.2 L421.2,393.4 L421.6,393.5 L422.0,397.0 L422.4,393.9 L422.8,391.2 L423.2,392.9 L423.6,392.2 L424.0,390.8 L424.4,392.2 L424.8,392.6 L425.2,392.4 L425.6,391.9 L426.0,393.8 L426.4,389.7 L426.8,393.6 L427.2,392.4 L427.6,393.0 L428.0,388.5 L428.4,395.2 L428.8,389.3 L429.2,390.8 L429.6,393.3 L430.0,391.1 L430.4,391.1 L430.8,387.8 L431.2,390.6 L431.6,391.9 L432.0,393.2 L432.4,392.2 L432.8,393.3 L433.2,393.5 L433.6,391.0 L434.0,390.6 L434.4,395.3 L434.8,390.8 L435.2,394.7 L435.6,392.8 L436.0,394.9 L436.4,390.7 L436.8,392.2 L437.2,391.8 L437.6,391.4 L438.0,392.8 L438.4,391.1 L438.8,392.2 L439.2,391.6 L439.6,393.6 L440.0,392.1 L440.4,389.8 L440.8,391.5 L441.2,392.1 L441.6,390.7 L442.0,394.4 L442.4,392.4 L442.8,392.9 L443.2,389.8 L443.6,390.5 L444.0,393.2 L444.4,389.5 L444.8,393.0 L445.2,392.8 L445.6,391.7 L446.0,392.7 L446.4,390.3 L446.8,392.5 L447.2,389.7 L447.6,389.6 L448.0,394.3 L448.4,390.7 L448.8,388.1 L449.2,393.3 L449.6,390.3 L450.0,385.5 L450.4,391.9 L450.8,393.6 L451.2,392.5 L451.6,394.8 L452.0,391.5 L452.4,392.9 L452.8,390.0 L453.2,392.2 L453.6,394.5 L454.0,393.0 L454.4,392.3 L454.8,388.7 L455.2,391.4 L455.6,389.9 L456.0,393.5 L456.4,391.0 L456.8,393.0 L457.2,390.8 L457.6,396.0 L458.0,390.5 L458.4,392.8 L458.8,397.1 L459.2,392.6 L459.6,390.4 L460.0,392.9 L460.4,393.8 L460.8,393.7 L461.2,388.8 L461.6,392.5 L462.0,388.1 L462.4,395.1 L462.8,391.7 L463.2,390.9 L463.6,393.2 L464.0,393.4 L464.4,390.3 L464.8,395.1 L465.2,391.3 L465.6,388.6 L466.0,394.5 L466.4,394.8 L466.8,394.1 L467.2,392.6 L467.6,390.1 L468.0,393.5 L468.4,395.5 L468.8,393.4 L469.2,394.6 L469.6,390.1 L470.0,393.3 L470.4,393.3 L470.8,388.9 L471.2,388.8 L471.6,390.7 L472.0,392.3 L472.4,392.8 L472.8,391.3 L473.2,391.6 L473.6,391.6 L474.0,392.0 L474.4,393.0 L474.8,392.9 L475.2,391.9 L475.6,392.3 L476.0,390.9 L476.4,393.1 L476.8,390.9 L477.2,395.0 L477.6,392.2 L478.0,392.7 L478.4,390.7 L478.8,391.4 L479.2,392.3 L479.6,391.9 L480.0,390.5 L480.4,389.3 L480.8,391.6 L481.2,391.9 L481.6,392.9 L482.0,394.1 L482.4,391.2 L482.8,388.2 L483.2,392.0 L483.6,388.9 L484.0,386.5 L484.4,394.0 L484.8,393.0 L485.2,390.6 L485.6,390.6 L486.0,391.6 L486.4,388.5 L486.8,392.8 L487.2,391.4 L487.6,395.9 L488.0,390.4 L488.4,394.1 L488.8,390.4 L489.2,393.5 L489.6,389.9 L490.0,393.4 L490.4,391.1 L490.8,390.1 L491.2,391.4 L491.6,392.7 L492.0,392.8 L492.4,394.8 L492.8,393.0 L493.2,386.3 L493.6,390.5 L494.0,387.6 L494.4,390.8 L494.8,392.8 L495.2,389.2 L495.6,389.7 L496.0,392.8 L496.4,391.9 L496.8,395.1 L497.2,391.9 L497.6,389.4 L498.0,394.6 L498.4,391.0 L498.8,392.5 L499.2,390.7 L499.6,392.9 L500.0,394.4 L500.4,395.1 L500.8,392.3 L501.2,390.9 L501.6,390.4 L502.0,388.9 L502.4,391.7 L502.8,389.4 L503.2,386.9 L503.6,387.1 L504.0,393.8 L504.4,388.1 L504.8,391.9 L505.2,389.4 L505.6,393.6 L506.0,393.8 L506.4,392.4 L506.8,393.4 L507.2,391.9 L507.6,393.1 L508.0,395.6 L508.4,394.2 L508.8,390.8 L509.2,390.8 L509.6,391.9 L510.0,391.6 L510.4,392.0 L510.8,390.7 L511.2,393.4 L511.6,392.5 L512.0,393.1 L512.4,392.3 L512.8,393.4 L513.2,390.0 L513.6,395.7 L514.0,393.2 L514.4,392.9 L514.8,392.8 L515.2,393.6 L515.6,393.0 L516.0,392.0 L516.4,391.0 L516.8,388.0 L517.2,391.9 L517.6,391.0 L518.0,391.1 L518.4,396.1 L518.8,387.4 L519.2,391.4 L519.6,394.3 L520.0,394.4 L520.4,394.7 L520.8,389.2 L521.2,389.2" stroke="#ff0000" stroke-width="1.9" fill="none"/>
<path d="M75.2,106.5 L75.5,105.8 L76.1,105.7 L76.7,105.7 L77.3,105.8 L77.9,105.9 L78.5,105.9 L79.1,105.8 L79.7,105.8 L80.3,105.9 L80.9,106.2 L81.5,106.1 L82.1,106.1 L82.7,105.9 L83.3,105.9 L83.9,105.8 L84.5,105.7 L85.1,105.9 L85.7,106.1 L86.3,106.0 L86.9,106.0 L87.5,106.0 L88.1,106.0 L88.7,106.1 L89.3,106.1 L89.9,106.3 L90.5,106.1 L91.1,106.2 L91.7,106.1 L92.3,106.0 L92.9,105.9 L93.5,106.0 L94.1,105.9 L94.7,106.1 L95.3,106.1 L95.9,106.0 L96.5,105.9 L97.1,106.0 L97.7,105.9 L98.3,105.9 L98.9,105.8 L99.5,105.8 L100.1,105.8 L100.7,105.9 L101.3,105.9 L101.9,105.9 L102.5,105.9 L103.1,105.9 L103.7,105.8 L104.3,105.9 L104.9,106.1 L105.5,106.2 L106.1,106.2 L106.7,106.2 L107.3,106.0 L107.9,105.9 L108.5,106.1 L109.1,105.9 L109.7,106.0 L110.3,106.0 L110.9,106.0 L111.5,105.9 L112.1,105.9 L112.7,105.9 L113.3,105.8 L113.9,106.1 L114.5,106.1 L115.1,106.1 L115.7,106.0 L116.3,105.9 L116.9,106.0 L117.5,105.9 L118.1,105.9 L118.7,105.8 L119.3,105.7 L119.9,105.8 L120.5,105.7 L121.1,105.6 L121.7,105.7 L122.3,105.9 L122.9,105.9 L123.5,106.1 L124.1,105.9 L124.7,106.0 L125.3,106.0 L125.9,105.8 L126.5,105.8 L127.1,105.7 L127.7,105.6 L128.3,105.9 L128.9,105.8 L129.5,106.1 L130.1,106.0 L130.7,105.9 L131.3,105.8 L131.9,105.7 L132.5,105.7 L133.1,105.8 L133.7,105.7 L134.3,106.0 L134.9,106.0 L135.5,106.1 L136.1,105.9 L136.7,105.8 L137.3,105.9 L137.9,105.9 L138.5,105.9 L139.1,105.7 L139.7,105.8 L140.3,105.8 L140.9,105.6 L141.5,105.8 L142.1,105.6 L142.7,105.8 L143.3,106.1 L143.9,106.0 L144.5,106.1 L145.1,106.3 L145.7,106.0 L146.3,106.1 L146.9,105.9 L147.5,105.8 L148.1,105.9 L148.7,105.8 L149.3,105.9 L149.9,106.1 L150.5,106.0 L151.1,105.9 L151.7,105.7 L152.3,105.9 L152.9,106.0 L153.5,106.0 L154.1,105.9 L154.7,105.8 L155.3,105.8 L155.9,105.8 L156.5,105.9 L157.1,105.8 L157.7,106.0 L158.3,105.9 L158.9,106.1 L159.5,105.8 L160.1,105.9 L160.7,105.9 L161.3,106.2 L161.9,106.1 L162.5,105.8 L163.1,105.8 L163.7,105.9 L164.3,105.9 L164.9,105.9 L165.5,105.8 L166.1,105.9 L166.7,106.0 L167.3,105.8 L167.9,105.8 L168.5,105.8 L169.1,105.6 L169.7,105.6 L170.3,105.8 L170.9,105.8 L171.5,105.9 L172.1,105.8 L172.7,106.1 L173.3,105.8 L173.9,105.9 L174.5,105.8 L175.1,105.9 L175.7,106.0 L176.3,105.8 L176.9,105.8 L177.5,105.7 L178.1,105.5 L178.7,105.3 L179.3,105.9 L179.9,105.7 L180.5,106.0 L181.1,105.8 L181.7,105.5 L182.3,105.7 L182.9,105.6 L183.5,105.8 L184.1,105.7 L184.7,105.9 L185.3,106.0 L185.9,105.8 L186.5,106.2 L187.1,105.9 L187.7,106.0 L188.3,105.6 L188.9,105.5 L189.5,106.1 L190.1,105.9 L190.7,105.9 L191.3,105.5 L191.9,105.8 L192.5,105.8 L193.1,105.7 L193.7,105.8 L194.3,105.6 L194.9,105.8 L195.5,105.7 L196.1,105.8 L196.7,105.8 L197.3,105.6 L197.9,105.7 L198.5,105.7 L199.1,105.8 L199.7,106.0 L200.3,105.9 L200.9,106.0 L201.5,105.6 L202.1,105.7 L202.7,105.8 L203.3,105.6 L203.9,105.7 L204.5,105.6 L205.1,105.9 L205.7,105.6 L206.3,105.5 L206.9,105.7 L207.5,105.8 L208.1,105.8 L208.7,106.0 L209.3,105.8 L209.9,105.7 L210.5,105.7 L211.1,105.7 L211.7,105.7 L212.3,105.8 L212.9,105.7 L213.5,105.8 L214.1,105.9 L214.7,105.8 L215.3,105.6 L215.9,105.7 L216.5,105.6 L217.1,105.4 L217.7,105.8 L218.3,105.5 L218.9,105.5 L219.5,105.5 L220.1,105.9 L220.7,105.8 L221.3,106.1 L221.9,105.9 L222.5,105.9 L223.1,106.0 L223.7,106.0 L224.3,105.9 L224.9,105.7 L225.5,105.7 L226.1,105.6 L226.7,105.7 L227.3,105.8 L227.9,106.0 L228.5,106.0 L229.1,105.8 L229.7,105.8 L230.3,105.6 L230.9,106.1 L231.5,105.9 L232.1,106.0 L232.7,105.6 L233.3,105.7 L233.9,105.8 L234.5,105.7 L235.1,105.7 L235.7,105.4 L236.3,105.8 L236.9,105.7 L237.5,105.9 L238.1,105.7 L238.7,105.4 L239.3,105.8 L239.9,105.9 L240.5,105.5 L241.1,105.5 L241.7,105.6 L242.3,105.6 L242.9,105.3 L243.5,106.1 L244.1,106.0 L244.7,105.8 L245.3,105.5 L245.9,105.9 L246.5,106.2 L247.1,106.0 L247.7,106.0 L248.3,105.7 L248.9,105.9 L249.5,105.6 L250.0,106.2 L250.4,105.8 L250.8,105.2 L251.2,105.2 L251.6,105.6 L252.0,105.6 L252.4,105.5 L252.8,105.7 L253.2,106.0 L253.6,105.7 L254.0,105.3 L254.4,105.7 L254.8,105.5 L255.2,105.5 L255.6,105.7 L256.0,105.7 L256.4,105.6 L256.8,105.8 L257.2,105.7 L257.6,105.9 L258.0,105.7 L258.4,105.7 L258.8,105.6 L259.2,105.8 L259.6,105.6 L260.0,105.7 L260.4,105.6 L260.8,105.8 L261.2,105.4 L261.6,106.3 L262.0,105.6 L262.4,105.7 L262.8,105.6 L263.2,105.6 L263.6,105.8 L264.0,105.6 L264.4,105.6 L264.8,105.4 L265.2,105.5 L265.6,105.5 L266.0,106.1 L266.4,105.4 L266.8,105.4 L267.2,105.8 L267.6,106.0 L268.0,105.4 L268.4,105.3 L268.8,105.7 L269.2,105.7 L269.6,105.4 L270.0,105.2 L270.4,105.3 L270.8,105.7 L271.2,105.5 L271.6,105.7 L272.0,105.5 L272.4,105.5 L272.8,105.6 L273.2,105.6 L273.6,105.7 L274.0,105.5 L274.4,105.6 L274.8,105.7 L275.2,105.5 L275.6,105.4 L276.0,105.6 L276.4,105.6 L276.8,105.6 L277.2,105.4 L277.6,105.8 L278.0,106.2 L278.4,105.6 L278.8,105.4 L279.2,105.6 L279.6,106.4 L280.0,105.5 L280.4,105.5 L280.8,105.9 L281.2,107.8 L281.6,106.0 L282.0,105.8 L282.4,105.5 L282.8,105.9 L283.2,105.5 L283.6,105.6 L284.0,105.4 L284.4,107.0 L284.8,105.8 L285.2,105.4 L285.6,105.4 L286.0,105.6 L286.4,105.7 L286.8,105.9 L287.2,105.7 L287.6,105.9 L288.0,105.4 L288.4,105.7 L288.8,105.3 L289.2,106.1 L289.6,105.9 L290.0,105.7 L290.4,105.8 L290.8,106.0 L291.2,105.9 L291.6,105.3 L292.0,105.6 L292.4,105.1 L292.8,105.4 L293.2,105.3 L293.6,105.6 L294.0,105.7 L294.4,105.4 L294.8,105.5 L295.2,105.7 L295.6,105.6 L296.0,105.6 L296.4,105.1 L296.8,105.5 L297.2,105.8 L297.6,105.7 L298.0,105.3 L298.4,105.6 L298.8,105.8 L299.2,105.5 L299.6,105.9 L300.0,105.5 L300.4,105.5 L300.8,105.5 L301.2,106.0 L301.6,105.5 L302.0,105.5 L302.4,105.9 L302.8,105.6 L303.2,105.8 L303.6,105.2 L304.0,105.7 L304.4,105.6 L304.8,105.3 L305.2,105.9 L305.6,105.6 L306.0,105.6 L306.4,105.4 L306.8,105.3 L307.2,105.5 L307.6,105.2 L308.0,105.7 L308.4,105.8 L308.8,105.5 L309.2,105.2 L309.6,105.5 L310.0,107.1 L310.4,105.7 L310.8,105.7 L311.2,105.6 L311.6,105.7 L312.0,105.9 L312.4,106.1 L312.8,105.5 L313.2,105.8 L313.6,105.5 L314.0,105.3 L314.4,105.8 L314.8,105.7 L315.2,105.6 L315.6,105.7 L316.0,105.6 L316.4,106.4 L316.8,106.0 L317.2,105.8 L317.6,105.6 L318.0,105.8 L318.4,105.9 L318.8,105.6 L319.2,105.8 L319.6,105.6 L320.0,105.8 L320.4,105.6 L320.8,106.3 L321.2,105.6 L321.6,105.8 L322.0,105.7 L322.4,105.4 L322.8,105.8 L323.2,105.5 L323.6,105.5 L324.0,105.6 L324.4,105.5 L324.8,106.0 L325.2,105.8 L325.6,105.8 L326.0,105.2 L326.4,105.6 L326.8,105.3 L327.2,105.5 L327.6,105.9 L328.0,105.7 L328.4,105.6 L328.8,105.9 L329.2,105.9 L329.6,106.1 L330.0,105.2 L330.4,105.7 L330.8,105.6 L331.2,105.4 L331.6,105.6 L332.0,105.3 L332.4,105.1 L332.8,105.4 L333.2,105.6 L333.6,106.1 L334.0,105.5 L334.4,105.4 L334.8,105.1 L335.2,105.5 L335.6,105.6 L336.0,105.7 L336.4,105.3 L336.8,105.5 L337.2,105.1 L337.6,105.7 L338.0,105.2 L338.4,105.0 L338.8,105.9 L339.2,105.8 L339.6,105.7 L340.0,105.7 L340.4,105.3 L340.8,105.9 L341.2,105.4 L341.6,106.2 L342.0,105.8 L342.4,105.3 L342.8,106.0 L343.2,106.3 L343.6,105.7 L344.0,106.1 L344.4,105.7 L344.8,105.5 L345.2,105.0 L345.6,105.9 L346.0,105.5 L346.4,105.7 L346.8,105.3 L347.2,105.4 L347.6,105.9 L348.0,105.5 L348.4,105.5 L348.8,105.3 L349.2,105.7 L349.6,105.9 L350.0,105.6 L350.4,105.6 L350.8,105.4 L351.2,106.1 L351.6,105.6 L352.0,105.7 L352.4,106.1 L352.8,105.7 L353.2,105.4 L353.6,105.5 L354.0,105.7 L354.4,106.1 L354.8,105.7 L355.2,105.5 L355.6,105.8 L356.0,105.9 L356.4,105.4 L356.8,105.9 L357.2,105.9 L357.6,105.8 L358.0,105.1 L358.4,105.7 L358.8,106.0 L359.2,105.6 L359.6,106.2 L360.0,105.6 L360.4,105.3 L360.8,105.8 L361.2,105.8 L361.6,105.9 L362.0,105.6 L362.4,105.9 L362.8,105.4 L363.2,105.6 L363.6,105.3 L364.0,105.4 L364.4,105.7 L364.8,105.5 L365.2,105.6 L365.6,105.7 L366.0,105.9 L366.4,106.0 L366.8,105.9 L367.2,105.9 L367.6,105.7 L368.0,105.5 L368.4,105.2 L368.8,105.5 L369.2,105.4 L369.6,105.2 L370.0,106.1 L370.4,105.2 L370.8,105.8 L371.2,105.9 L371.6,105.7 L372.0,106.4 L372.4,105.7 L372.8,105.5 L373.2,106.1 L373.6,105.4 L374.0,105.2 L374.4,105.3 L374.8,105.4 L375.2,105.6 L375.6,105.7 L376.0,105.3 L376.4,105.8 L376.8,106.3 L377.2,105.5 L377.6,105.6 L378.0,105.8 L378.4,105.9 L378.8,105.5 L379.2,105.4 L379.6,105.4 L380.0,105.9 L380.4,106.0 L380.8,105.2 L381.2,105.2 L381.6,105.4 L382.0,105.2 L382.4,105.7 L382.8,105.6 L383.2,106.1 L383.6,105.9 L384.0,105.8 L384.4,106.1 L384.8,105.6 L385.2,105.5 L385.6,105.8 L386.0,106.0 L386.4,105.2 L386.8,105.9 L387.2,105.9 L387.6,105.5 L388.0,105.7 L388.4,105.6 L388.8,105.7 L389.2,105.8 L389.6,105.4 L390.0,105.9 L390.4,105.8 L390.8,105.9 L391.2,105.2 L391.6,105.2 L392.0,105.9 L392.4,105.6 L392.8,105.5 L393.2,105.3 L393.6,105.1 L394.0,105.4 L394.4,105.4 L394.8,105.4 L395.2,105.7 L395.6,105.3 L396.0,105.8 L396.4,104.9 L396.8,106.2 L397.2,105.2 L397.6,105.8 L398.0,105.9 L398.4,105.7 L398.8,105.9 L399.2,105.7 L399.6,105.3 L400.0,105.8 L400.4,106.0 L400.8,105.5 L401.2,105.2 L401.6,105.5 L402.0,105.8 L402.4,105.8 L402.8,106.0 L403.2,105.9 L403.6,105.8 L404.0,105.1 L404.4,106.3 L404.8,105.7 L405.2,105.9 L405.6,105.6 L406.0,105.6 L406.4,105.7 L406.8,106.1 L407.2,106.0 L407.6,105.8 L408.0,106.2 L408.4,105.6 L408.8,105.9 L409.2,105.6 L409.6,106.1 L410.0,105.7 L410.4,105.9 L410.8,106.1 L411.2,105.1 L411.6,106.2 L412.0,105.7 L412.4,105.6 L412.8,105.1 L413.2,105.6 L413.6,104.9 L414.0,105.6 L414.4,105.5 L414.8,106.1 L415.2,105.6 L415.6,106.1 L416.0,106.1 L416.4,106.4 L416.8,105.7 L417.2,105.9 L417.6,105.3 L418.0,105.5 L418.4,105.7 L418.8,105.8 L419.2,105.4 L419.6,105.6 L420.0,105.9 L420.4,105.5 L420.8,105.6 L421.2,105.5 L421.6,106.1 L422.0,106.2 L422.4,105.8 L422.8,105.7 L423.2,106.1 L423.6,105.8 L424.0,105.5 L424.4,105.3 L424.8,105.5 L425.2,106.3 L425.6,105.5 L426.0,106.5 L426.4,105.7 L426.8,105.6 L427.2,106.0 L427.6,105.6 L428.0,105.8 L428.4,105.4 L428.8,105.3 L429.2,105.4 L429.6,105.7 L430.0,105.5 L430.4,105.2 L430.8,105.9 L431.2,105.6 L431.6,105.5 L432.0,105.4 L432.4,105.0 L432.8,106.1 L433.2,105.6 L433.6,105.9 L434.0,106.1 L434.4,106.1 L434.8,105.8 L435.2,105.7 L435.6,105.8 L436.0,106.0 L436.4,105.9 L436.8,105.6 L437.2,105.9 L437.6,105.8 L438.0,105.9 L438.4,105.8 L438.8,106.1 L439.2,105.7 L439.6,105.9 L440.0,105.7 L440.4,105.6 L440.8,105.5 L441.2,105.7 L441.6,105.9 L442.0,106.0 L442.4,105.7 L442.8,105.6 L443.2,105.6 L443.6,106.0 L444.0,105.7 L444.4,105.6 L444.8,106.0 L445.2,105.4 L445.6,105.7 L446.0,105.7 L446.4,105.7 L446.8,105.4 L447.2,106.0 L447.6,106.1 L448.0,105.3 L448.4,105.7 L448.8,105.9 L449.2,106.3 L449.6,105.6 L450.0,105.5 L450.4,105.7 L450.8,106.3 L451.2,105.7 L451.6,105.8 L452.0,106.2 L452.4,105.1 L452.8,105.0 L453.2,105.9 L453.6,105.9 L454.0,105.4 L454.4,106.0 L454.8,105.8 L455.2,105.9 L455.6,105.5 L456.0,105.6 L456.4,105.5 L456.8,105.7 L457.2,105.6 L457.6,106.2 L458.0,105.9 L458.4,105.3 L458.8,105.9 L459.2,106.2 L459.6,105.9 L460.0,106.1 L460.4,105.8 L460.8,106.0 L461.2,105.6 L461.6,106.1 L462.0,105.4 L462.4,106.1 L462.8,105.3 L463.2,105.1 L463.6,105.9 L464.0,105.7 L464.4,105.8 L464.8,105.9 L465.2,105.7 L465.6,105.5 L466.0,105.8 L466.4,105.9 L466.8,105.9 L467.2,106.4 L467.6,105.5 L468.0,105.8 L468.4,105.9 L468.8,105.6 L469.2,105.4 L469.6,105.6 L470.0,106.1 L470.4,105.7 L470.8,105.9 L471.2,105.5 L471.6,105.8 L472.0,105.5 L472.4,105.5 L472.8,105.8 L473.2,105.8 L473.6,106.2 L474.0,105.3 L474.4,105.9 L474.8,106.2 L475.2,106.1 L475.6,105.6 L476.0,105.5 L476.4,105.6 L476.8,105.8 L477.2,105.7 L477.6,105.8 L478.0,105.9 L478.4,105.5 L478.8,105.5 L479.2,105.5 L479.6,105.4 L480.0,105.8 L480.4,105.9 L480.8,106.5 L481.2,105.9 L481.6,105.8 L482.0,106.2 L482.4,105.6 L482.8,105.9 L483.2,106.0 L483.6,106.0 L484.0,105.9 L484.4,105.7 L484.8,105.5 L485.2,105.8 L485.6,105.7 L486.0,106.0 L486.4,105.7 L486.8,105.9 L487.2,105.3 L487.6,106.0 L488.0,105.4 L488.4,105.2 L488.8,105.3 L489.2,105.5 L489.6,106.1 L490.0,106.0 L490.4,105.4 L490.8,105.8 L491.2,105.7 L491.6,105.2 L492.0,105.4 L492.4,105.2 L492.8,105.5 L493.2,105.0 L493.6,105.5 L494.0,105.4 L494.4,105.4 L494.8,105.5 L495.2,106.1 L495.6,105.7 L496.0,105.9 L496.4,106.0 L496.8,106.1 L497.2,106.0 L497.6,105.6 L498.0,105.4 L498.4,105.5 L498.8,105.7 L499.2,105.8 L499.6,105.7 L500.0,106.1 L500.4,105.8 L500.8,106.4 L501.2,106.2 L501.6,105.8 L502.0,106.1 L502.4,104.9 L502.8,106.2 L503.2,105.9 L503.6,105.9 L504.0,105.3 L504.4,106.6 L504.8,105.7 L505.2,105.7 L505.6,106.1 L506.0,105.7 L506.4,105.5 L506.8,106.0 L507.2,105.5 L507.6,106.0 L508.0,105.8 L508.4,106.0 L508.8,105.4 L509.2,106.1 L509.6,105.9 L510.0,106.4 L510.4,105.6 L510.8,106.3 L511.2,106.0 L511.6,106.0 L512.0,105.6 L512.4,105.9 L512.8,105.9 L513.2,105.4 L513.6,105.4 L514.0,105.6 L514.4,106.3 L514.8,105.9 L515.2,106.1 L515.6,105.9 L516.0,105.9 L516.4,105.8 L516.8,105.5 L517.2,106.0 L517.6,105.8 L518.0,105.9 L518.4,105.4 L518.8,105.9 L519.2,105.6 L519.6,105.7 L520.0,106.2 L520.4,105.5 L520.8,105.8 L521.2,106.0" stroke="#0000ff" stroke-width="1.9" fill="none"/>
<path d="M76.8,202.2 L77.0,202.0 L77.6,202.3 L78.2,202.3 L78.8,202.1 L79.4,201.7 L80.0,201.6 L80.6,201.6 L81.2,201.6 L81.8,201.8 L82.4,201.8 L83.0,201.8 L83.6,201.9 L84.2,201.9 L84.8,201.6 L85.4,201.7 L86.0,201.6 L86.6,201.9 L87.2,201.9 L87.8,201.9 L88.4,201.7 L89.0,201.6 L89.6,201.5 L90.2,201.4 L90.8,201.4 L91.4,201.4 L92.0,201.5 L92.6,201.5 L93.2,201.4 L93.8,201.5 L94.4,201.4 L95.0,201.3 L95.6,201.4 L96.2,201.6 L96.8,201.8 L97.4,202.0 L98.0,202.1 L98.6,202.1 L99.2,201.8 L99.8,202.0 L100.4,202.3 L101.0,202.4 L101.6,202.7 L102.2,202.6 L102.8,202.7 L103.4,203.4 L104.0,203.8 L104.6,203.8 L105.2,203.4 L105.8,203.3 L106.4,202.9 L107.0,202.9 L107.6,202.6 L108.2,202.4 L108.8,202.2 L109.4,201.9 L110.0,202.4 L110.6,202.3 L111.2,202.0 L111.8,201.7 L112.4,201.7 L113.0,201.6 L113.6,201.6 L114.2,201.4 L114.8,201.3 L115.4,201.4 L116.0,201.5 L116.6,201.2 L117.2,201.5 L117.8,201.4 L118.4,201.5 L119.0,201.8 L119.6,201.8 L120.2,202.0 L120.8,202.1 L121.4,201.9 L122.0,201.8 L122.6,201.8 L123.2,201.9 L123.8,201.7 L124.4,201.7 L125.0,201.7 L125.6,201.7 L126.2,201.6 L126.8,202.0 L127.4,201.7 L128.0,201.9 L128.6,201.7 L129.2,201.8 L129.8,201.5 L130.4,201.4 L131.0,201.5 L131.6,201.3 L132.2,201.4 L132.8,201.4 L133.4,201.3 L134.0,201.6 L134.6,201.2 L135.2,201.9 L135.8,201.6 L136.4,202.1 L137.0,202.3 L137.6,202.1 L138.2,201.7 L138.8,201.8 L139.4,201.8 L140.0,201.8 L140.6,201.8 L141.2,201.6 L141.8,201.6 L142.4,201.2 L143.0,201.6 L143.6,201.2 L144.2,201.4 L144.8,201.1 L145.4,200.9 L146.0,201.4 L146.6,201.2 L147.2,201.4 L147.8,201.0 L148.4,201.1 L149.0,201.2 L149.6,201.1 L150.2,201.4 L150.8,201.4 L151.4,201.3 L152.0,201.1 L152.6,201.4 L153.2,201.3 L153.8,201.1 L154.4,201.6 L155.0,201.5 L155.6,201.4 L156.2,201.4 L156.8,201.3 L157.4,201.5 L158.0,201.0 L158.6,201.1 L159.2,201.1 L159.8,201.5 L160.4,201.7 L161.0,201.3 L161.6,201.3 L162.2,201.7 L162.8,201.5 L163.4,201.6 L164.0,201.3 L164.6,200.7 L165.2,201.2 L165.8,201.3 L166.4,201.3 L167.0,201.4 L167.6,201.4 L168.2,202.0 L168.8,202.1 L169.4,201.6 L170.0,201.7 L170.6,200.9 L171.2,201.7 L171.8,202.0 L172.4,202.0 L173.0,201.3 L173.6,201.8 L174.2,201.4 L174.8,201.8 L175.4,201.3 L176.0,201.5 L176.6,201.3 L177.2,201.4 L177.8,201.3 L178.4,201.8 L179.0,201.7 L179.6,201.5 L180.2,201.4 L180.8,201.5 L181.4,201.7 L182.0,201.9 L182.6,201.5 L183.2,201.5 L183.8,201.5 L184.4,201.7 L185.0,201.5 L185.6,201.2 L186.2,202.0 L186.8,202.0 L187.4,201.4 L188.0,202.1 L188.6,200.9 L189.2,201.6 L189.8,201.5 L190.4,201.7 L191.0,202.1 L191.6,201.9 L192.2,201.5 L192.8,201.1 L193.4,201.0 L194.0,201.5 L194.6,202.0 L195.2,201.8 L195.8,201.6 L196.4,201.7 L197.0,201.8 L197.6,201.9 L198.2,200.8 L198.8,201.3 L199.4,201.2 L200.0,201.0 L200.6,201.0 L201.2,201.9 L201.8,201.4 L202.4,201.2 L203.0,201.3 L203.6,202.0 L204.2,201.9 L204.8,202.6 L205.4,201.8 L206.0,201.7 L206.6,202.0 L207.2,201.6 L207.8,201.7 L208.4,202.1 L209.0,202.2 L209.6,201.7 L210.2,201.5 L210.8,201.0 L211.4,201.1 L212.0,201.7 L212.6,201.8 L213.2,201.6 L213.8,201.7 L214.4,202.5 L215.0,202.2 L215.6,201.6 L216.2,201.7 L216.8,202.2 L217.4,201.9 L218.0,201.8 L218.6,200.9 L219.2,200.8 L219.8,200.8 L220.4,200.7 L221.0,201.7 L221.6,201.9 L222.2,201.5 L222.8,202.1 L223.4,202.1 L224.0,201.8 L224.6,201.4 L225.2,202.9 L225.8,202.9 L226.4,202.0 L227.0,203.0 L227.6,202.1 L228.2,201.7 L228.8,201.9 L229.4,201.2 L230.0,201.9 L230.6,201.2 L231.2,202.5 L231.8,202.1 L232.4,201.3 L233.0,202.1 L233.6,200.9 L234.2,201.9 L234.8,202.1 L235.4,201.9 L236.0,201.2 L236.6,201.6 L237.2,201.5 L237.8,201.9 L238.4,202.7 L239.0,202.9 L239.6,202.9 L240.2,201.7 L240.8,201.7 L241.4,202.2 L242.0,202.5 L242.6,201.3 L243.2,202.1 L243.8,203.4 L244.4,201.8 L245.0,202.1 L245.6,202.1 L246.2,202.7 L246.8,202.5 L247.4,202.3 L248.0,201.6 L248.6,202.7 L249.2,202.4 L249.8,202.0 L250.0,202.1 L250.4,202.3 L250.8,201.1 L251.2,201.3 L251.6,201.8 L252.0,202.2 L252.4,201.3 L252.8,202.7 L253.2,203.7 L253.6,202.8 L254.0,203.5 L254.4,201.4 L254.8,203.1 L255.2,204.2 L255.6,204.5 L256.0,203.5 L256.4,203.4 L256.8,204.1 L257.2,203.4 L257.6,204.1 L258.0,203.5 L258.4,204.2 L258.8,204.0 L259.2,204.7 L259.6,203.9 L260.0,203.1 L260.4,203.4 L260.8,202.6 L261.2,203.1 L261.6,202.9 L262.0,203.1 L262.4,203.4 L262.8,201.5 L263.2,202.9 L263.6,203.0 L264.0,201.8 L264.4,203.7 L264.8,202.1 L265.2,204.0 L265.6,203.0 L266.0,203.3 L266.4,202.8 L266.8,203.1 L267.2,201.7 L267.6,202.0 L268.0,201.4 L268.4,203.0 L268.8,202.2 L269.2,203.1 L269.6,203.1 L270.0,201.6 L270.4,202.7 L270.8,202.4 L271.2,202.6 L271.6,202.9 L272.0,202.6 L272.4,202.5 L272.8,203.2 L273.2,206.8 L273.6,201.9 L274.0,202.1 L274.4,203.2 L274.8,202.2 L275.2,203.7 L275.6,200.4 L276.0,202.0 L276.4,202.2 L276.8,202.5 L277.2,203.0 L277.6,201.8 L278.0,201.3 L278.4,202.9 L278.8,203.8 L279.2,201.4 L279.6,203.7 L280.0,203.3 L280.4,202.3 L280.8,202.3 L281.2,202.7 L281.6,202.4 L282.0,202.3 L282.4,201.8 L282.8,202.8 L283.2,202.2 L283.6,202.7 L284.0,202.3 L284.4,202.8 L284.8,203.2 L285.2,202.8 L285.6,203.1 L286.0,201.7 L286.4,202.9 L286.8,202.7 L287.2,201.8 L287.6,202.1 L288.0,200.3 L288.4,202.7 L288.8,202.4 L289.2,201.0 L289.6,205.6 L290.0,202.0 L290.4,206.3 L290.8,202.3 L291.2,202.7 L291.6,202.3 L292.0,202.1 L292.4,202.9 L292.8,203.4 L293.2,201.0 L293.6,202.8 L294.0,202.3 L294.4,201.9 L294.8,203.7 L295.2,203.1 L295.6,201.4 L296.0,201.3 L296.4,203.0 L296.8,202.1 L297.2,202.5 L297.6,201.2 L298.0,202.6 L298.4,203.5 L298.8,202.1 L299.2,202.5 L299.6,204.1 L300.0,203.5 L300.4,204.1 L300.8,203.5 L301.2,203.9 L301.6,201.5 L302.0,202.2 L302.4,201.6 L302.8,204.7 L303.2,202.8 L303.6,202.3 L304.0,201.6 L304.4,201.5 L304.8,200.0 L305.2,204.4 L305.6,202.4 L306.0,202.5 L306.4,201.1 L306.8,202.1 L307.2,202.3 L307.6,201.9 L308.0,202.7 L308.4,201.5 L308.8,202.6 L309.2,202.9 L309.6,202.7 L310.0,202.8 L310.4,202.7 L310.8,201.8 L311.2,203.1 L311.6,202.2 L312.0,201.9 L312.4,203.5 L312.8,201.3 L313.2,202.1 L313.6,203.1 L314.0,203.2 L314.4,201.9 L314.8,202.4 L315.2,202.8 L315.6,202.3 L316.0,201.6 L316.4,202.8 L316.8,202.5 L317.2,202.3 L317.6,203.1 L318.0,202.4 L318.4,201.8 L318.8,202.6 L319.2,204.4 L319.6,202.0 L320.0,202.4 L320.4,201.9 L320.8,203.0 L321.2,201.5 L321.6,203.1 L322.0,203.5 L322.4,202.0 L322.8,202.0 L323.2,201.3 L323.6,202.7 L324.0,201.7 L324.4,202.4 L324.8,202.6 L325.2,202.2 L325.6,203.6 L326.0,204.2 L326.4,200.6 L326.8,201.9 L327.2,203.0 L327.6,201.7 L328.0,202.3 L328.4,203.1 L328.8,204.5 L329.2,204.4 L329.6,202.9 L330.0,202.9 L330.4,202.0 L330.8,202.1 L331.2,201.3 L331.6,200.7 L332.0,202.0 L332.4,203.3 L332.8,203.1 L333.2,200.5 L333.6,202.1 L334.0,201.6 L334.4,202.6 L334.8,201.1 L335.2,203.3 L335.6,202.2 L336.0,203.1 L336.4,203.3 L336.8,200.2 L337.2,201.8 L337.6,203.7 L338.0,202.3 L338.4,203.4 L338.8,202.8 L339.2,201.9 L339.6,202.7 L340.0,203.5 L340.4,203.8 L340.8,204.1 L341.2,201.5 L341.6,203.7 L342.0,201.3 L342.4,202.3 L342.8,206.7 L343.2,202.6 L343.6,202.4 L344.0,203.7 L344.4,201.7 L344.8,203.4 L345.2,202.8 L345.6,202.4 L346.0,200.9 L346.4,202.8 L346.8,202.5 L347.2,203.0 L347.6,201.9 L348.0,201.8 L348.4,202.7 L348.8,203.1 L349.2,203.5 L349.6,204.9 L350.0,201.8 L350.4,204.7 L350.8,198.9 L351.2,203.7 L351.6,201.9 L352.0,205.3 L352.4,201.9 L352.8,204.0 L353.2,201.4 L353.6,201.0 L354.0,203.2 L354.4,203.4 L354.8,201.7 L355.2,205.5 L355.6,202.2 L356.0,208.5 L356.4,201.3 L356.8,201.5 L357.2,202.9 L357.6,201.6 L358.0,203.1 L358.4,199.7 L358.8,202.3 L359.2,201.5 L359.6,201.1 L360.0,202.9 L360.4,202.4 L360.8,202.1 L361.2,203.4 L361.6,202.8 L362.0,202.9 L362.4,204.1 L362.8,202.4 L363.2,203.7 L363.6,202.2 L364.0,203.4 L364.4,203.3 L364.8,201.8 L365.2,200.6 L365.6,200.8 L366.0,201.2 L366.4,203.1 L366.8,202.3 L367.2,202.0 L367.6,202.9 L368.0,203.1 L368.4,204.0 L368.8,201.5 L369.2,203.2 L369.6,203.5 L370.0,201.4 L370.4,202.6 L370.8,201.1 L371.2,201.9 L371.6,202.8 L372.0,200.1 L372.4,201.3 L372.8,201.3 L373.2,202.5 L373.6,201.3 L374.0,203.1 L374.4,201.6 L374.8,202.2 L375.2,203.6 L375.6,203.2 L376.0,203.1 L376.4,202.8 L376.8,204.0 L377.2,204.3 L377.6,201.7 L378.0,201.2 L378.4,200.7 L378.8,204.5 L379.2,200.8 L379.6,200.2 L380.0,202.3 L380.4,203.8 L380.8,200.9 L381.2,202.5 L381.6,200.5 L382.0,201.5 L382.4,204.9 L382.8,203.2 L383.2,202.4 L383.6,202.6 L384.0,202.6 L384.4,202.1 L384.8,200.6 L385.2,200.5 L385.6,204.9 L386.0,201.0 L386.4,203.9 L386.8,201.3 L387.2,204.1 L387.6,203.3 L388.0,202.1 L388.4,205.4 L388.8,201.2 L389.2,202.2 L389.6,201.1 L390.0,201.1 L390.4,201.7 L390.8,201.0 L391.2,202.3 L391.6,205.2 L392.0,200.1 L392.4,200.4 L392.8,200.7 L393.2,201.4 L393.6,203.8 L394.0,203.4 L394.4,203.0 L394.8,202.7 L395.2,206.0 L395.6,200.8 L396.0,200.7 L396.4,202.4 L396.8,202.7 L397.2,202.0 L397.6,201.1 L398.0,200.4 L398.4,201.9 L398.8,201.1 L399.2,203.6 L399.6,200.6 L400.0,204.6 L400.4,203.5 L400.8,205.8 L401.2,202.3 L401.6,203.0 L402.0,202.4 L402.4,202.5 L402.8,202.2 L403.2,202.4 L403.6,200.0 L404.0,202.3 L404.4,203.7 L404.8,199.5 L405.2,202.0 L405.6,203.3 L406.0,204.1 L406.4,201.9 L406.8,202.8 L407.2,205.2 L407.6,204.8 L408.0,202.3 L408.4,201.8 L408.8,204.3 L409.2,202.8 L409.6,201.5 L410.0,201.7 L410.4,202.6 L410.8,202.1 L411.2,202.1 L411.6,202.3 L412.0,200.3 L412.4,205.4 L412.8,206.6 L413.2,204.7 L413.6,202.1 L414.0,202.6 L414.4,203.4 L414.8,204.0 L415.2,199.9 L415.6,203.4 L416.0,200.9 L416.4,202.2 L416.8,201.2 L417.2,204.9 L417.6,202.9 L418.0,202.0 L418.4,204.2 L418.8,201.9 L419.2,200.9 L419.6,201.9 L420.0,201.8 L420.4,202.5 L420.8,204.1 L421.2,202.7 L421.6,202.8 L422.0,204.2 L422.4,202.7 L422.8,203.6 L423.2,202.4 L423.6,200.2 L424.0,200.5 L424.4,199.5 L424.8,204.1 L425.2,202.9 L425.6,201.4 L426.0,200.5 L426.4,202.8 L426.8,202.4 L427.2,203.1 L427.6,201.1 L428.0,200.4 L428.4,204.7 L428.8,200.8 L429.2,202.3 L429.6,204.6 L430.0,199.1 L430.4,203.0 L430.8,201.6 L431.2,201.3 L431.6,202.1 L432.0,200.0 L432.4,198.3 L432.8,204.9 L433.2,201.2 L433.6,203.0 L434.0,203.4 L434.4,202.2 L434.8,202.5 L435.2,202.8 L435.6,204.2 L436.0,202.7 L436.4,204.3 L436.8,201.8 L437.2,201.4 L437.6,202.1 L438.0,202.6 L438.4,202.8 L438.8,205.0 L439.2,203.2 L439.6,201.8 L440.0,205.2 L440.4,202.5 L440.8,202.8 L441.2,203.1 L441.6,204.9 L442.0,200.4 L442.4,202.5 L442.8,201.9 L443.2,200.8 L443.6,202.4 L444.0,201.8 L444.4,201.2 L444.8,199.1 L445.2,201.9 L445.6,205.1 L446.0,203.7 L446.4,204.1 L446.8,207.2 L447.2,204.6 L447.6,201.4 L448.0,201.3 L448.4,202.6 L448.8,199.3 L449.2,202.1 L449.6,202.9 L450.0,205.7 L450.4,201.6 L450.8,203.3 L451.2,201.0 L451.6,201.2 L452.0,197.5 L452.4,200.7 L452.8,204.4 L453.2,203.3 L453.6,202.7 L454.0,206.7 L454.4,203.6 L454.8,200.5 L455.2,202.0 L455.6,203.8 L456.0,204.4 L456.4,200.3 L456.8,203.1 L457.2,204.0 L457.6,200.8 L458.0,202.2 L458.4,198.6 L458.8,202.3 L459.2,198.4 L459.6,205.0 L460.0,205.3 L460.4,203.1 L460.8,202.3 L461.2,202.6 L461.6,206.0 L462.0,203.2 L462.4,204.1 L462.8,201.6 L463.2,201.7 L463.6,200.4 L464.0,201.9 L464.4,200.9 L464.8,204.0 L465.2,203.5 L465.6,202.1 L466.0,201.4 L466.4,197.1 L466.8,201.2 L467.2,202.6 L467.6,203.1 L468.0,196.4 L468.4,197.7 L468.8,202.3 L469.2,200.4 L469.6,201.8 L470.0,201.1 L470.4,202.7 L470.8,198.2 L471.2,200.5 L471.6,203.4 L472.0,202.5 L472.4,201.0 L472.8,203.6 L473.2,203.3 L473.6,201.0 L474.0,203.5 L474.4,203.4 L474.8,201.8 L475.2,203.8 L475.6,200.0 L476.0,203.7 L476.4,201.8 L476.8,200.3 L477.2,200.7 L477.6,204.0 L478.0,200.9 L478.4,201.3 L478.8,200.7 L479.2,200.7 L479.6,204.0 L480.0,206.3 L480.4,204.5 L480.8,202.9 L481.2,203.4 L481.6,201.6 L482.0,201.4 L482.4,200.3 L482.8,204.8 L483.2,201.5 L483.6,200.4 L484.0,200.5 L484.4,201.9 L484.8,200.8 L485.2,202.0 L485.6,202.4 L486.0,204.7 L486.4,199.7 L486.8,202.5 L487.2,200.6 L487.6,201.3 L488.0,205.0 L488.4,202.9 L488.8,200.8 L489.2,202.5 L489.6,201.7 L490.0,203.7 L490.4,200.5 L490.8,202.7 L491.2,201.8 L491.6,202.4 L492.0,201.7 L492.4,200.5 L492.8,201.8 L493.2,203.5 L493.6,205.1 L494.0,201.1 L494.4,202.4 L494.8,200.1 L495.2,203.1 L495.6,202.9 L496.0,197.4 L496.4,200.4 L496.8,199.9 L497.2,203.5 L497.6,204.1 L498.0,200.0 L498.4,200.9 L498.8,201.8 L499.2,201.3 L499.6,203.5 L500.0,204.2 L500.4,203.3 L500.8,204.2 L501.2,203.7 L501.6,201.9 L502.0,201.2 L502.4,200.3 L502.8,203.0 L503.2,202.8 L503.6,203.3 L504.0,201.1 L504.4,201.4 L504.8,202.6 L505.2,204.4 L505.6,202.4 L506.0,202.1 L506.4,200.2 L506.8,203.1 L507.2,203.5 L507.6,200.6 L508.0,205.4 L508.4,199.9 L508.8,203.3 L509.2,201.3 L509.6,202.2 L510.0,200.5 L510.4,200.9 L510.8,203.4 L511.2,201.8 L511.6,201.5 L512.0,203.7 L512.4,203.1 L512.8,201.9 L513.2,202.0 L513.6,205.3 L514.0,202.1 L514.4,203.4 L514.8,203.2 L515.2,199.4 L515.6,198.3 L516.0,202.4 L516.4,203.8 L516.8,202.4 L517.2,200.8 L517.6,200.6 L518.0,203.4 L518.4,201.5 L518.8,199.0 L519.2,203.6 L519.6,202.5 L520.0,202.7 L520.4,204.1 L520.8,204.7 L521.2,203.2" stroke="#0000ff" stroke-width="1.9" fill="none"/>
<path d="M77.9,298.0 L78.2,296.9 L78.8,296.9 L79.4,297.0 L80.0,296.9 L80.6,297.1 L81.2,296.9 L81.8,296.9 L82.4,296.9 L83.0,297.0 L83.6,297.0 L84.2,296.8 L84.8,296.5 L85.4,296.5 L86.0,296.3 L86.6,296.4 L87.2,296.5 L87.8,296.5 L88.4,296.6 L89.0,296.6 L89.6,296.6 L90.2,296.4 L90.8,296.5 L91.4,296.5 L92.0,296.4 L92.6,296.5 L93.2,296.6 L93.8,296.4 L94.4,296.4 L95.0,296.3 L95.6,296.2 L96.2,296.1 L96.8,296.1 L97.4,296.1 L98.0,296.4 L98.6,296.8 L99.2,297.0 L99.8,296.8 L100.4,296.7 L101.0,296.8 L101.6,296.7 L102.2,296.6 L102.8,296.6 L103.4,296.6 L104.0,296.9 L104.6,297.1 L105.2,297.5 L105.8,297.8 L106.4,298.0 L107.0,298.4 L107.6,297.8 L108.2,297.8 L108.8,297.6 L109.4,297.4 L110.0,297.1 L110.6,297.0 L111.2,296.6 L111.8,296.6 L112.4,296.2 L113.0,296.3 L113.6,296.4 L114.2,296.7 L114.8,296.7 L115.4,296.8 L116.0,296.6 L116.6,296.7 L117.2,296.5 L117.8,296.5 L118.4,296.4 L119.0,296.6 L119.6,296.6 L120.2,296.5 L120.8,296.6 L121.4,296.6 L122.0,296.8 L122.6,296.6 L123.2,296.7 L123.8,296.9 L124.4,296.7 L125.0,296.6 L125.6,296.5 L126.2,296.3 L126.8,296.4 L127.4,296.5 L128.0,296.6 L128.6,296.5 L129.2,296.8 L129.8,296.5 L130.4,296.4 L131.0,296.4 L131.6,296.4 L132.2,296.7 L132.8,296.3 L133.4,296.7 L134.0,296.5 L134.6,296.6 L135.2,296.5 L135.8,296.4 L136.4,296.5 L137.0,296.7 L137.6,296.4 L138.2,296.4 L138.8,296.3 L139.4,296.5 L140.0,296.6 L140.6,296.6 L141.2,296.7 L141.8,296.7 L142.4,296.5 L143.0,296.8 L143.6,296.5 L144.2,296.4 L144.8,296.4 L145.4,296.4 L146.0,296.6 L146.6,296.6 L147.2,296.7 L147.8,296.5 L148.4,296.5 L149.0,296.7 L149.6,296.7 L150.2,296.7 L150.8,297.0 L151.4,296.5 L152.0,296.4 L152.6,296.5 L153.2,296.5 L153.8,296.6 L154.4,296.3 L155.0,296.3 L155.6,296.7 L156.2,296.4 L156.8,296.4 L157.4,296.5 L158.0,296.4 L158.6,296.8 L159.2,296.7 L159.8,296.8 L160.4,296.6 L161.0,296.3 L161.6,296.7 L162.2,296.1 L162.8,296.4 L163.4,296.3 L164.0,296.2 L164.6,296.4 L165.2,296.5 L165.8,296.3 L166.4,296.4 L167.0,296.9 L167.6,296.9 L168.2,296.9 L168.8,296.7 L169.4,296.6 L170.0,296.5 L170.6,296.4 L171.2,296.5 L171.8,296.5 L172.4,296.5 L173.0,295.9 L173.6,296.2 L174.2,296.4 L174.8,296.5 L175.4,296.4 L176.0,297.0 L176.6,296.8 L177.2,296.4 L177.8,296.4 L178.4,296.6 L179.0,296.4 L179.6,296.6 L180.2,296.7 L180.8,296.7 L181.4,296.6 L182.0,297.0 L182.6,296.5 L183.2,295.9 L183.8,296.8 L184.4,296.4 L185.0,296.3 L185.6,296.8 L186.2,296.3 L186.8,296.4 L187.4,296.5 L188.0,297.1 L188.6,296.9 L189.2,296.2 L189.8,297.0 L190.4,296.6 L191.0,296.8 L191.6,296.5 L192.2,297.2 L192.8,296.9 L193.4,297.2 L194.0,296.5 L194.6,296.9 L195.2,296.6 L195.8,296.5 L196.4,296.4 L197.0,296.5 L197.6,296.4 L198.2,296.6 L198.8,296.8 L199.4,297.0 L200.0,296.4 L200.6,296.5 L201.2,296.7 L201.8,296.3 L202.4,296.7 L203.0,296.6 L203.6,296.5 L204.2,296.5 L204.8,296.6 L205.4,296.8 L206.0,296.9 L206.6,297.1 L207.2,296.7 L207.8,296.5 L208.4,296.7 L209.0,296.5 L209.6,297.0 L210.2,296.4 L210.8,296.2 L211.4,296.7 L212.0,296.5 L212.6,296.4 L213.2,297.0 L213.8,297.1 L214.4,296.7 L215.0,296.5 L215.6,296.8 L216.2,296.6 L216.8,296.0 L217.4,296.8 L218.0,296.7 L218.6,297.2 L219.2,296.6 L219.8,296.7 L220.4,296.6 L221.0,296.0 L221.6,297.2 L222.2,295.8 L222.8,296.2 L223.4,296.6 L224.0,296.2 L224.6,296.8 L225.2,296.4 L225.8,296.5 L226.4,296.6 L227.0,296.6 L227.6,296.5 L228.2,296.3 L228.8,296.5 L229.4,296.6 L230.0,296.4 L230.6,296.4 L231.2,296.5 L231.8,296.7 L232.4,296.5 L233.0,296.6 L233.6,296.3 L234.2,297.4 L234.8,296.1 L235.4,297.1 L236.0,296.7 L236.6,296.8 L237.2,296.5 L237.8,296.6 L238.4,296.6 L239.0,296.9 L239.6,297.0 L240.2,297.3 L240.8,296.3 L241.4,296.8 L242.0,297.2 L242.6,297.1 L243.2,296.4 L243.8,296.9 L244.4,296.8 L245.0,296.6 L245.6,295.6 L246.2,296.7 L246.8,295.9 L247.4,297.5 L248.0,297.2 L248.6,297.0 L249.2,297.2 L249.8,296.9 L250.0,296.5 L250.4,296.6 L250.8,296.7 L251.2,296.3 L251.6,296.9 L252.0,297.1 L252.4,297.0 L252.8,297.2 L253.2,297.3 L253.6,297.2 L254.0,297.4 L254.4,296.7 L254.8,296.8 L255.2,297.2 L255.6,297.4 L256.0,296.4 L256.4,296.0 L256.8,297.7 L257.2,297.3 L257.6,297.7 L258.0,297.3 L258.4,297.1 L258.8,296.6 L259.2,296.2 L259.6,297.3 L260.0,297.1 L260.4,296.9 L260.8,296.2 L261.2,296.4 L261.6,296.4 L262.0,296.7 L262.4,295.5 L262.8,297.0 L263.2,297.4 L263.6,296.4 L264.0,296.7 L264.4,297.1 L264.8,296.4 L265.2,296.9 L265.6,296.2 L266.0,296.4 L266.4,296.7 L266.8,296.5 L267.2,296.5 L267.6,296.1 L268.0,297.0 L268.4,296.2 L268.8,297.1 L269.2,296.4 L269.6,296.1 L270.0,296.7 L270.4,296.2 L270.8,296.4 L271.2,296.6 L271.6,297.0 L272.0,297.1 L272.4,297.0 L272.8,296.6 L273.2,295.9 L273.6,296.7 L274.0,296.5 L274.4,296.4 L274.8,296.2 L275.2,296.5 L275.6,297.4 L276.0,296.2 L276.4,296.9 L276.8,297.5 L277.2,296.3 L277.6,296.1 L278.0,296.5 L278.4,296.4 L278.8,296.9 L279.2,297.5 L279.6,296.5 L280.0,296.8 L280.4,296.1 L280.8,296.3 L281.2,297.0 L281.6,296.4 L282.0,297.5 L282.4,296.2 L282.8,296.4 L283.2,295.9 L283.6,296.4 L284.0,296.0 L284.4,296.3 L284.8,295.7 L285.2,296.9 L285.6,298.1 L286.0,295.7 L286.4,297.8 L286.8,296.5 L287.2,297.2 L287.6,296.1 L288.0,298.1 L288.4,296.2 L288.8,296.8 L289.2,297.9 L289.6,296.0 L290.0,295.2 L290.4,296.4 L290.8,295.8 L291.2,295.5 L291.6,295.8 L292.0,295.7 L292.4,297.7 L292.8,297.5 L293.2,295.7 L293.6,296.6 L294.0,296.6 L294.4,297.7 L294.8,296.3 L295.2,297.8 L295.6,296.5 L296.0,296.0 L296.4,296.7 L296.8,296.6 L297.2,298.6 L297.6,297.0 L298.0,296.4 L298.4,296.8 L298.8,297.7 L299.2,296.0 L299.6,295.6 L300.0,298.0 L300.4,297.6 L300.8,296.8 L301.2,296.9 L301.6,297.5 L302.0,294.5 L302.4,297.5 L302.8,296.5 L303.2,297.3 L303.6,296.9 L304.0,299.4 L304.4,296.5 L304.8,297.7 L305.2,294.8 L305.6,296.7 L306.0,297.5 L306.4,295.7 L306.8,295.4 L307.2,297.0 L307.6,297.8 L308.0,298.0 L308.4,296.5 L308.8,297.1 L309.2,295.4 L309.6,297.8 L310.0,296.0 L310.4,297.6 L310.8,296.4 L311.2,300.3 L311.6,298.1 L312.0,296.0 L312.4,297.8 L312.8,296.4 L313.2,296.0 L313.6,296.1 L314.0,297.7 L314.4,296.8 L314.8,296.5 L315.2,295.3 L315.6,297.3 L316.0,297.1 L316.4,296.5 L316.8,297.1 L317.2,293.8 L317.6,296.0 L318.0,296.6 L318.4,296.5 L318.8,296.0 L319.2,296.8 L319.6,296.1 L320.0,296.2 L320.4,295.7 L320.8,296.8 L321.2,295.8 L321.6,296.1 L322.0,297.9 L322.4,296.8 L322.8,296.8 L323.2,295.3 L323.6,296.2 L324.0,297.6 L324.4,297.3 L324.8,296.9 L325.2,296.6 L325.6,296.8 L326.0,297.1 L326.4,296.4 L326.8,294.4 L327.2,298.5 L327.6,297.8 L328.0,296.6 L328.4,298.1 L328.8,295.6 L329.2,298.1 L329.6,297.1 L330.0,297.6 L330.4,296.3 L330.8,296.6 L331.2,297.1 L331.6,297.8 L332.0,297.5 L332.4,297.5 L332.8,296.3 L333.2,298.2 L333.6,296.6 L334.0,296.2 L334.4,296.3 L334.8,295.7 L335.2,296.3 L335.6,295.4 L336.0,296.9 L336.4,296.5 L336.8,296.9 L337.2,295.7 L337.6,296.6 L338.0,296.5 L338.4,297.9 L338.8,295.4 L339.2,295.3 L339.6,298.2 L340.0,297.3 L340.4,295.2 L340.8,297.8 L341.2,297.9 L341.6,297.5 L342.0,294.5 L342.4,296.8 L342.8,296.0 L343.2,296.7 L343.6,295.4 L344.0,298.6 L344.4,296.1 L344.8,297.1 L345.2,297.6 L345.6,297.7 L346.0,297.6 L346.4,296.8 L346.8,297.1 L347.2,296.7 L347.6,294.7 L348.0,298.2 L348.4,296.3 L348.8,296.2 L349.2,295.9 L349.6,294.7 L350.0,294.8 L350.4,294.5 L350.8,297.1 L351.2,298.1 L351.6,297.0 L352.0,295.7 L352.4,298.3 L352.8,296.5 L353.2,295.4 L353.6,295.1 L354.0,297.3 L354.4,298.4 L354.8,296.4 L355.2,296.1 L355.6,296.6 L356.0,296.1 L356.4,296.3 L356.8,297.2 L357.2,296.1 L357.6,297.9 L358.0,296.0 L358.4,297.9 L358.8,297.6 L359.2,300.5 L359.6,296.5 L360.0,296.4 L360.4,298.6 L360.8,296.0 L361.2,298.3 L361.6,298.1 L362.0,296.6 L362.4,298.4 L362.8,294.0 L363.2,296.8 L363.6,296.8 L364.0,296.6 L364.4,297.5 L364.8,296.0 L365.2,296.2 L365.6,297.6 L366.0,296.1 L366.4,295.2 L366.8,297.0 L367.2,296.5 L367.6,296.1 L368.0,297.3 L368.4,295.7 L368.8,295.3 L369.2,296.2 L369.6,296.5 L370.0,297.0 L370.4,295.7 L370.8,298.9 L371.2,297.6 L371.6,296.8 L372.0,296.9 L372.4,294.0 L372.8,297.8 L373.2,295.6 L373.6,297.0 L374.0,295.2 L374.4,297.6 L374.8,296.1 L375.2,296.6 L375.6,298.7 L376.0,298.2 L376.4,295.5 L376.8,296.1 L377.2,296.9 L377.6,296.3 L378.0,297.3 L378.4,295.6 L378.8,294.4 L379.2,295.7 L379.6,296.8 L380.0,297.7 L380.4,298.1 L380.8,298.6 L381.2,297.5 L381.6,296.9 L382.0,298.1 L382.4,297.1 L382.8,296.7 L383.2,296.7 L383.6,298.1 L384.0,298.6 L384.4,298.3 L384.8,295.0 L385.2,298.0 L385.6,295.3 L386.0,296.1 L386.4,297.2 L386.8,295.2 L387.2,295.5 L387.6,296.2 L388.0,299.2 L388.4,298.4 L388.8,296.0 L389.2,297.0 L389.6,297.0 L390.0,297.4 L390.4,296.3 L390.8,298.9 L391.2,296.6 L391.6,297.8 L392.0,294.8 L392.4,297.2 L392.8,297.1 L393.2,298.7 L393.6,294.3 L394.0,297.9 L394.4,298.0 L394.8,296.5 L395.2,298.2 L395.6,302.9 L396.0,298.0 L396.4,298.1 L396.8,298.8 L397.2,297.7 L397.6,298.5 L398.0,297.6 L398.4,296.0 L398.8,295.3 L399.2,297.9 L399.6,297.3 L400.0,296.2 L400.4,297.3 L400.8,299.1 L401.2,295.2 L401.6,296.2 L402.0,298.1 L402.4,298.2 L402.8,295.7 L403.2,296.1 L403.6,297.4 L404.0,298.8 L404.4,296.9 L404.8,294.1 L405.2,298.2 L405.6,296.9 L406.0,296.3 L406.4,295.4 L406.8,298.4 L407.2,297.3 L407.6,297.4 L408.0,297.3 L408.4,297.2 L408.8,297.8 L409.2,298.9 L409.6,295.6 L410.0,296.8 L410.4,296.3 L410.8,298.7 L411.2,296.2 L411.6,294.5 L412.0,296.6 L412.4,295.8 L412.8,296.0 L413.2,296.4 L413.6,295.4 L414.0,294.5 L414.4,299.3 L414.8,296.5 L415.2,295.5 L415.6,297.6 L416.0,298.6 L416.4,294.8 L416.8,296.3 L417.2,297.1 L417.6,295.5 L418.0,297.2 L418.4,295.3 L418.8,296.2 L419.2,296.9 L419.6,297.4 L420.0,296.8 L420.4,296.1 L420.8,296.8 L421.2,294.8 L421.6,300.2 L422.0,296.7 L422.4,296.6 L422.8,297.2 L423.2,297.6 L423.6,297.4 L424.0,296.1 L424.4,294.9 L424.8,296.6 L425.2,295.9 L425.6,296.2 L426.0,297.0 L426.4,297.1 L426.8,298.4 L427.2,296.3 L427.6,294.2 L428.0,297.2 L428.4,297.7 L428.8,294.4 L429.2,297.8 L429.6,297.3 L430.0,296.3 L430.4,297.0 L430.8,297.4 L431.2,297.6 L431.6,298.3 L432.0,296.5 L432.4,296.4 L432.8,299.6 L433.2,295.0 L433.6,296.1 L434.0,296.2 L434.4,297.9 L434.8,298.6 L435.2,295.3 L435.6,298.7 L436.0,295.2 L436.4,300.4 L436.8,295.7 L437.2,298.1 L437.6,296.3 L438.0,297.9 L438.4,296.1 L438.8,297.4 L439.2,297.3 L439.6,297.2 L440.0,298.2 L440.4,296.3 L440.8,296.5 L441.2,295.2 L441.6,296.9 L442.0,296.3 L442.4,298.0 L442.8,297.3 L443.2,295.3 L443.6,296.8 L444.0,298.3 L444.4,296.2 L444.8,295.1 L445.2,300.1 L445.6,297.6 L446.0,297.7 L446.4,300.3 L446.8,295.7 L447.2,297.6 L447.6,294.6 L448.0,298.0 L448.4,297.7 L448.8,295.9 L449.2,295.6 L449.6,296.7 L450.0,296.7 L450.4,301.2 L450.8,296.7 L451.2,296.9 L451.6,296.8 L452.0,294.7 L452.4,296.1 L452.8,294.9 L453.2,297.1 L453.6,294.1 L454.0,295.6 L454.4,297.6 L454.8,293.9 L455.2,294.7 L455.6,298.5 L456.0,295.4 L456.4,297.3 L456.8,297.6 L457.2,295.4 L457.6,294.2 L458.0,298.7 L458.4,295.7 L458.8,297.5 L459.2,295.8 L459.6,297.5 L460.0,295.1 L460.4,294.9 L460.8,295.3 L461.2,295.9 L461.6,295.8 L462.0,296.4 L462.4,297.6 L462.8,296.5 L463.2,298.9 L463.6,296.5 L464.0,298.3 L464.4,298.8 L464.8,299.2 L465.2,293.7 L465.6,299.5 L466.0,294.5 L466.4,299.3 L466.8,297.2 L467.2,297.8 L467.6,295.9 L468.0,298.6 L468.4,298.1 L468.8,296.3 L469.2,296.3 L469.6,298.6 L470.0,298.9 L470.4,298.4 L470.8,296.7 L471.2,297.3 L471.6,298.9 L472.0,298.7 L472.4,299.1 L472.8,297.5 L473.2,296.1 L473.6,297.6 L474.0,297.9 L474.4,296.5 L474.8,297.9 L475.2,295.7 L475.6,297.1 L476.0,295.6 L476.4,299.8 L476.8,298.5 L477.2,297.2 L477.6,294.8 L478.0,294.9 L478.4,297.9 L478.8,296.8 L479.2,297.7 L479.6,295.0 L480.0,295.2 L480.4,297.6 L480.8,297.0 L481.2,294.9 L481.6,295.5 L482.0,297.9 L482.4,296.0 L482.8,297.7 L483.2,299.4 L483.6,299.1 L484.0,297.1 L484.4,296.0 L484.8,298.7 L485.2,294.3 L485.6,294.7 L486.0,296.5 L486.4,294.2 L486.8,298.1 L487.2,295.4 L487.6,297.2 L488.0,295.8 L488.4,295.9 L488.8,296.4 L489.2,293.6 L489.6,295.4 L490.0,296.6 L490.4,300.7 L490.8,298.1 L491.2,297.7 L491.6,294.8 L492.0,298.0 L492.4,298.7 L492.8,298.1 L493.2,301.2 L493.6,294.9 L494.0,295.4 L494.4,296.8 L494.8,295.6 L495.2,297.0 L495.6,297.6 L496.0,296.6 L496.4,297.2 L496.8,297.8 L497.2,298.7 L497.6,296.1 L498.0,296.0 L498.4,298.6 L498.8,295.9 L499.2,295.2 L499.6,297.3 L500.0,296.5 L500.4,297.2 L500.8,296.9 L501.2,297.9 L501.6,298.4 L502.0,295.6 L502.4,295.3 L502.8,299.8 L503.2,295.8 L503.6,294.1 L504.0,293.8 L504.4,297.0 L504.8,296.1 L505.2,293.8 L505.6,295.0 L506.0,294.7 L506.4,298.3 L506.8,297.3 L507.2,297.0 L507.6,295.0 L508.0,296.6 L508.4,297.8 L508.8,296.6 L509.2,298.1 L509.6,296.7 L510.0,298.1 L510.4,297.8 L510.8,296.0 L511.2,299.2 L511.6,297.7 L512.0,298.5 L512.4,295.2 L512.8,295.1 L513.2,296.6 L513.6,295.5 L514.0,297.8 L514.4,297.4 L514.8,298.7 L515.2,297.7 L515.6,294.7 L516.0,298.3 L516.4,295.4 L516.8,294.9 L517.2,296.0 L517.6,296.1 L518.0,298.3 L518.4,301.7 L518.8,297.4 L519.2,299.2 L519.6,296.4 L520.0,297.5 L520.4,296.0 L520.8,296.0 L521.2,299.1" stroke="#0000ff" stroke-width="1.9" fill="none"/>
<path d="M74.6,520.0 L74.9,430.0 L75.3,400.0 L75.8,392.2 L76.0,392.0 L76.6,392.0 L77.2,392.0 L77.8,392.0 L78.4,392.1 L79.0,391.9 L79.6,391.6 L80.2,391.7 L80.8,391.7 L81.4,391.7 L82.0,392.0 L82.6,392.1 L83.2,392.2 L83.8,392.1 L84.4,391.9 L85.0,392.0 L85.6,392.0 L86.2,392.1 L86.8,392.0 L87.4,392.0 L88.0,391.9 L88.6,391.6 L89.2,391.5 L89.8,391.4 L90.4,391.7 L91.0,391.8 L91.6,391.7 L92.2,391.5 L92.8,391.4 L93.4,391.4 L94.0,391.7 L94.6,391.8 L95.2,392.0 L95.8,392.0 L96.4,392.0 L97.0,391.8 L97.6,391.9 L98.2,391.8 L98.8,392.1 L99.4,392.0 L100.0,392.3 L100.6,392.2 L101.2,392.4 L101.8,392.2 L102.4,392.3 L103.0,392.7 L103.6,393.0 L104.2,393.2 L104.8,393.4 L105.4,393.6 L106.0,393.7 L106.6,393.2 L107.2,392.8 L107.8,392.7 L108.4,392.2 L109.0,392.3 L109.6,392.1 L110.2,391.7 L110.8,391.8 L111.4,391.6 L112.0,391.7 L112.6,391.5 L113.2,391.4 L113.8,391.3 L114.4,391.3 L115.0,391.1 L115.6,391.5 L116.2,391.2 L116.8,391.3 L117.4,391.1 L118.0,391.1 L118.6,391.1 L119.2,391.1 L119.8,391.5 L120.4,391.7 L121.0,391.7 L121.6,391.6 L122.2,391.9 L122.8,391.8 L123.4,391.5 L124.0,391.7 L124.6,391.5 L125.2,391.4 L125.8,391.4 L126.4,391.2 L127.0,391.2 L127.6,391.4 L128.2,391.3 L128.8,391.3 L129.4,391.2 L130.0,391.3 L130.6,391.7 L131.2,391.6 L131.8,391.9 L132.4,391.9 L133.0,391.8 L133.6,391.8 L134.2,391.8 L134.8,392.1 L135.4,391.9 L136.0,392.0 L136.6,391.6 L137.2,391.8 L137.8,391.6 L138.4,391.4 L139.0,391.2 L139.6,391.3 L140.2,391.5 L140.8,391.2 L141.4,391.3 L142.0,391.6 L142.6,391.6 L143.2,391.5 L143.8,391.3 L144.4,391.5 L145.0,391.1 L145.6,391.5 L146.2,391.4 L146.8,391.8 L147.4,391.3 L148.0,391.6 L148.6,391.3 L149.2,391.2 L149.8,391.4 L150.4,391.3 L151.0,392.0 L151.6,391.8 L152.2,391.8 L152.8,392.4 L153.4,391.7 L154.0,391.7 L154.6,391.7 L155.2,391.5 L155.8,391.9 L156.4,391.9 L157.0,391.4 L157.6,391.4 L158.2,391.3 L158.8,391.1 L159.4,391.3 L160.0,391.6 L160.6,391.4 L161.2,391.5 L161.8,391.6 L162.4,391.6 L163.0,391.7 L163.6,391.5 L164.2,391.7 L164.8,392.0 L165.4,391.9 L166.0,391.5 L166.6,391.5 L167.2,391.5 L167.8,391.4 L168.4,392.0 L169.0,391.8 L169.6,391.3 L170.2,391.7 L170.8,391.5 L171.4,391.5 L172.0,391.2 L172.6,391.8 L173.2,391.5 L173.8,391.7 L174.4,391.2 L175.0,391.5 L175.6,392.0 L176.2,391.7 L176.8,391.8 L177.4,392.3 L178.0,392.3 L178.6,392.0 L179.2,392.4 L179.8,391.1 L180.4,391.6 L181.0,391.6 L181.6,392.4 L182.2,392.3 L182.8,391.4 L183.4,391.3 L184.0,391.4 L184.6,391.3 L185.2,391.1 L185.8,391.5 L186.4,392.0 L187.0,391.6 L187.6,391.2 L188.2,391.4 L188.8,391.3 L189.4,391.1 L190.0,391.7 L190.6,391.8 L191.2,391.9 L191.8,391.6 L192.4,391.4 L193.0,390.8 L193.6,391.1 L194.2,391.0 L194.8,391.5 L195.4,391.6 L196.0,391.7 L196.6,392.1 L197.2,391.5 L197.8,391.7 L198.4,391.4 L199.0,390.4 L199.6,391.3 L200.2,390.8 L200.8,390.9 L201.4,391.1 L202.0,390.6 L202.6,390.9 L203.2,391.3 L203.8,390.3 L204.4,391.5 L205.0,391.7 L205.6,391.6 L206.2,391.5 L206.8,391.3 L207.4,390.9 L208.0,391.6 L208.6,391.6 L209.2,392.0 L209.8,391.7 L210.4,391.4 L211.0,391.4 L211.6,391.7 L212.2,392.0 L212.8,390.6 L213.4,390.8 L214.0,390.5 L214.6,390.9 L215.2,390.7 L215.8,391.1 L216.4,390.8 L217.0,391.9 L217.6,391.1 L218.2,391.2 L218.8,391.0 L219.4,390.9 L220.0,390.9 L220.6,390.6 L221.2,390.5 L221.8,390.3 L222.4,391.1 L223.0,390.7 L223.6,390.5 L224.2,391.1 L224.8,391.5 L225.4,392.4 L226.0,392.1 L226.6,390.4 L227.2,390.7 L227.8,389.8 L228.4,389.9 L229.0,390.0 L229.6,391.6 L230.2,390.9 L230.8,390.2 L231.4,390.9 L232.0,391.1 L232.6,391.0 L233.2,392.1 L233.8,389.8 L234.4,390.6 L235.0,391.0 L235.6,391.0 L236.2,389.2 L236.8,390.6 L237.4,389.8 L238.0,390.4 L238.6,389.9 L239.2,391.5 L239.8,393.1 L240.4,391.7 L241.0,390.8 L241.6,389.9 L242.2,391.6 L242.8,391.7 L243.4,390.1 L244.0,391.4 L244.6,389.7 L245.2,390.0 L245.8,391.0 L246.4,389.9 L247.0,391.6 L247.6,392.2 L248.2,391.1 L248.8,390.8 L249.4,391.2 L250.0,390.4 L250.4,391.6 L250.8,392.0 L251.2,390.4 L251.6,392.5 L252.0,391.8 L252.4,391.1 L252.8,391.8 L253.2,391.6 L253.6,391.6 L254.0,390.5 L254.4,390.5 L254.8,390.5 L255.2,391.7 L255.6,391.6 L256.0,391.6 L256.4,391.1 L256.8,391.9 L257.2,389.0 L257.6,390.2 L258.0,391.7 L258.4,390.8 L258.8,391.4 L259.2,391.8 L259.6,390.9 L260.0,389.0 L260.4,390.1 L260.8,389.7 L261.2,391.3 L261.6,391.8 L262.0,390.6 L262.4,391.2 L262.8,390.6 L263.2,392.4 L263.6,390.8 L264.0,391.0 L264.4,391.4 L264.8,392.1 L265.2,391.7 L265.6,391.0 L266.0,390.9 L266.4,391.5 L266.8,391.7 L267.2,390.9 L267.6,390.6 L268.0,390.8 L268.4,391.3 L268.8,390.6 L269.2,390.0 L269.6,390.5 L270.0,390.2 L270.4,391.0 L270.8,390.1 L271.2,390.3 L271.6,392.5 L272.0,391.2 L272.4,390.0 L272.8,391.8 L273.2,390.5 L273.6,390.1 L274.0,391.4 L274.4,389.6 L274.8,390.7 L275.2,391.2 L275.6,391.4 L276.0,390.6 L276.4,390.8 L276.8,391.3 L277.2,392.3 L277.6,389.6 L278.0,391.9 L278.4,391.4 L278.8,392.2 L279.2,389.7 L279.6,391.6 L280.0,389.8 L280.4,390.8 L280.8,390.3 L281.2,388.4 L281.6,390.9 L282.0,391.4 L282.4,391.9 L282.8,390.6 L283.2,390.4 L283.6,392.2 L284.0,390.9 L284.4,392.0 L284.8,392.3 L285.2,390.8 L285.6,390.8 L286.0,390.3 L286.4,388.8 L286.8,390.7 L287.2,391.2 L287.6,391.7 L288.0,390.8 L288.4,392.9 L288.8,390.5 L289.2,391.0 L289.6,390.3 L290.0,390.7 L290.4,391.0 L290.8,390.7 L291.2,390.6 L291.6,391.1 L292.0,390.8 L292.4,389.8 L292.8,391.6 L293.2,390.4 L293.6,391.8 L294.0,391.3 L294.4,389.1 L294.8,389.9 L295.2,392.0 L295.6,390.3 L296.0,390.1 L296.4,390.1 L296.8,390.6 L297.2,391.6 L297.6,391.0 L298.0,393.4 L298.4,390.7 L298.8,390.5 L299.2,390.7 L299.6,390.9 L300.0,392.1 L300.4,392.8 L300.8,389.8 L301.2,390.2 L301.6,391.4 L302.0,390.8 L302.4,392.2 L302.8,390.2 L303.2,392.6 L303.6,389.0 L304.0,391.9 L304.4,391.7 L304.8,393.5 L305.2,389.5 L305.6,391.5 L306.0,391.9 L306.4,390.4 L306.8,392.0 L307.2,390.8 L307.6,390.2 L308.0,389.6 L308.4,390.7 L308.8,389.8 L309.2,388.6 L309.6,391.6 L310.0,389.1 L310.4,391.7 L310.8,391.1 L311.2,389.5 L311.6,388.7 L312.0,389.5 L312.4,389.4 L312.8,390.8 L313.2,390.9 L313.6,394.1 L314.0,388.2 L314.4,390.1 L314.8,391.5 L315.2,392.0 L315.6,392.3 L316.0,389.3 L316.4,391.7 L316.8,387.1 L317.2,390.7 L317.6,392.2 L318.0,391.7 L318.4,388.8 L318.8,389.5 L319.2,388.0 L319.6,389.7 L320.0,388.7 L320.4,390.6 L320.8,389.5 L321.2,391.7 L321.6,391.1 L322.0,390.8 L322.4,393.1 L322.8,391.7 L323.2,388.2 L323.6,392.1 L324.0,391.8 L324.4,392.7 L324.8,391.3 L325.2,388.0 L325.6,389.8 L326.0,387.0 L326.4,388.3 L326.8,389.2 L327.2,391.9 L327.6,390.3 L328.0,390.8 L328.4,391.6 L328.8,389.6 L329.2,392.4 L329.6,391.3 L330.0,389.8 L330.4,390.5 L330.8,391.2 L331.2,392.3 L331.6,393.5 L332.0,390.7 L332.4,390.8 L332.8,393.8 L333.2,396.0 L333.6,393.9 L334.0,391.5 L334.4,390.8 L334.8,392.4 L335.2,392.0 L335.6,390.4 L336.0,393.5 L336.4,394.9 L336.8,389.8 L337.2,389.6 L337.6,389.7 L338.0,388.5 L338.4,391.5 L338.8,388.4 L339.2,391.7 L339.6,391.7 L340.0,392.5 L340.4,389.3 L340.8,395.6 L341.2,391.3 L341.6,392.1 L342.0,391.4 L342.4,390.2 L342.8,393.0 L343.2,393.6 L343.6,393.4 L344.0,390.1 L344.4,391.8 L344.8,389.7 L345.2,390.7 L345.6,392.0 L346.0,388.7 L346.4,394.8 L346.8,392.3 L347.2,389.5 L347.6,389.8 L348.0,390.5 L348.4,390.3 L348.8,388.8 L349.2,390.7 L349.6,388.8 L350.0,390.1 L350.4,393.6 L350.8,390.5 L351.2,390.0 L351.6,392.9 L352.0,391.4 L352.4,392.1 L352.8,390.4 L353.2,392.7 L353.6,390.8 L354.0,392.6 L354.4,392.3 L354.8,393.7 L355.2,392.4 L355.6,390.8 L356.0,389.3 L356.4,390.6 L356.8,390.0 L357.2,393.4 L357.6,390.4 L358.0,387.6 L358.4,391.8 L358.8,392.6 L359.2,390.0 L359.6,392.6 L360.0,389.5 L360.4,391.9 L360.8,391.3 L361.2,392.1 L361.6,392.2 L362.0,390.3 L362.4,392.2 L362.8,390.0 L363.2,391.0 L363.6,393.2 L364.0,389.9 L364.4,391.5 L364.8,393.6 L365.2,392.7 L365.6,389.5 L366.0,389.6 L366.4,391.7 L366.8,390.4 L367.2,391.7 L367.6,389.5 L368.0,392.1 L368.4,388.3 L368.8,390.8 L369.2,391.8 L369.6,389.9 L370.0,388.8 L370.4,389.4 L370.8,388.3 L371.2,393.9 L371.6,387.9 L372.0,389.0 L372.4,391.5 L372.8,391.1 L373.2,392.5 L373.6,393.0 L374.0,391.8 L374.4,393.0 L374.8,390.1 L375.2,390.7 L375.6,392.3 L376.0,392.0 L376.4,392.1 L376.8,388.4 L377.2,389.8 L377.6,390.1 L378.0,393.9 L378.4,389.9 L378.8,392.5 L379.2,392.9 L379.6,394.1 L380.0,390.5 L380.4,391.2 L380.8,391.4 L381.2,391.0 L381.6,389.5 L382.0,392.0 L382.4,387.5 L382.8,390.1 L383.2,387.9 L383.6,392.1 L384.0,388.7 L384.4,389.1 L384.8,391.0 L385.2,389.7 L385.6,392.0 L386.0,391.0 L386.4,394.6 L386.8,389.1 L387.2,389.6 L387.6,391.7 L388.0,391.0 L388.4,391.5 L388.8,390.5 L389.2,392.9 L389.6,392.2 L390.0,394.0 L390.4,389.4 L390.8,391.8 L391.2,390.8 L391.6,391.8 L392.0,389.6 L392.4,392.5 L392.8,389.1 L393.2,392.8 L393.6,392.2 L394.0,388.2 L394.4,391.8 L394.8,388.0 L395.2,392.1 L395.6,388.6 L396.0,391.2 L396.4,395.1 L396.8,388.6 L397.2,388.2 L397.6,392.1 L398.0,390.6 L398.4,393.1 L398.8,391.5 L399.2,396.4 L399.6,392.6 L400.0,394.9 L400.4,392.1 L400.8,391.2 L401.2,391.9 L401.6,390.0 L402.0,390.5 L402.4,394.3 L402.8,391.1 L403.2,389.3 L403.6,392.0 L404.0,389.7 L404.4,391.3 L404.8,393.0 L405.2,392.9 L405.6,393.5 L406.0,392.2 L406.4,391.8 L406.8,392.3 L407.2,392.3 L407.6,391.8 L408.0,395.2 L408.4,391.2 L408.8,394.1 L409.2,391.4 L409.6,393.7 L410.0,386.8 L410.4,391.8 L410.8,390.4 L411.2,394.3 L411.6,394.1 L412.0,390.6 L412.4,391.4 L412.8,392.8 L413.2,391.3 L413.6,390.8 L414.0,392.2 L414.4,388.7 L414.8,393.8 L415.2,392.0 L415.6,386.3 L416.0,392.1 L416.4,390.9 L416.8,394.9 L417.2,391.3 L417.6,389.0 L418.0,394.2 L418.4,392.6 L418.8,391.9 L419.2,393.6 L419.6,391.1 L420.0,391.5 L420.4,393.4 L420.8,392.3 L421.2,393.1 L421.6,390.6 L422.0,394.1 L422.4,388.7 L422.8,389.0 L423.2,392.2 L423.6,390.9 L424.0,391.8 L424.4,391.7 L424.8,391.4 L425.2,389.8 L425.6,391.9 L426.0,393.7 L426.4,390.0 L426.8,394.8 L427.2,394.0 L427.6,393.9 L428.0,392.6 L428.4,389.5 L428.8,391.4 L429.2,389.9 L429.6,391.0 L430.0,388.7 L430.4,391.7 L430.8,390.0 L431.2,390.0 L431.6,388.2 L432.0,391.8 L432.4,395.0 L432.8,390.7 L433.2,391.0 L433.6,389.4 L434.0,390.8 L434.4,390.2 L434.8,388.7 L435.2,389.8 L435.6,390.4 L436.0,391.9 L436.4,390.9 L436.8,392.1 L437.2,393.9 L437.6,393.3 L438.0,390.9 L438.4,388.4 L438.8,391.2 L439.2,391.7 L439.6,393.6 L440.0,392.2 L440.4,397.3 L440.8,391.9 L441.2,393.5 L441.6,390.4 L442.0,390.0 L442.4,391.0 L442.8,391.7 L443.2,392.4 L443.6,385.5 L444.0,393.4 L444.4,394.5 L444.8,394.5 L445.2,393.5 L445.6,391.3 L446.0,392.5 L446.4,394.0 L446.8,390.2 L447.2,392.9 L447.6,392.5 L448.0,391.2 L448.4,395.0 L448.8,390.5 L449.2,390.0 L449.6,391.5 L450.0,390.6 L450.4,394.3 L450.8,389.0 L451.2,389.6 L451.6,392.4 L452.0,393.3 L452.4,389.8 L452.8,394.1 L453.2,387.9 L453.6,392.8 L454.0,389.1 L454.4,389.7 L454.8,393.9 L455.2,390.8 L455.6,390.0 L456.0,391.8 L456.4,395.1 L456.8,391.9 L457.2,390.4 L457.6,391.9 L458.0,389.1 L458.4,389.9 L458.8,390.0 L459.2,392.2 L459.6,390.3 L460.0,392.4 L460.4,393.8 L460.8,394.5 L461.2,388.3 L461.6,391.3 L462.0,389.2 L462.4,392.6 L462.8,392.1 L463.2,392.0 L463.6,390.9 L464.0,389.8 L464.4,388.2 L464.8,393.2 L465.2,391.4 L465.6,391.9 L466.0,392.2 L466.4,392.9 L466.8,394.8 L467.2,391.0 L467.6,392.4 L468.0,388.1 L468.4,390.4 L468.8,390.1 L469.2,390.5 L469.6,394.0 L470.0,392.0 L470.4,391.7 L470.8,391.6 L471.2,391.1 L471.6,391.3 L472.0,390.4 L472.4,390.5 L472.8,390.3 L473.2,390.7 L473.6,387.7 L474.0,391.8 L474.4,391.8 L474.8,392.5 L475.2,389.5 L475.6,389.8 L476.0,393.3 L476.4,390.6 L476.8,393.0 L477.2,390.5 L477.6,389.2 L478.0,388.4 L478.4,390.0 L478.8,390.3 L479.2,388.8 L479.6,393.7 L480.0,391.2 L480.4,389.7 L480.8,394.3 L481.2,393.0 L481.6,389.9 L482.0,389.4 L482.4,391.1 L482.8,392.8 L483.2,388.6 L483.6,393.0 L484.0,390.1 L484.4,392.5 L484.8,391.1 L485.2,392.7 L485.6,393.4 L486.0,394.6 L486.4,390.8 L486.8,395.6 L487.2,389.8 L487.6,392.7 L488.0,393.2 L488.4,391.7 L488.8,393.2 L489.2,388.3 L489.6,391.3 L490.0,393.3 L490.4,391.5 L490.8,389.6 L491.2,392.1 L491.6,392.3 L492.0,391.8 L492.4,394.1 L492.8,390.7 L493.2,389.9 L493.6,392.2 L494.0,390.7 L494.4,391.5 L494.8,392.1 L495.2,390.6 L495.6,392.5 L496.0,391.8 L496.4,393.6 L496.8,389.2 L497.2,391.2 L497.6,391.7 L498.0,392.0 L498.4,387.5 L498.8,389.5 L499.2,392.3 L499.6,392.8 L500.0,391.8 L500.4,392.1 L500.8,394.0 L501.2,390.8 L501.6,390.1 L502.0,394.6 L502.4,393.0 L502.8,391.4 L503.2,390.3 L503.6,394.9 L504.0,391.5 L504.4,390.7 L504.8,395.0 L505.2,389.8 L505.6,392.3 L506.0,393.4 L506.4,391.2 L506.8,390.4 L507.2,392.2 L507.6,388.9 L508.0,390.8 L508.4,392.8 L508.8,389.6 L509.2,394.6 L509.6,391.6 L510.0,391.8 L510.4,391.0 L510.8,393.2 L511.2,391.4 L511.6,392.8 L512.0,394.7 L512.4,394.3 L512.8,388.6 L513.2,393.7 L513.6,389.9 L514.0,391.4 L514.4,391.2 L514.8,391.9 L515.2,390.5 L515.6,393.0 L516.0,394.0 L516.4,391.1 L516.8,392.3 L517.2,393.9 L517.6,394.2 L518.0,392.8 L518.4,392.8 L518.8,393.2 L519.2,391.5 L519.6,392.5 L520.0,391.1 L520.4,390.9 L520.8,387.0 L521.2,390.4" stroke="#0000ff" stroke-width="1.9" fill="none"/></g>
<path d="M163.25,10 L163.25,18.9 M163.25,486.7 L163.25,477.7 M282.50,10 L282.50,18.9 M282.50,486.7 L282.50,477.7 M401.75,10 L401.75,18.9 M401.75,486.7 L401.75,477.7 " stroke="#000" stroke-width="1.5" fill="none"/>
<rect x="44" y="10.1" width="477" height="476.6" fill="none" stroke="#000" stroke-width="1.8"/>
<path d="M127.3,69.2 L89,81.4" stroke="#000" stroke-width="2.1" fill="none"/>
<path d="M77.9,85.6 L88.4,76.7 L91.8,86.9 Z" fill="#000"/>
<path d="M114.1,213 L119.2,218.7 L114.1,224.4 L109,218.7 Z" fill="#000"/>
<path d="M114.1,222 L114.1,249.5" stroke="#000" stroke-width="1.8"/>
<path d="M103.5,423.8 L103.5,472.1 M98.4,423.8 L108.4,423.8 M98.4,472.1 L108.4,472.1" stroke="#000" stroke-width="1.5" fill="none"/>
<path d="M368.2,437.6 L420.8,437.6" stroke="#ff0000" stroke-width="1.5"/>
<path d="M368.2,466.9 L420.8,466.9" stroke="#0000ff" stroke-width="1.5"/>
<g font-family="Liberation Sans, sans-serif" fill="#000" stroke="#000" stroke-width="0.2" style="filter:grayscale(1)"><text transform="translate(128.5,49.5) scale(1,1.0)" font-size="23.5" text-anchor="start" >Melting and</text>
<text transform="translate(128.5,72.5) scale(1,1.0)" font-size="23.5" text-anchor="start" >solidification</text>
<text transform="translate(128.5,96.3) scale(1,1.0)" font-size="23.5" text-anchor="start" >peaks of In</text>
<text transform="translate(513.5,93.8) scale(1,1.0)" font-size="23.3" text-anchor="end" >In in Mo crucible</text>
<text transform="translate(513.9,183.5) scale(1,1.0)" font-size="23.3" text-anchor="end" >In in Al<tspan font-size="14.2" dx="0.6" dy="8.2">2</tspan><tspan dy="-8.2">O</tspan><tspan font-size="14.2" dy="8.2">3</tspan><tspan dy="-8.2"> crucible</tspan></text>
<text transform="translate(514.2,281.5) scale(1,1.0)" font-size="23.4" text-anchor="end" >In + TiC in Al<tspan font-size="14.2" dx="0.6" dy="8.2">2</tspan><tspan dy="-8.2">O</tspan><tspan font-size="14.2" dy="8.2">3</tspan><tspan dy="-8.2"> crucible</tspan></text>
<text transform="translate(514.2,374.5) scale(1,1.0)" font-size="23.15" text-anchor="end" >In + ZrC in Al<tspan font-size="14.2" dx="0.6" dy="8.2">2</tspan><tspan dy="-8.2">O</tspan><tspan font-size="14.2" dy="8.2">3</tspan><tspan dy="-8.2"> crucible</tspan></text>
<text transform="translate(426.5,446.2) scale(1,1.0)" font-size="23.5" text-anchor="start" >heating</text>
<text transform="translate(426.5,474.8) scale(1,1.0)" font-size="23.5" text-anchor="start" >cooling</text>
<text transform="translate(107.5,455.2) scale(1,1.0)" font-size="21.5" text-anchor="start" >5 (nV/mg)/min</text>
<text transform="translate(44.95,514.0) scale(1,1.0)" font-size="23.5" text-anchor="middle" >100</text>
<text transform="translate(163.35,514.0) scale(1,1.0)" font-size="23.5" text-anchor="middle" >300</text>
<text transform="translate(282.2,514.0) scale(1,1.0)" font-size="23.5" text-anchor="middle" >500</text>
<text transform="translate(401.75,514.0) scale(1,1.0)" font-size="23.5" text-anchor="middle" >700</text>
<text transform="translate(520.6,514.0) scale(1,1.0)" font-size="23.5" text-anchor="middle" >900</text>
<text transform="translate(282.5,538.8) scale(1,1.0)" font-size="23.5" text-anchor="middle" >Temperature (°C)</text>
<text transform="translate(28.2,247.9) rotate(-90) scale(1,1.0)" font-size="23.4" text-anchor="middle">1st Derivative of DTA Signal: d(DTA)/dt</text></g>
</svg>
</body></html>
